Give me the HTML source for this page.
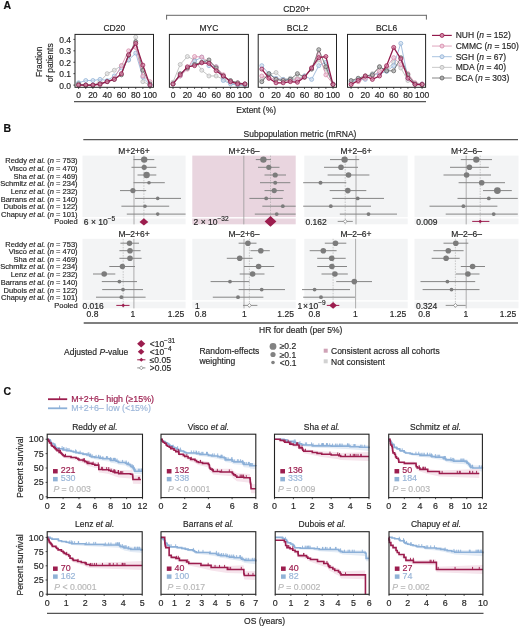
<!DOCTYPE html>
<html><head><meta charset="utf-8"><title>Figure</title>
<style>
html,body{margin:0;padding:0;background:#fff;}
body{width:520px;height:627px;overflow:hidden;}
svg{display:block;filter:blur(0.35px);color:#282828;} text{stroke:currentColor;stroke-width:0.18px;font-family:"Liberation Sans", sans-serif;}
</style></head><body>
<svg width="520" height="627" viewBox="0 0 520 627">
<rect x="0" y="0" width="520" height="627" fill="#fff"/>
<text transform="translate(3.60 9.30) scale(1.0 1)" font-size="10.5" text-anchor="start" fill="#111" style="color:#111" font-weight="bold"  >A</text>
<line x1="166.60" y1="15.30" x2="426.40" y2="15.30" stroke="#666" stroke-width="1" />
<line x1="166.60" y1="14.80" x2="166.60" y2="19.60" stroke="#666" stroke-width="1" />
<line x1="426.40" y1="14.80" x2="426.40" y2="19.60" stroke="#666" stroke-width="1" />
<text transform="translate(296.50 12.00) scale(1.0 1)" font-size="8.5" text-anchor="middle" fill="#282828" style="color:#282828" font-weight="normal"  >CD20+</text>
<text transform="translate(114.25 30.70) scale(1.0 1)" font-size="8.5" text-anchor="middle" fill="#282828" style="color:#282828" font-weight="normal"  >CD20</text>
<polyline points="78.60,85.10 85.74,85.10 92.88,85.10 100.02,81.67 107.16,73.67 114.30,70.25 121.44,65.68 128.58,59.96 135.72,37.11 142.86,81.67 150.00,85.10" fill="none" stroke="#b5b5b5" stroke-width="0.8"/>
<circle cx="78.60" cy="85.10" r="2.0" fill="#e2e2e2" fill-opacity="0.7" stroke="#b5b5b5" stroke-width="0.75"/>
<circle cx="85.74" cy="85.10" r="2.0" fill="#e2e2e2" fill-opacity="0.7" stroke="#b5b5b5" stroke-width="0.75"/>
<circle cx="92.88" cy="85.10" r="2.0" fill="#e2e2e2" fill-opacity="0.7" stroke="#b5b5b5" stroke-width="0.75"/>
<circle cx="100.02" cy="81.67" r="2.0" fill="#e2e2e2" fill-opacity="0.7" stroke="#b5b5b5" stroke-width="0.75"/>
<circle cx="107.16" cy="73.67" r="2.0" fill="#e2e2e2" fill-opacity="0.7" stroke="#b5b5b5" stroke-width="0.75"/>
<circle cx="114.30" cy="70.25" r="2.0" fill="#e2e2e2" fill-opacity="0.7" stroke="#b5b5b5" stroke-width="0.75"/>
<circle cx="121.44" cy="65.68" r="2.0" fill="#e2e2e2" fill-opacity="0.7" stroke="#b5b5b5" stroke-width="0.75"/>
<circle cx="128.58" cy="59.96" r="2.0" fill="#e2e2e2" fill-opacity="0.7" stroke="#b5b5b5" stroke-width="0.75"/>
<circle cx="135.72" cy="37.11" r="2.0" fill="#e2e2e2" fill-opacity="0.7" stroke="#b5b5b5" stroke-width="0.75"/>
<circle cx="142.86" cy="81.67" r="2.0" fill="#e2e2e2" fill-opacity="0.7" stroke="#b5b5b5" stroke-width="0.75"/>
<circle cx="150.00" cy="85.10" r="2.0" fill="#e2e2e2" fill-opacity="0.7" stroke="#b5b5b5" stroke-width="0.75"/>
<polyline points="78.60,82.81 85.74,80.53 92.88,80.53 100.02,79.39 107.16,80.53 114.30,75.96 121.44,67.96 128.58,59.96 135.72,53.11 142.86,77.10 150.00,85.10" fill="none" stroke="#8eb0d6" stroke-width="0.8"/>
<circle cx="78.60" cy="82.81" r="2.0" fill="#d3e0f0" fill-opacity="0.7" stroke="#8eb0d6" stroke-width="0.75"/>
<circle cx="85.74" cy="80.53" r="2.0" fill="#d3e0f0" fill-opacity="0.7" stroke="#8eb0d6" stroke-width="0.75"/>
<circle cx="92.88" cy="80.53" r="2.0" fill="#d3e0f0" fill-opacity="0.7" stroke="#8eb0d6" stroke-width="0.75"/>
<circle cx="100.02" cy="79.39" r="2.0" fill="#d3e0f0" fill-opacity="0.7" stroke="#8eb0d6" stroke-width="0.75"/>
<circle cx="107.16" cy="80.53" r="2.0" fill="#d3e0f0" fill-opacity="0.7" stroke="#8eb0d6" stroke-width="0.75"/>
<circle cx="114.30" cy="75.96" r="2.0" fill="#d3e0f0" fill-opacity="0.7" stroke="#8eb0d6" stroke-width="0.75"/>
<circle cx="121.44" cy="67.96" r="2.0" fill="#d3e0f0" fill-opacity="0.7" stroke="#8eb0d6" stroke-width="0.75"/>
<circle cx="128.58" cy="59.96" r="2.0" fill="#d3e0f0" fill-opacity="0.7" stroke="#8eb0d6" stroke-width="0.75"/>
<circle cx="135.72" cy="53.11" r="2.0" fill="#d3e0f0" fill-opacity="0.7" stroke="#8eb0d6" stroke-width="0.75"/>
<circle cx="142.86" cy="77.10" r="2.0" fill="#d3e0f0" fill-opacity="0.7" stroke="#8eb0d6" stroke-width="0.75"/>
<circle cx="150.00" cy="85.10" r="2.0" fill="#d3e0f0" fill-opacity="0.7" stroke="#8eb0d6" stroke-width="0.75"/>
<polyline points="78.60,85.10 85.74,85.10 92.88,85.10 100.02,85.10 107.16,81.67 114.30,78.24 121.44,65.68 128.58,50.82 135.72,47.40 142.86,75.96 150.00,81.67" fill="none" stroke="#d488a8" stroke-width="0.8"/>
<circle cx="78.60" cy="85.10" r="2.0" fill="#f0cadb" fill-opacity="0.7" stroke="#d488a8" stroke-width="0.75"/>
<circle cx="85.74" cy="85.10" r="2.0" fill="#f0cadb" fill-opacity="0.7" stroke="#d488a8" stroke-width="0.75"/>
<circle cx="92.88" cy="85.10" r="2.0" fill="#f0cadb" fill-opacity="0.7" stroke="#d488a8" stroke-width="0.75"/>
<circle cx="100.02" cy="85.10" r="2.0" fill="#f0cadb" fill-opacity="0.7" stroke="#d488a8" stroke-width="0.75"/>
<circle cx="107.16" cy="81.67" r="2.0" fill="#f0cadb" fill-opacity="0.7" stroke="#d488a8" stroke-width="0.75"/>
<circle cx="114.30" cy="78.24" r="2.0" fill="#f0cadb" fill-opacity="0.7" stroke="#d488a8" stroke-width="0.75"/>
<circle cx="121.44" cy="65.68" r="2.0" fill="#f0cadb" fill-opacity="0.7" stroke="#d488a8" stroke-width="0.75"/>
<circle cx="128.58" cy="50.82" r="2.0" fill="#f0cadb" fill-opacity="0.7" stroke="#d488a8" stroke-width="0.75"/>
<circle cx="135.72" cy="47.40" r="2.0" fill="#f0cadb" fill-opacity="0.7" stroke="#d488a8" stroke-width="0.75"/>
<circle cx="142.86" cy="75.96" r="2.0" fill="#f0cadb" fill-opacity="0.7" stroke="#d488a8" stroke-width="0.75"/>
<circle cx="150.00" cy="81.67" r="2.0" fill="#f0cadb" fill-opacity="0.7" stroke="#d488a8" stroke-width="0.75"/>
<polyline points="78.60,83.96 85.74,85.10 92.88,85.10 100.02,83.96 107.16,81.67 114.30,79.39 121.44,74.82 128.58,55.39 135.72,41.68 142.86,70.25 150.00,83.96" fill="none" stroke="#5e5e5e" stroke-width="0.8"/>
<circle cx="78.60" cy="83.96" r="2.0" fill="#b0b0b0" fill-opacity="0.7" stroke="#5e5e5e" stroke-width="0.75"/>
<circle cx="85.74" cy="85.10" r="2.0" fill="#b0b0b0" fill-opacity="0.7" stroke="#5e5e5e" stroke-width="0.75"/>
<circle cx="92.88" cy="85.10" r="2.0" fill="#b0b0b0" fill-opacity="0.7" stroke="#5e5e5e" stroke-width="0.75"/>
<circle cx="100.02" cy="83.96" r="2.0" fill="#b0b0b0" fill-opacity="0.7" stroke="#5e5e5e" stroke-width="0.75"/>
<circle cx="107.16" cy="81.67" r="2.0" fill="#b0b0b0" fill-opacity="0.7" stroke="#5e5e5e" stroke-width="0.75"/>
<circle cx="114.30" cy="79.39" r="2.0" fill="#b0b0b0" fill-opacity="0.7" stroke="#5e5e5e" stroke-width="0.75"/>
<circle cx="121.44" cy="74.82" r="2.0" fill="#b0b0b0" fill-opacity="0.7" stroke="#5e5e5e" stroke-width="0.75"/>
<circle cx="128.58" cy="55.39" r="2.0" fill="#b0b0b0" fill-opacity="0.7" stroke="#5e5e5e" stroke-width="0.75"/>
<circle cx="135.72" cy="41.68" r="2.0" fill="#b0b0b0" fill-opacity="0.7" stroke="#5e5e5e" stroke-width="0.75"/>
<circle cx="142.86" cy="70.25" r="2.0" fill="#b0b0b0" fill-opacity="0.7" stroke="#5e5e5e" stroke-width="0.75"/>
<circle cx="150.00" cy="83.96" r="2.0" fill="#b0b0b0" fill-opacity="0.7" stroke="#5e5e5e" stroke-width="0.75"/>
<polyline points="78.60,85.10 85.74,85.10 92.88,85.10 100.02,83.96 107.16,81.67 114.30,79.39 121.44,73.67 128.58,54.82 135.72,43.40 142.86,65.11 150.00,85.10" fill="none" stroke="#931a4c" stroke-width="1.25"/>
<circle cx="78.60" cy="85.10" r="2.0" fill="#d68aa9" fill-opacity="0.7" stroke="#931a4c" stroke-width="0.75"/>
<circle cx="85.74" cy="85.10" r="2.0" fill="#d68aa9" fill-opacity="0.7" stroke="#931a4c" stroke-width="0.75"/>
<circle cx="92.88" cy="85.10" r="2.0" fill="#d68aa9" fill-opacity="0.7" stroke="#931a4c" stroke-width="0.75"/>
<circle cx="100.02" cy="83.96" r="2.0" fill="#d68aa9" fill-opacity="0.7" stroke="#931a4c" stroke-width="0.75"/>
<circle cx="107.16" cy="81.67" r="2.0" fill="#d68aa9" fill-opacity="0.7" stroke="#931a4c" stroke-width="0.75"/>
<circle cx="114.30" cy="79.39" r="2.0" fill="#d68aa9" fill-opacity="0.7" stroke="#931a4c" stroke-width="0.75"/>
<circle cx="121.44" cy="73.67" r="2.0" fill="#d68aa9" fill-opacity="0.7" stroke="#931a4c" stroke-width="0.75"/>
<circle cx="128.58" cy="54.82" r="2.0" fill="#d68aa9" fill-opacity="0.7" stroke="#931a4c" stroke-width="0.75"/>
<circle cx="135.72" cy="43.40" r="2.0" fill="#d68aa9" fill-opacity="0.7" stroke="#931a4c" stroke-width="0.75"/>
<circle cx="142.86" cy="65.11" r="2.0" fill="#d68aa9" fill-opacity="0.7" stroke="#931a4c" stroke-width="0.75"/>
<circle cx="150.00" cy="85.10" r="2.0" fill="#d68aa9" fill-opacity="0.7" stroke="#931a4c" stroke-width="0.75"/>
<rect x="75.00" y="34.40" width="78.50" height="52.90" fill="none" stroke="#222" stroke-width="1.0"/>
<line x1="78.60" y1="87.30" x2="78.60" y2="88.90" stroke="#222" stroke-width="0.8" />
<text transform="translate(78.60 98.40) scale(1.0 1)" font-size="8.5" text-anchor="middle" fill="#282828" style="color:#282828" font-weight="normal"  >0</text>
<line x1="85.74" y1="87.30" x2="85.74" y2="88.90" stroke="#222" stroke-width="0.8" />
<line x1="92.88" y1="87.30" x2="92.88" y2="88.90" stroke="#222" stroke-width="0.8" />
<text transform="translate(92.88 98.40) scale(1.0 1)" font-size="8.5" text-anchor="middle" fill="#282828" style="color:#282828" font-weight="normal"  >20</text>
<line x1="100.02" y1="87.30" x2="100.02" y2="88.90" stroke="#222" stroke-width="0.8" />
<line x1="107.16" y1="87.30" x2="107.16" y2="88.90" stroke="#222" stroke-width="0.8" />
<text transform="translate(107.16 98.40) scale(1.0 1)" font-size="8.5" text-anchor="middle" fill="#282828" style="color:#282828" font-weight="normal"  >40</text>
<line x1="114.30" y1="87.30" x2="114.30" y2="88.90" stroke="#222" stroke-width="0.8" />
<line x1="121.44" y1="87.30" x2="121.44" y2="88.90" stroke="#222" stroke-width="0.8" />
<text transform="translate(121.44 98.40) scale(1.0 1)" font-size="8.5" text-anchor="middle" fill="#282828" style="color:#282828" font-weight="normal"  >60</text>
<line x1="128.58" y1="87.30" x2="128.58" y2="88.90" stroke="#222" stroke-width="0.8" />
<line x1="135.72" y1="87.30" x2="135.72" y2="88.90" stroke="#222" stroke-width="0.8" />
<text transform="translate(135.72 98.40) scale(1.0 1)" font-size="8.5" text-anchor="middle" fill="#282828" style="color:#282828" font-weight="normal"  >80</text>
<line x1="142.86" y1="87.30" x2="142.86" y2="88.90" stroke="#222" stroke-width="0.8" />
<line x1="150.00" y1="87.30" x2="150.00" y2="88.90" stroke="#222" stroke-width="0.8" />
<text transform="translate(150.00 98.40) scale(1.0 1)" font-size="8.5" text-anchor="middle" fill="#282828" style="color:#282828" font-weight="normal"  >100</text>
<text transform="translate(208.90 30.70) scale(1.0 1)" font-size="8.5" text-anchor="middle" fill="#282828" style="color:#282828" font-weight="normal"  >MYC</text>
<polyline points="173.00,82.24 180.19,64.53 187.38,56.54 194.57,59.96 201.76,70.25 208.95,75.96 216.14,75.96 223.33,79.39 230.52,82.81 237.71,85.10 244.90,85.10" fill="none" stroke="#b5b5b5" stroke-width="0.8"/>
<circle cx="173.00" cy="82.24" r="2.0" fill="#e2e2e2" fill-opacity="0.7" stroke="#b5b5b5" stroke-width="0.75"/>
<circle cx="180.19" cy="64.53" r="2.0" fill="#e2e2e2" fill-opacity="0.7" stroke="#b5b5b5" stroke-width="0.75"/>
<circle cx="187.38" cy="56.54" r="2.0" fill="#e2e2e2" fill-opacity="0.7" stroke="#b5b5b5" stroke-width="0.75"/>
<circle cx="194.57" cy="59.96" r="2.0" fill="#e2e2e2" fill-opacity="0.7" stroke="#b5b5b5" stroke-width="0.75"/>
<circle cx="201.76" cy="70.25" r="2.0" fill="#e2e2e2" fill-opacity="0.7" stroke="#b5b5b5" stroke-width="0.75"/>
<circle cx="208.95" cy="75.96" r="2.0" fill="#e2e2e2" fill-opacity="0.7" stroke="#b5b5b5" stroke-width="0.75"/>
<circle cx="216.14" cy="75.96" r="2.0" fill="#e2e2e2" fill-opacity="0.7" stroke="#b5b5b5" stroke-width="0.75"/>
<circle cx="223.33" cy="79.39" r="2.0" fill="#e2e2e2" fill-opacity="0.7" stroke="#b5b5b5" stroke-width="0.75"/>
<circle cx="230.52" cy="82.81" r="2.0" fill="#e2e2e2" fill-opacity="0.7" stroke="#b5b5b5" stroke-width="0.75"/>
<circle cx="237.71" cy="85.10" r="2.0" fill="#e2e2e2" fill-opacity="0.7" stroke="#b5b5b5" stroke-width="0.75"/>
<circle cx="244.90" cy="85.10" r="2.0" fill="#e2e2e2" fill-opacity="0.7" stroke="#b5b5b5" stroke-width="0.75"/>
<polyline points="173.00,83.96 180.19,75.96 187.38,67.96 194.57,61.11 201.76,57.11 208.95,65.68 216.14,66.82 223.33,80.53 230.52,83.96 237.71,85.10 244.90,85.10" fill="none" stroke="#8eb0d6" stroke-width="0.8"/>
<circle cx="173.00" cy="83.96" r="2.0" fill="#d3e0f0" fill-opacity="0.7" stroke="#8eb0d6" stroke-width="0.75"/>
<circle cx="180.19" cy="75.96" r="2.0" fill="#d3e0f0" fill-opacity="0.7" stroke="#8eb0d6" stroke-width="0.75"/>
<circle cx="187.38" cy="67.96" r="2.0" fill="#d3e0f0" fill-opacity="0.7" stroke="#8eb0d6" stroke-width="0.75"/>
<circle cx="194.57" cy="61.11" r="2.0" fill="#d3e0f0" fill-opacity="0.7" stroke="#8eb0d6" stroke-width="0.75"/>
<circle cx="201.76" cy="57.11" r="2.0" fill="#d3e0f0" fill-opacity="0.7" stroke="#8eb0d6" stroke-width="0.75"/>
<circle cx="208.95" cy="65.68" r="2.0" fill="#d3e0f0" fill-opacity="0.7" stroke="#8eb0d6" stroke-width="0.75"/>
<circle cx="216.14" cy="66.82" r="2.0" fill="#d3e0f0" fill-opacity="0.7" stroke="#8eb0d6" stroke-width="0.75"/>
<circle cx="223.33" cy="80.53" r="2.0" fill="#d3e0f0" fill-opacity="0.7" stroke="#8eb0d6" stroke-width="0.75"/>
<circle cx="230.52" cy="83.96" r="2.0" fill="#d3e0f0" fill-opacity="0.7" stroke="#8eb0d6" stroke-width="0.75"/>
<circle cx="237.71" cy="85.10" r="2.0" fill="#d3e0f0" fill-opacity="0.7" stroke="#8eb0d6" stroke-width="0.75"/>
<circle cx="244.90" cy="85.10" r="2.0" fill="#d3e0f0" fill-opacity="0.7" stroke="#8eb0d6" stroke-width="0.75"/>
<polyline points="173.00,83.96 180.19,75.96 187.38,69.10 194.57,56.54 201.76,57.11 208.95,62.25 216.14,66.82 223.33,74.82 230.52,81.67 237.71,82.81 244.90,83.96" fill="none" stroke="#d488a8" stroke-width="0.8"/>
<circle cx="173.00" cy="83.96" r="2.0" fill="#f0cadb" fill-opacity="0.7" stroke="#d488a8" stroke-width="0.75"/>
<circle cx="180.19" cy="75.96" r="2.0" fill="#f0cadb" fill-opacity="0.7" stroke="#d488a8" stroke-width="0.75"/>
<circle cx="187.38" cy="69.10" r="2.0" fill="#f0cadb" fill-opacity="0.7" stroke="#d488a8" stroke-width="0.75"/>
<circle cx="194.57" cy="56.54" r="2.0" fill="#f0cadb" fill-opacity="0.7" stroke="#d488a8" stroke-width="0.75"/>
<circle cx="201.76" cy="57.11" r="2.0" fill="#f0cadb" fill-opacity="0.7" stroke="#d488a8" stroke-width="0.75"/>
<circle cx="208.95" cy="62.25" r="2.0" fill="#f0cadb" fill-opacity="0.7" stroke="#d488a8" stroke-width="0.75"/>
<circle cx="216.14" cy="66.82" r="2.0" fill="#f0cadb" fill-opacity="0.7" stroke="#d488a8" stroke-width="0.75"/>
<circle cx="223.33" cy="74.82" r="2.0" fill="#f0cadb" fill-opacity="0.7" stroke="#d488a8" stroke-width="0.75"/>
<circle cx="230.52" cy="81.67" r="2.0" fill="#f0cadb" fill-opacity="0.7" stroke="#d488a8" stroke-width="0.75"/>
<circle cx="237.71" cy="82.81" r="2.0" fill="#f0cadb" fill-opacity="0.7" stroke="#d488a8" stroke-width="0.75"/>
<circle cx="244.90" cy="83.96" r="2.0" fill="#f0cadb" fill-opacity="0.7" stroke="#d488a8" stroke-width="0.75"/>
<polyline points="173.00,83.96 180.19,73.67 187.38,67.96 194.57,64.53 201.76,62.25 208.95,59.96 216.14,67.96 223.33,75.96 230.52,80.53 237.71,82.81 244.90,83.96" fill="none" stroke="#5e5e5e" stroke-width="0.8"/>
<circle cx="173.00" cy="83.96" r="2.0" fill="#b0b0b0" fill-opacity="0.7" stroke="#5e5e5e" stroke-width="0.75"/>
<circle cx="180.19" cy="73.67" r="2.0" fill="#b0b0b0" fill-opacity="0.7" stroke="#5e5e5e" stroke-width="0.75"/>
<circle cx="187.38" cy="67.96" r="2.0" fill="#b0b0b0" fill-opacity="0.7" stroke="#5e5e5e" stroke-width="0.75"/>
<circle cx="194.57" cy="64.53" r="2.0" fill="#b0b0b0" fill-opacity="0.7" stroke="#5e5e5e" stroke-width="0.75"/>
<circle cx="201.76" cy="62.25" r="2.0" fill="#b0b0b0" fill-opacity="0.7" stroke="#5e5e5e" stroke-width="0.75"/>
<circle cx="208.95" cy="59.96" r="2.0" fill="#b0b0b0" fill-opacity="0.7" stroke="#5e5e5e" stroke-width="0.75"/>
<circle cx="216.14" cy="67.96" r="2.0" fill="#b0b0b0" fill-opacity="0.7" stroke="#5e5e5e" stroke-width="0.75"/>
<circle cx="223.33" cy="75.96" r="2.0" fill="#b0b0b0" fill-opacity="0.7" stroke="#5e5e5e" stroke-width="0.75"/>
<circle cx="230.52" cy="80.53" r="2.0" fill="#b0b0b0" fill-opacity="0.7" stroke="#5e5e5e" stroke-width="0.75"/>
<circle cx="237.71" cy="82.81" r="2.0" fill="#b0b0b0" fill-opacity="0.7" stroke="#5e5e5e" stroke-width="0.75"/>
<circle cx="244.90" cy="83.96" r="2.0" fill="#b0b0b0" fill-opacity="0.7" stroke="#5e5e5e" stroke-width="0.75"/>
<polyline points="173.00,83.96 180.19,74.82 187.38,66.82 194.57,65.68 201.76,62.82 208.95,63.39 216.14,70.82 223.33,75.96 230.52,81.67 237.71,83.96 244.90,83.96" fill="none" stroke="#931a4c" stroke-width="1.25"/>
<circle cx="173.00" cy="83.96" r="2.0" fill="#d68aa9" fill-opacity="0.7" stroke="#931a4c" stroke-width="0.75"/>
<circle cx="180.19" cy="74.82" r="2.0" fill="#d68aa9" fill-opacity="0.7" stroke="#931a4c" stroke-width="0.75"/>
<circle cx="187.38" cy="66.82" r="2.0" fill="#d68aa9" fill-opacity="0.7" stroke="#931a4c" stroke-width="0.75"/>
<circle cx="194.57" cy="65.68" r="2.0" fill="#d68aa9" fill-opacity="0.7" stroke="#931a4c" stroke-width="0.75"/>
<circle cx="201.76" cy="62.82" r="2.0" fill="#d68aa9" fill-opacity="0.7" stroke="#931a4c" stroke-width="0.75"/>
<circle cx="208.95" cy="63.39" r="2.0" fill="#d68aa9" fill-opacity="0.7" stroke="#931a4c" stroke-width="0.75"/>
<circle cx="216.14" cy="70.82" r="2.0" fill="#d68aa9" fill-opacity="0.7" stroke="#931a4c" stroke-width="0.75"/>
<circle cx="223.33" cy="75.96" r="2.0" fill="#d68aa9" fill-opacity="0.7" stroke="#931a4c" stroke-width="0.75"/>
<circle cx="230.52" cy="81.67" r="2.0" fill="#d68aa9" fill-opacity="0.7" stroke="#931a4c" stroke-width="0.75"/>
<circle cx="237.71" cy="83.96" r="2.0" fill="#d68aa9" fill-opacity="0.7" stroke="#931a4c" stroke-width="0.75"/>
<circle cx="244.90" cy="83.96" r="2.0" fill="#d68aa9" fill-opacity="0.7" stroke="#931a4c" stroke-width="0.75"/>
<rect x="169.40" y="34.40" width="79.00" height="52.90" fill="none" stroke="#222" stroke-width="1.0"/>
<line x1="173.00" y1="87.30" x2="173.00" y2="88.90" stroke="#222" stroke-width="0.8" />
<text transform="translate(173.00 98.40) scale(1.0 1)" font-size="8.5" text-anchor="middle" fill="#282828" style="color:#282828" font-weight="normal"  >0</text>
<line x1="180.19" y1="87.30" x2="180.19" y2="88.90" stroke="#222" stroke-width="0.8" />
<line x1="187.38" y1="87.30" x2="187.38" y2="88.90" stroke="#222" stroke-width="0.8" />
<text transform="translate(187.38 98.40) scale(1.0 1)" font-size="8.5" text-anchor="middle" fill="#282828" style="color:#282828" font-weight="normal"  >20</text>
<line x1="194.57" y1="87.30" x2="194.57" y2="88.90" stroke="#222" stroke-width="0.8" />
<line x1="201.76" y1="87.30" x2="201.76" y2="88.90" stroke="#222" stroke-width="0.8" />
<text transform="translate(201.76 98.40) scale(1.0 1)" font-size="8.5" text-anchor="middle" fill="#282828" style="color:#282828" font-weight="normal"  >40</text>
<line x1="208.95" y1="87.30" x2="208.95" y2="88.90" stroke="#222" stroke-width="0.8" />
<line x1="216.14" y1="87.30" x2="216.14" y2="88.90" stroke="#222" stroke-width="0.8" />
<text transform="translate(216.14 98.40) scale(1.0 1)" font-size="8.5" text-anchor="middle" fill="#282828" style="color:#282828" font-weight="normal"  >60</text>
<line x1="223.33" y1="87.30" x2="223.33" y2="88.90" stroke="#222" stroke-width="0.8" />
<line x1="230.52" y1="87.30" x2="230.52" y2="88.90" stroke="#222" stroke-width="0.8" />
<text transform="translate(230.52 98.40) scale(1.0 1)" font-size="8.5" text-anchor="middle" fill="#282828" style="color:#282828" font-weight="normal"  >80</text>
<line x1="237.71" y1="87.30" x2="237.71" y2="88.90" stroke="#222" stroke-width="0.8" />
<line x1="244.90" y1="87.30" x2="244.90" y2="88.90" stroke="#222" stroke-width="0.8" />
<text transform="translate(244.90 98.40) scale(1.0 1)" font-size="8.5" text-anchor="middle" fill="#282828" style="color:#282828" font-weight="normal"  >100</text>
<text transform="translate(297.35 30.70) scale(1.0 1)" font-size="8.5" text-anchor="middle" fill="#282828" style="color:#282828" font-weight="normal"  >BCL2</text>
<polyline points="261.80,79.39 268.92,74.82 276.04,72.53 283.16,79.39 290.28,78.24 297.40,78.24 304.52,75.96 311.64,69.10 318.76,59.96 325.88,69.10 333.00,83.96" fill="none" stroke="#b5b5b5" stroke-width="0.8"/>
<circle cx="261.80" cy="79.39" r="2.0" fill="#e2e2e2" fill-opacity="0.7" stroke="#b5b5b5" stroke-width="0.75"/>
<circle cx="268.92" cy="74.82" r="2.0" fill="#e2e2e2" fill-opacity="0.7" stroke="#b5b5b5" stroke-width="0.75"/>
<circle cx="276.04" cy="72.53" r="2.0" fill="#e2e2e2" fill-opacity="0.7" stroke="#b5b5b5" stroke-width="0.75"/>
<circle cx="283.16" cy="79.39" r="2.0" fill="#e2e2e2" fill-opacity="0.7" stroke="#b5b5b5" stroke-width="0.75"/>
<circle cx="290.28" cy="78.24" r="2.0" fill="#e2e2e2" fill-opacity="0.7" stroke="#b5b5b5" stroke-width="0.75"/>
<circle cx="297.40" cy="78.24" r="2.0" fill="#e2e2e2" fill-opacity="0.7" stroke="#b5b5b5" stroke-width="0.75"/>
<circle cx="304.52" cy="75.96" r="2.0" fill="#e2e2e2" fill-opacity="0.7" stroke="#b5b5b5" stroke-width="0.75"/>
<circle cx="311.64" cy="69.10" r="2.0" fill="#e2e2e2" fill-opacity="0.7" stroke="#b5b5b5" stroke-width="0.75"/>
<circle cx="318.76" cy="59.96" r="2.0" fill="#e2e2e2" fill-opacity="0.7" stroke="#b5b5b5" stroke-width="0.75"/>
<circle cx="325.88" cy="69.10" r="2.0" fill="#e2e2e2" fill-opacity="0.7" stroke="#b5b5b5" stroke-width="0.75"/>
<circle cx="333.00" cy="83.96" r="2.0" fill="#e2e2e2" fill-opacity="0.7" stroke="#b5b5b5" stroke-width="0.75"/>
<polyline points="261.80,65.68 268.92,73.67 276.04,78.24 283.16,79.39 290.28,79.39 297.40,80.53 304.52,75.96 311.64,79.39 318.76,65.68 325.88,62.25 333.00,83.96" fill="none" stroke="#8eb0d6" stroke-width="0.8"/>
<circle cx="261.80" cy="65.68" r="2.0" fill="#d3e0f0" fill-opacity="0.7" stroke="#8eb0d6" stroke-width="0.75"/>
<circle cx="268.92" cy="73.67" r="2.0" fill="#d3e0f0" fill-opacity="0.7" stroke="#8eb0d6" stroke-width="0.75"/>
<circle cx="276.04" cy="78.24" r="2.0" fill="#d3e0f0" fill-opacity="0.7" stroke="#8eb0d6" stroke-width="0.75"/>
<circle cx="283.16" cy="79.39" r="2.0" fill="#d3e0f0" fill-opacity="0.7" stroke="#8eb0d6" stroke-width="0.75"/>
<circle cx="290.28" cy="79.39" r="2.0" fill="#d3e0f0" fill-opacity="0.7" stroke="#8eb0d6" stroke-width="0.75"/>
<circle cx="297.40" cy="80.53" r="2.0" fill="#d3e0f0" fill-opacity="0.7" stroke="#8eb0d6" stroke-width="0.75"/>
<circle cx="304.52" cy="75.96" r="2.0" fill="#d3e0f0" fill-opacity="0.7" stroke="#8eb0d6" stroke-width="0.75"/>
<circle cx="311.64" cy="79.39" r="2.0" fill="#d3e0f0" fill-opacity="0.7" stroke="#8eb0d6" stroke-width="0.75"/>
<circle cx="318.76" cy="65.68" r="2.0" fill="#d3e0f0" fill-opacity="0.7" stroke="#8eb0d6" stroke-width="0.75"/>
<circle cx="325.88" cy="62.25" r="2.0" fill="#d3e0f0" fill-opacity="0.7" stroke="#8eb0d6" stroke-width="0.75"/>
<circle cx="333.00" cy="83.96" r="2.0" fill="#d3e0f0" fill-opacity="0.7" stroke="#8eb0d6" stroke-width="0.75"/>
<polyline points="261.80,75.96 268.92,78.24 276.04,79.39 283.16,80.53 290.28,80.53 297.40,79.39 304.52,77.10 311.64,67.96 318.76,54.25 325.88,74.82 333.00,83.96" fill="none" stroke="#d488a8" stroke-width="0.8"/>
<circle cx="261.80" cy="75.96" r="2.0" fill="#f0cadb" fill-opacity="0.7" stroke="#d488a8" stroke-width="0.75"/>
<circle cx="268.92" cy="78.24" r="2.0" fill="#f0cadb" fill-opacity="0.7" stroke="#d488a8" stroke-width="0.75"/>
<circle cx="276.04" cy="79.39" r="2.0" fill="#f0cadb" fill-opacity="0.7" stroke="#d488a8" stroke-width="0.75"/>
<circle cx="283.16" cy="80.53" r="2.0" fill="#f0cadb" fill-opacity="0.7" stroke="#d488a8" stroke-width="0.75"/>
<circle cx="290.28" cy="80.53" r="2.0" fill="#f0cadb" fill-opacity="0.7" stroke="#d488a8" stroke-width="0.75"/>
<circle cx="297.40" cy="79.39" r="2.0" fill="#f0cadb" fill-opacity="0.7" stroke="#d488a8" stroke-width="0.75"/>
<circle cx="304.52" cy="77.10" r="2.0" fill="#f0cadb" fill-opacity="0.7" stroke="#d488a8" stroke-width="0.75"/>
<circle cx="311.64" cy="67.96" r="2.0" fill="#f0cadb" fill-opacity="0.7" stroke="#d488a8" stroke-width="0.75"/>
<circle cx="318.76" cy="54.25" r="2.0" fill="#f0cadb" fill-opacity="0.7" stroke="#d488a8" stroke-width="0.75"/>
<circle cx="325.88" cy="74.82" r="2.0" fill="#f0cadb" fill-opacity="0.7" stroke="#d488a8" stroke-width="0.75"/>
<circle cx="333.00" cy="83.96" r="2.0" fill="#f0cadb" fill-opacity="0.7" stroke="#d488a8" stroke-width="0.75"/>
<polyline points="261.80,81.67 268.92,73.67 276.04,79.39 283.16,80.53 290.28,79.39 297.40,73.67 304.52,77.10 311.64,69.10 318.76,49.68 325.88,66.82 333.00,84.53" fill="none" stroke="#5e5e5e" stroke-width="0.8"/>
<circle cx="261.80" cy="81.67" r="2.0" fill="#b0b0b0" fill-opacity="0.7" stroke="#5e5e5e" stroke-width="0.75"/>
<circle cx="268.92" cy="73.67" r="2.0" fill="#b0b0b0" fill-opacity="0.7" stroke="#5e5e5e" stroke-width="0.75"/>
<circle cx="276.04" cy="79.39" r="2.0" fill="#b0b0b0" fill-opacity="0.7" stroke="#5e5e5e" stroke-width="0.75"/>
<circle cx="283.16" cy="80.53" r="2.0" fill="#b0b0b0" fill-opacity="0.7" stroke="#5e5e5e" stroke-width="0.75"/>
<circle cx="290.28" cy="79.39" r="2.0" fill="#b0b0b0" fill-opacity="0.7" stroke="#5e5e5e" stroke-width="0.75"/>
<circle cx="297.40" cy="73.67" r="2.0" fill="#b0b0b0" fill-opacity="0.7" stroke="#5e5e5e" stroke-width="0.75"/>
<circle cx="304.52" cy="77.10" r="2.0" fill="#b0b0b0" fill-opacity="0.7" stroke="#5e5e5e" stroke-width="0.75"/>
<circle cx="311.64" cy="69.10" r="2.0" fill="#b0b0b0" fill-opacity="0.7" stroke="#5e5e5e" stroke-width="0.75"/>
<circle cx="318.76" cy="49.68" r="2.0" fill="#b0b0b0" fill-opacity="0.7" stroke="#5e5e5e" stroke-width="0.75"/>
<circle cx="325.88" cy="66.82" r="2.0" fill="#b0b0b0" fill-opacity="0.7" stroke="#5e5e5e" stroke-width="0.75"/>
<circle cx="333.00" cy="84.53" r="2.0" fill="#b0b0b0" fill-opacity="0.7" stroke="#5e5e5e" stroke-width="0.75"/>
<polyline points="261.80,69.10 268.92,78.24 276.04,82.81 283.16,82.81 290.28,81.67 297.40,82.24 304.52,77.10 311.64,67.96 318.76,57.68 325.88,56.54 333.00,84.53" fill="none" stroke="#931a4c" stroke-width="1.25"/>
<circle cx="261.80" cy="69.10" r="2.0" fill="#d68aa9" fill-opacity="0.7" stroke="#931a4c" stroke-width="0.75"/>
<circle cx="268.92" cy="78.24" r="2.0" fill="#d68aa9" fill-opacity="0.7" stroke="#931a4c" stroke-width="0.75"/>
<circle cx="276.04" cy="82.81" r="2.0" fill="#d68aa9" fill-opacity="0.7" stroke="#931a4c" stroke-width="0.75"/>
<circle cx="283.16" cy="82.81" r="2.0" fill="#d68aa9" fill-opacity="0.7" stroke="#931a4c" stroke-width="0.75"/>
<circle cx="290.28" cy="81.67" r="2.0" fill="#d68aa9" fill-opacity="0.7" stroke="#931a4c" stroke-width="0.75"/>
<circle cx="297.40" cy="82.24" r="2.0" fill="#d68aa9" fill-opacity="0.7" stroke="#931a4c" stroke-width="0.75"/>
<circle cx="304.52" cy="77.10" r="2.0" fill="#d68aa9" fill-opacity="0.7" stroke="#931a4c" stroke-width="0.75"/>
<circle cx="311.64" cy="67.96" r="2.0" fill="#d68aa9" fill-opacity="0.7" stroke="#931a4c" stroke-width="0.75"/>
<circle cx="318.76" cy="57.68" r="2.0" fill="#d68aa9" fill-opacity="0.7" stroke="#931a4c" stroke-width="0.75"/>
<circle cx="325.88" cy="56.54" r="2.0" fill="#d68aa9" fill-opacity="0.7" stroke="#931a4c" stroke-width="0.75"/>
<circle cx="333.00" cy="84.53" r="2.0" fill="#d68aa9" fill-opacity="0.7" stroke="#931a4c" stroke-width="0.75"/>
<rect x="258.20" y="34.40" width="78.30" height="52.90" fill="none" stroke="#222" stroke-width="1.0"/>
<line x1="261.80" y1="87.30" x2="261.80" y2="88.90" stroke="#222" stroke-width="0.8" />
<text transform="translate(261.80 98.40) scale(1.0 1)" font-size="8.5" text-anchor="middle" fill="#282828" style="color:#282828" font-weight="normal"  >0</text>
<line x1="268.92" y1="87.30" x2="268.92" y2="88.90" stroke="#222" stroke-width="0.8" />
<line x1="276.04" y1="87.30" x2="276.04" y2="88.90" stroke="#222" stroke-width="0.8" />
<text transform="translate(276.04 98.40) scale(1.0 1)" font-size="8.5" text-anchor="middle" fill="#282828" style="color:#282828" font-weight="normal"  >20</text>
<line x1="283.16" y1="87.30" x2="283.16" y2="88.90" stroke="#222" stroke-width="0.8" />
<line x1="290.28" y1="87.30" x2="290.28" y2="88.90" stroke="#222" stroke-width="0.8" />
<text transform="translate(290.28 98.40) scale(1.0 1)" font-size="8.5" text-anchor="middle" fill="#282828" style="color:#282828" font-weight="normal"  >40</text>
<line x1="297.40" y1="87.30" x2="297.40" y2="88.90" stroke="#222" stroke-width="0.8" />
<line x1="304.52" y1="87.30" x2="304.52" y2="88.90" stroke="#222" stroke-width="0.8" />
<text transform="translate(304.52 98.40) scale(1.0 1)" font-size="8.5" text-anchor="middle" fill="#282828" style="color:#282828" font-weight="normal"  >60</text>
<line x1="311.64" y1="87.30" x2="311.64" y2="88.90" stroke="#222" stroke-width="0.8" />
<line x1="318.76" y1="87.30" x2="318.76" y2="88.90" stroke="#222" stroke-width="0.8" />
<text transform="translate(318.76 98.40) scale(1.0 1)" font-size="8.5" text-anchor="middle" fill="#282828" style="color:#282828" font-weight="normal"  >80</text>
<line x1="325.88" y1="87.30" x2="325.88" y2="88.90" stroke="#222" stroke-width="0.8" />
<line x1="333.00" y1="87.30" x2="333.00" y2="88.90" stroke="#222" stroke-width="0.8" />
<text transform="translate(333.00 98.40) scale(1.0 1)" font-size="8.5" text-anchor="middle" fill="#282828" style="color:#282828" font-weight="normal"  >100</text>
<text transform="translate(386.55 30.70) scale(1.0 1)" font-size="8.5" text-anchor="middle" fill="#282828" style="color:#282828" font-weight="normal"  >BCL6</text>
<polyline points="351.10,82.81 358.20,80.53 365.30,77.10 372.40,73.67 379.50,66.82 386.60,70.25 393.70,62.25 400.80,67.96 407.90,80.53 415.00,83.96 422.10,85.10" fill="none" stroke="#b5b5b5" stroke-width="0.8"/>
<circle cx="351.10" cy="82.81" r="2.0" fill="#e2e2e2" fill-opacity="0.7" stroke="#b5b5b5" stroke-width="0.75"/>
<circle cx="358.20" cy="80.53" r="2.0" fill="#e2e2e2" fill-opacity="0.7" stroke="#b5b5b5" stroke-width="0.75"/>
<circle cx="365.30" cy="77.10" r="2.0" fill="#e2e2e2" fill-opacity="0.7" stroke="#b5b5b5" stroke-width="0.75"/>
<circle cx="372.40" cy="73.67" r="2.0" fill="#e2e2e2" fill-opacity="0.7" stroke="#b5b5b5" stroke-width="0.75"/>
<circle cx="379.50" cy="66.82" r="2.0" fill="#e2e2e2" fill-opacity="0.7" stroke="#b5b5b5" stroke-width="0.75"/>
<circle cx="386.60" cy="70.25" r="2.0" fill="#e2e2e2" fill-opacity="0.7" stroke="#b5b5b5" stroke-width="0.75"/>
<circle cx="393.70" cy="62.25" r="2.0" fill="#e2e2e2" fill-opacity="0.7" stroke="#b5b5b5" stroke-width="0.75"/>
<circle cx="400.80" cy="67.96" r="2.0" fill="#e2e2e2" fill-opacity="0.7" stroke="#b5b5b5" stroke-width="0.75"/>
<circle cx="407.90" cy="80.53" r="2.0" fill="#e2e2e2" fill-opacity="0.7" stroke="#b5b5b5" stroke-width="0.75"/>
<circle cx="415.00" cy="83.96" r="2.0" fill="#e2e2e2" fill-opacity="0.7" stroke="#b5b5b5" stroke-width="0.75"/>
<circle cx="422.10" cy="85.10" r="2.0" fill="#e2e2e2" fill-opacity="0.7" stroke="#b5b5b5" stroke-width="0.75"/>
<polyline points="351.10,81.67 358.20,79.39 365.30,79.39 372.40,74.82 379.50,73.67 386.60,71.39 393.70,65.68 400.80,43.40 407.90,78.24 415.00,83.96 422.10,83.96" fill="none" stroke="#8eb0d6" stroke-width="0.8"/>
<circle cx="351.10" cy="81.67" r="2.0" fill="#d3e0f0" fill-opacity="0.7" stroke="#8eb0d6" stroke-width="0.75"/>
<circle cx="358.20" cy="79.39" r="2.0" fill="#d3e0f0" fill-opacity="0.7" stroke="#8eb0d6" stroke-width="0.75"/>
<circle cx="365.30" cy="79.39" r="2.0" fill="#d3e0f0" fill-opacity="0.7" stroke="#8eb0d6" stroke-width="0.75"/>
<circle cx="372.40" cy="74.82" r="2.0" fill="#d3e0f0" fill-opacity="0.7" stroke="#8eb0d6" stroke-width="0.75"/>
<circle cx="379.50" cy="73.67" r="2.0" fill="#d3e0f0" fill-opacity="0.7" stroke="#8eb0d6" stroke-width="0.75"/>
<circle cx="386.60" cy="71.39" r="2.0" fill="#d3e0f0" fill-opacity="0.7" stroke="#8eb0d6" stroke-width="0.75"/>
<circle cx="393.70" cy="65.68" r="2.0" fill="#d3e0f0" fill-opacity="0.7" stroke="#8eb0d6" stroke-width="0.75"/>
<circle cx="400.80" cy="43.40" r="2.0" fill="#d3e0f0" fill-opacity="0.7" stroke="#8eb0d6" stroke-width="0.75"/>
<circle cx="407.90" cy="78.24" r="2.0" fill="#d3e0f0" fill-opacity="0.7" stroke="#8eb0d6" stroke-width="0.75"/>
<circle cx="415.00" cy="83.96" r="2.0" fill="#d3e0f0" fill-opacity="0.7" stroke="#8eb0d6" stroke-width="0.75"/>
<circle cx="422.10" cy="83.96" r="2.0" fill="#d3e0f0" fill-opacity="0.7" stroke="#8eb0d6" stroke-width="0.75"/>
<polyline points="351.10,83.96 358.20,81.67 365.30,78.24 372.40,75.96 379.50,71.39 386.60,66.82 393.70,57.68 400.80,64.53 407.90,73.67 415.00,82.81 422.10,83.96" fill="none" stroke="#d488a8" stroke-width="0.8"/>
<circle cx="351.10" cy="83.96" r="2.0" fill="#f0cadb" fill-opacity="0.7" stroke="#d488a8" stroke-width="0.75"/>
<circle cx="358.20" cy="81.67" r="2.0" fill="#f0cadb" fill-opacity="0.7" stroke="#d488a8" stroke-width="0.75"/>
<circle cx="365.30" cy="78.24" r="2.0" fill="#f0cadb" fill-opacity="0.7" stroke="#d488a8" stroke-width="0.75"/>
<circle cx="372.40" cy="75.96" r="2.0" fill="#f0cadb" fill-opacity="0.7" stroke="#d488a8" stroke-width="0.75"/>
<circle cx="379.50" cy="71.39" r="2.0" fill="#f0cadb" fill-opacity="0.7" stroke="#d488a8" stroke-width="0.75"/>
<circle cx="386.60" cy="66.82" r="2.0" fill="#f0cadb" fill-opacity="0.7" stroke="#d488a8" stroke-width="0.75"/>
<circle cx="393.70" cy="57.68" r="2.0" fill="#f0cadb" fill-opacity="0.7" stroke="#d488a8" stroke-width="0.75"/>
<circle cx="400.80" cy="64.53" r="2.0" fill="#f0cadb" fill-opacity="0.7" stroke="#d488a8" stroke-width="0.75"/>
<circle cx="407.90" cy="73.67" r="2.0" fill="#f0cadb" fill-opacity="0.7" stroke="#d488a8" stroke-width="0.75"/>
<circle cx="415.00" cy="82.81" r="2.0" fill="#f0cadb" fill-opacity="0.7" stroke="#d488a8" stroke-width="0.75"/>
<circle cx="422.10" cy="83.96" r="2.0" fill="#f0cadb" fill-opacity="0.7" stroke="#d488a8" stroke-width="0.75"/>
<polyline points="351.10,80.53 358.20,78.24 365.30,75.96 372.40,74.82 379.50,66.82 386.60,70.82 393.70,70.82 400.80,57.68 407.90,74.82 415.00,83.96 422.10,84.53" fill="none" stroke="#5e5e5e" stroke-width="0.8"/>
<circle cx="351.10" cy="80.53" r="2.0" fill="#b0b0b0" fill-opacity="0.7" stroke="#5e5e5e" stroke-width="0.75"/>
<circle cx="358.20" cy="78.24" r="2.0" fill="#b0b0b0" fill-opacity="0.7" stroke="#5e5e5e" stroke-width="0.75"/>
<circle cx="365.30" cy="75.96" r="2.0" fill="#b0b0b0" fill-opacity="0.7" stroke="#5e5e5e" stroke-width="0.75"/>
<circle cx="372.40" cy="74.82" r="2.0" fill="#b0b0b0" fill-opacity="0.7" stroke="#5e5e5e" stroke-width="0.75"/>
<circle cx="379.50" cy="66.82" r="2.0" fill="#b0b0b0" fill-opacity="0.7" stroke="#5e5e5e" stroke-width="0.75"/>
<circle cx="386.60" cy="70.82" r="2.0" fill="#b0b0b0" fill-opacity="0.7" stroke="#5e5e5e" stroke-width="0.75"/>
<circle cx="393.70" cy="70.82" r="2.0" fill="#b0b0b0" fill-opacity="0.7" stroke="#5e5e5e" stroke-width="0.75"/>
<circle cx="400.80" cy="57.68" r="2.0" fill="#b0b0b0" fill-opacity="0.7" stroke="#5e5e5e" stroke-width="0.75"/>
<circle cx="407.90" cy="74.82" r="2.0" fill="#b0b0b0" fill-opacity="0.7" stroke="#5e5e5e" stroke-width="0.75"/>
<circle cx="415.00" cy="83.96" r="2.0" fill="#b0b0b0" fill-opacity="0.7" stroke="#5e5e5e" stroke-width="0.75"/>
<circle cx="422.10" cy="84.53" r="2.0" fill="#b0b0b0" fill-opacity="0.7" stroke="#5e5e5e" stroke-width="0.75"/>
<polyline points="351.10,84.53 358.20,80.53 365.30,75.96 372.40,79.39 379.50,75.96 386.60,65.68 393.70,47.40 400.80,58.82 407.90,78.24 415.00,84.53 422.10,84.53" fill="none" stroke="#931a4c" stroke-width="1.25"/>
<circle cx="351.10" cy="84.53" r="2.0" fill="#d68aa9" fill-opacity="0.7" stroke="#931a4c" stroke-width="0.75"/>
<circle cx="358.20" cy="80.53" r="2.0" fill="#d68aa9" fill-opacity="0.7" stroke="#931a4c" stroke-width="0.75"/>
<circle cx="365.30" cy="75.96" r="2.0" fill="#d68aa9" fill-opacity="0.7" stroke="#931a4c" stroke-width="0.75"/>
<circle cx="372.40" cy="79.39" r="2.0" fill="#d68aa9" fill-opacity="0.7" stroke="#931a4c" stroke-width="0.75"/>
<circle cx="379.50" cy="75.96" r="2.0" fill="#d68aa9" fill-opacity="0.7" stroke="#931a4c" stroke-width="0.75"/>
<circle cx="386.60" cy="65.68" r="2.0" fill="#d68aa9" fill-opacity="0.7" stroke="#931a4c" stroke-width="0.75"/>
<circle cx="393.70" cy="47.40" r="2.0" fill="#d68aa9" fill-opacity="0.7" stroke="#931a4c" stroke-width="0.75"/>
<circle cx="400.80" cy="58.82" r="2.0" fill="#d68aa9" fill-opacity="0.7" stroke="#931a4c" stroke-width="0.75"/>
<circle cx="407.90" cy="78.24" r="2.0" fill="#d68aa9" fill-opacity="0.7" stroke="#931a4c" stroke-width="0.75"/>
<circle cx="415.00" cy="84.53" r="2.0" fill="#d68aa9" fill-opacity="0.7" stroke="#931a4c" stroke-width="0.75"/>
<circle cx="422.10" cy="84.53" r="2.0" fill="#d68aa9" fill-opacity="0.7" stroke="#931a4c" stroke-width="0.75"/>
<rect x="347.50" y="34.40" width="78.10" height="52.90" fill="none" stroke="#222" stroke-width="1.0"/>
<line x1="351.10" y1="87.30" x2="351.10" y2="88.90" stroke="#222" stroke-width="0.8" />
<text transform="translate(351.10 98.40) scale(1.0 1)" font-size="8.5" text-anchor="middle" fill="#282828" style="color:#282828" font-weight="normal"  >0</text>
<line x1="358.20" y1="87.30" x2="358.20" y2="88.90" stroke="#222" stroke-width="0.8" />
<line x1="365.30" y1="87.30" x2="365.30" y2="88.90" stroke="#222" stroke-width="0.8" />
<text transform="translate(365.30 98.40) scale(1.0 1)" font-size="8.5" text-anchor="middle" fill="#282828" style="color:#282828" font-weight="normal"  >20</text>
<line x1="372.40" y1="87.30" x2="372.40" y2="88.90" stroke="#222" stroke-width="0.8" />
<line x1="379.50" y1="87.30" x2="379.50" y2="88.90" stroke="#222" stroke-width="0.8" />
<text transform="translate(379.50 98.40) scale(1.0 1)" font-size="8.5" text-anchor="middle" fill="#282828" style="color:#282828" font-weight="normal"  >40</text>
<line x1="386.60" y1="87.30" x2="386.60" y2="88.90" stroke="#222" stroke-width="0.8" />
<line x1="393.70" y1="87.30" x2="393.70" y2="88.90" stroke="#222" stroke-width="0.8" />
<text transform="translate(393.70 98.40) scale(1.0 1)" font-size="8.5" text-anchor="middle" fill="#282828" style="color:#282828" font-weight="normal"  >60</text>
<line x1="400.80" y1="87.30" x2="400.80" y2="88.90" stroke="#222" stroke-width="0.8" />
<line x1="407.90" y1="87.30" x2="407.90" y2="88.90" stroke="#222" stroke-width="0.8" />
<text transform="translate(407.90 98.40) scale(1.0 1)" font-size="8.5" text-anchor="middle" fill="#282828" style="color:#282828" font-weight="normal"  >80</text>
<line x1="415.00" y1="87.30" x2="415.00" y2="88.90" stroke="#222" stroke-width="0.8" />
<line x1="422.10" y1="87.30" x2="422.10" y2="88.90" stroke="#222" stroke-width="0.8" />
<text transform="translate(422.10 98.40) scale(1.0 1)" font-size="8.5" text-anchor="middle" fill="#282828" style="color:#282828" font-weight="normal"  >100</text>
<line x1="73.40" y1="85.10" x2="75.00" y2="85.10" stroke="#222" stroke-width="0.8" />
<text transform="translate(71.00 88.50) scale(1.0 1)" font-size="8.5" text-anchor="end" fill="#282828" style="color:#282828" font-weight="normal"  >0.0</text>
<line x1="73.40" y1="73.67" x2="75.00" y2="73.67" stroke="#222" stroke-width="0.8" />
<text transform="translate(71.00 77.08) scale(1.0 1)" font-size="8.5" text-anchor="end" fill="#282828" style="color:#282828" font-weight="normal"  >0.1</text>
<line x1="73.40" y1="62.25" x2="75.00" y2="62.25" stroke="#222" stroke-width="0.8" />
<text transform="translate(71.00 65.65) scale(1.0 1)" font-size="8.5" text-anchor="end" fill="#282828" style="color:#282828" font-weight="normal"  >0.2</text>
<line x1="73.40" y1="50.82" x2="75.00" y2="50.82" stroke="#222" stroke-width="0.8" />
<text transform="translate(71.00 54.22) scale(1.0 1)" font-size="8.5" text-anchor="end" fill="#282828" style="color:#282828" font-weight="normal"  >0.3</text>
<line x1="73.40" y1="39.40" x2="75.00" y2="39.40" stroke="#222" stroke-width="0.8" />
<text transform="translate(71.00 42.80) scale(1.0 1)" font-size="8.5" text-anchor="end" fill="#282828" style="color:#282828" font-weight="normal"  >0.4</text>
<text transform="translate(42.2,61.8) rotate(-90)" font-size="8.4" text-anchor="middle" fill="#282828">Fraction</text>
<text transform="translate(53.3,62.75) rotate(-90)" font-size="8.4" text-anchor="middle" fill="#282828">of patients</text>
<line x1="74.00" y1="101.70" x2="426.00" y2="101.70" stroke="#555" stroke-width="1.3" />
<text transform="translate(256.20 112.70) scale(1.0 1)" font-size="8.5" text-anchor="middle" fill="#282828" style="color:#282828" font-weight="normal"  >Extent (%)</text>
<line x1="432.00" y1="35.40" x2="451.80" y2="35.40" stroke="#931a4c" stroke-width="1.15" />
<circle cx="442" cy="35.40" r="2.0" fill="#d68aa9" stroke="#931a4c" stroke-width="0.8"/>
<text transform="translate(455.70 38.40) scale(1.0 1)" font-size="8.5" text-anchor="start" fill="#282828" style="color:#282828" font-weight="normal"  >NUH (<tspan font-style="italic">n</tspan> = 152)</text>
<line x1="432.00" y1="46.05" x2="451.80" y2="46.05" stroke="#d488a8" stroke-width="0.75" />
<circle cx="442" cy="46.05" r="2.0" fill="#f0cadb" stroke="#d488a8" stroke-width="0.8"/>
<text transform="translate(455.70 49.05) scale(1.0 1)" font-size="8.5" text-anchor="start" fill="#282828" style="color:#282828" font-weight="normal"  >CMMC (<tspan font-style="italic">n</tspan> = 150)</text>
<line x1="432.00" y1="56.70" x2="451.80" y2="56.70" stroke="#8eb0d6" stroke-width="0.75" />
<circle cx="442" cy="56.70" r="2.0" fill="#d3e0f0" stroke="#8eb0d6" stroke-width="0.8"/>
<text transform="translate(455.70 59.70) scale(1.0 1)" font-size="8.5" text-anchor="start" fill="#282828" style="color:#282828" font-weight="normal"  >SGH (<tspan font-style="italic">n</tspan> = 67)</text>
<line x1="432.00" y1="67.35" x2="451.80" y2="67.35" stroke="#b5b5b5" stroke-width="0.75" />
<circle cx="442" cy="67.35" r="2.0" fill="#e2e2e2" stroke="#b5b5b5" stroke-width="0.8"/>
<text transform="translate(455.70 70.35) scale(1.0 1)" font-size="8.5" text-anchor="start" fill="#282828" style="color:#282828" font-weight="normal"  >MDA (<tspan font-style="italic">n</tspan> = 40)</text>
<line x1="432.00" y1="78.00" x2="451.80" y2="78.00" stroke="#5e5e5e" stroke-width="0.75" />
<circle cx="442" cy="78.00" r="2.0" fill="#b0b0b0" stroke="#5e5e5e" stroke-width="0.8"/>
<text transform="translate(455.70 81.00) scale(1.0 1)" font-size="8.5" text-anchor="start" fill="#282828" style="color:#282828" font-weight="normal"  >BCA (<tspan font-style="italic">n</tspan> = 303)</text>
<text transform="translate(3.60 131.70) scale(1.0 1)" font-size="10.5" text-anchor="start" fill="#111" style="color:#111" font-weight="bold"  >B</text>
<line x1="83.30" y1="139.60" x2="518.00" y2="139.60" stroke="#555" stroke-width="1.3" />
<text transform="translate(300.00 137.00) scale(1.0 1)" font-size="8.5" text-anchor="middle" fill="#282828" style="color:#282828" font-weight="normal"  >Subpopulation metric (mRNA)</text>
<text transform="translate(77.60 163.40) scale(1.0 1)" font-size="7.5" text-anchor="end" fill="#282828" style="color:#282828" font-weight="normal"  >Reddy <tspan font-style="italic">et al.</tspan> (<tspan font-style="italic">n</tspan> = 753)</text>
<text transform="translate(77.60 171.20) scale(1.0 1)" font-size="7.5" text-anchor="end" fill="#282828" style="color:#282828" font-weight="normal"  >Visco <tspan font-style="italic">et al.</tspan> (<tspan font-style="italic">n</tspan> = 470)</text>
<text transform="translate(77.60 178.60) scale(1.0 1)" font-size="7.5" text-anchor="end" fill="#282828" style="color:#282828" font-weight="normal"  >Sha <tspan font-style="italic">et al.</tspan> (<tspan font-style="italic">n</tspan> = 469)</text>
<text transform="translate(77.60 186.30) scale(1.0 1)" font-size="7.5" text-anchor="end" fill="#282828" style="color:#282828" font-weight="normal"  >Schmitz <tspan font-style="italic">et al.</tspan> (<tspan font-style="italic">n</tspan> = 234)</text>
<text transform="translate(77.60 193.80) scale(1.0 1)" font-size="7.5" text-anchor="end" fill="#282828" style="color:#282828" font-weight="normal"  >Lenz <tspan font-style="italic">et al.</tspan> (<tspan font-style="italic">n</tspan> = 232)</text>
<text transform="translate(77.60 201.50) scale(1.0 1)" font-size="7.5" text-anchor="end" fill="#282828" style="color:#282828" font-weight="normal"  >Barrans <tspan font-style="italic">et al.</tspan> (<tspan font-style="italic">n</tspan> = 140)</text>
<text transform="translate(77.60 209.20) scale(1.0 1)" font-size="7.5" text-anchor="end" fill="#282828" style="color:#282828" font-weight="normal"  >Dubois <tspan font-style="italic">et al.</tspan> (<tspan font-style="italic">n</tspan> = 122)</text>
<text transform="translate(77.60 217.00) scale(1.0 1)" font-size="7.5" text-anchor="end" fill="#282828" style="color:#282828" font-weight="normal"  >Chapuy <tspan font-style="italic">et al.</tspan> (<tspan font-style="italic">n</tspan> = 101)</text>
<text transform="translate(77.60 224.40) scale(1.0 1)" font-size="7.5" text-anchor="end" fill="#282828" style="color:#282828" font-weight="normal"  >Pooled</text>
<text transform="translate(77.60 246.80) scale(1.0 1)" font-size="7.5" text-anchor="end" fill="#282828" style="color:#282828" font-weight="normal"  >Reddy <tspan font-style="italic">et al.</tspan> (<tspan font-style="italic">n</tspan> = 753)</text>
<text transform="translate(77.60 254.30) scale(1.0 1)" font-size="7.5" text-anchor="end" fill="#282828" style="color:#282828" font-weight="normal"  >Visco <tspan font-style="italic">et al.</tspan> (<tspan font-style="italic">n</tspan> = 470)</text>
<text transform="translate(77.60 262.00) scale(1.0 1)" font-size="7.5" text-anchor="end" fill="#282828" style="color:#282828" font-weight="normal"  >Sha <tspan font-style="italic">et al.</tspan> (<tspan font-style="italic">n</tspan> = 469)</text>
<text transform="translate(77.60 269.30) scale(1.0 1)" font-size="7.5" text-anchor="end" fill="#282828" style="color:#282828" font-weight="normal"  >Schmitz <tspan font-style="italic">et al.</tspan> (<tspan font-style="italic">n</tspan> = 234)</text>
<text transform="translate(77.60 277.20) scale(1.0 1)" font-size="7.5" text-anchor="end" fill="#282828" style="color:#282828" font-weight="normal"  >Lenz <tspan font-style="italic">et al.</tspan> (<tspan font-style="italic">n</tspan> = 232)</text>
<text transform="translate(77.60 284.90) scale(1.0 1)" font-size="7.5" text-anchor="end" fill="#282828" style="color:#282828" font-weight="normal"  >Barrans <tspan font-style="italic">et al.</tspan> (<tspan font-style="italic">n</tspan> = 140)</text>
<text transform="translate(77.60 292.50) scale(1.0 1)" font-size="7.5" text-anchor="end" fill="#282828" style="color:#282828" font-weight="normal"  >Dubois <tspan font-style="italic">et al.</tspan> (<tspan font-style="italic">n</tspan> = 122)</text>
<text transform="translate(77.60 300.40) scale(1.0 1)" font-size="7.5" text-anchor="end" fill="#282828" style="color:#282828" font-weight="normal"  >Chapuy <tspan font-style="italic">et al.</tspan> (<tspan font-style="italic">n</tspan> = 101)</text>
<text transform="translate(77.60 307.70) scale(1.0 1)" font-size="7.5" text-anchor="end" fill="#282828" style="color:#282828" font-weight="normal"  >Pooled</text>
<rect x="82.50" y="155.60" width="103.10" height="61.50" fill="#f3f4f5" />
<rect x="82.50" y="218.50" width="103.10" height="5.80" fill="#f3f4f5" />
<text transform="translate(134.05 153.60) scale(1.0 1)" font-size="8.5" text-anchor="middle" fill="#282828" style="color:#282828" font-weight="normal"  >M+2+6+</text>
<line x1="134.00" y1="155.60" x2="134.00" y2="224.40" stroke="#9a9a9a" stroke-width="0.8" />
<line x1="143.90" y1="155.60" x2="143.90" y2="224.40" stroke="#a8a8a8" stroke-width="0.6" stroke-dasharray="1.5,1.2"/>
<line x1="133.50" y1="159.60" x2="154.30" y2="159.60" stroke="#858585" stroke-width="1.0" />
<circle cx="144.20" cy="159.60" r="3.2" fill="#7c7c7c"/>
<line x1="131.50" y1="167.30" x2="156.30" y2="167.30" stroke="#858585" stroke-width="1.0" />
<circle cx="144.20" cy="167.30" r="2.6" fill="#7c7c7c"/>
<line x1="137.50" y1="175.00" x2="156.30" y2="175.00" stroke="#858585" stroke-width="1.0" />
<circle cx="146.60" cy="175.00" r="3.2" fill="#7c7c7c"/>
<line x1="133.50" y1="182.70" x2="164.80" y2="182.70" stroke="#858585" stroke-width="1.0" />
<circle cx="149.00" cy="182.70" r="1.8" fill="#7c7c7c"/>
<line x1="120.00" y1="190.60" x2="146.20" y2="190.60" stroke="#858585" stroke-width="1.0" />
<circle cx="132.90" cy="190.60" r="2.6" fill="#7c7c7c"/>
<line x1="135.00" y1="198.40" x2="181.00" y2="198.40" stroke="#858585" stroke-width="1.0" />
<circle cx="157.70" cy="198.40" r="1.8" fill="#7c7c7c"/>
<line x1="121.40" y1="206.20" x2="169.20" y2="206.20" stroke="#858585" stroke-width="1.0" />
<circle cx="145.00" cy="206.20" r="1.8" fill="#7c7c7c"/>
<line x1="126.80" y1="214.10" x2="185.60" y2="214.10" stroke="#858585" stroke-width="1.0" />
<circle cx="157.70" cy="214.10" r="1.8" fill="#7c7c7c"/>
<polygon points="139.50,221.90 143.90,218.30 148.30,221.90 143.90,225.50" fill="#9c1d4e" stroke="none" stroke-width="0"/>
<text transform="translate(83.80 224.70) scale(1.0 1)" font-size="8.5" text-anchor="start" fill="#282828" style="color:#282828" font-weight="normal"  >6 × 10<tspan font-size="6.5" dy="-3.6">−5</tspan></text>
<rect x="192.30" y="155.60" width="103.40" height="61.50" fill="#e9d5df" />
<rect x="192.30" y="218.50" width="103.40" height="5.80" fill="#e9d5df" />
<text transform="translate(244.00 153.60) scale(1.0 1)" font-size="8.5" text-anchor="middle" fill="#282828" style="color:#282828" font-weight="normal"  >M+2+6–</text>
<line x1="243.80" y1="155.60" x2="243.80" y2="224.40" stroke="#9a9a9a" stroke-width="0.8" />
<line x1="270.50" y1="155.60" x2="270.50" y2="224.40" stroke="#a8a8a8" stroke-width="0.6" stroke-dasharray="1.5,1.2"/>
<line x1="255.80" y1="159.60" x2="271.00" y2="159.60" stroke="#858585" stroke-width="1.0" />
<circle cx="263.40" cy="159.60" r="3.2" fill="#7c7c7c"/>
<line x1="258.00" y1="167.30" x2="279.50" y2="167.30" stroke="#858585" stroke-width="1.0" />
<circle cx="268.80" cy="167.30" r="2.6" fill="#7c7c7c"/>
<line x1="264.50" y1="175.00" x2="286.00" y2="175.00" stroke="#858585" stroke-width="1.0" />
<circle cx="275.20" cy="175.00" r="2.6" fill="#7c7c7c"/>
<line x1="260.00" y1="182.70" x2="290.30" y2="182.70" stroke="#858585" stroke-width="1.0" />
<circle cx="275.20" cy="182.70" r="2.0" fill="#7c7c7c"/>
<line x1="264.50" y1="190.60" x2="283.80" y2="190.60" stroke="#858585" stroke-width="1.0" />
<circle cx="274.20" cy="190.60" r="2.6" fill="#7c7c7c"/>
<line x1="249.40" y1="198.40" x2="282.80" y2="198.40" stroke="#858585" stroke-width="1.0" />
<circle cx="266.20" cy="198.40" r="1.9" fill="#7c7c7c"/>
<line x1="262.30" y1="206.20" x2="295.70" y2="206.20" stroke="#858585" stroke-width="1.0" />
<circle cx="282.80" cy="206.20" r="1.9" fill="#7c7c7c"/>
<line x1="254.80" y1="214.10" x2="295.70" y2="214.10" stroke="#858585" stroke-width="1.0" />
<circle cx="276.70" cy="214.10" r="1.9" fill="#7c7c7c"/>
<polygon points="264.60,221.40 270.50,216.00 276.40,221.40 270.50,226.80" fill="#9c1d4e" stroke="none" stroke-width="0"/>
<text transform="translate(193.60 224.70) scale(1.0 1)" font-size="8.5" text-anchor="start" fill="#282828" style="color:#282828" font-weight="normal"  >2 × 10<tspan font-size="6.5" dy="-3.6">−32</tspan></text>
<rect x="304.30" y="155.60" width="103.40" height="61.50" fill="#f3f4f5" />
<rect x="304.30" y="218.50" width="103.40" height="5.80" fill="#f3f4f5" />
<text transform="translate(356.00 153.60) scale(1.0 1)" font-size="8.5" text-anchor="middle" fill="#282828" style="color:#282828" font-weight="normal"  >M+2–6+</text>
<line x1="356.00" y1="155.60" x2="356.00" y2="224.40" stroke="#9a9a9a" stroke-width="0.8" />
<line x1="345.20" y1="155.60" x2="345.20" y2="224.40" stroke="#a8a8a8" stroke-width="0.6" stroke-dasharray="1.5,1.2"/>
<line x1="330.00" y1="159.60" x2="359.20" y2="159.60" stroke="#858585" stroke-width="1.0" />
<circle cx="344.60" cy="159.60" r="3.2" fill="#7c7c7c"/>
<line x1="324.00" y1="167.30" x2="358.00" y2="167.30" stroke="#858585" stroke-width="1.0" />
<circle cx="341.00" cy="167.30" r="2.8" fill="#7c7c7c"/>
<line x1="327.60" y1="175.00" x2="369.40" y2="175.00" stroke="#858585" stroke-width="1.0" />
<circle cx="348.50" cy="175.00" r="2.8" fill="#7c7c7c"/>
<line x1="303.20" y1="182.70" x2="346.30" y2="182.70" stroke="#858585" stroke-width="1.0" />
<circle cx="320.50" cy="182.70" r="2.0" fill="#7c7c7c"/>
<line x1="329.70" y1="190.60" x2="366.30" y2="190.60" stroke="#858585" stroke-width="1.0" />
<circle cx="347.80" cy="190.60" r="2.8" fill="#7c7c7c"/>
<line x1="332.30" y1="198.40" x2="384.00" y2="198.40" stroke="#858585" stroke-width="1.0" />
<circle cx="357.70" cy="198.40" r="1.9" fill="#7c7c7c"/>
<line x1="303.20" y1="206.20" x2="371.00" y2="206.20" stroke="#858585" stroke-width="1.0" />
<circle cx="330.80" cy="206.20" r="1.9" fill="#7c7c7c"/>
<line x1="339.80" y1="214.10" x2="397.00" y2="214.10" stroke="#858585" stroke-width="1.0" />
<circle cx="368.50" cy="214.10" r="1.9" fill="#7c7c7c"/>
<line x1="337.70" y1="221.40" x2="352.80" y2="221.40" stroke="#777" stroke-width="0.8" />
<polygon points="343.30,221.40 345.20,219.50 347.10,221.40 345.20,223.30" fill="#fff" stroke="#777" stroke-width="0.7"/>
<text transform="translate(305.40 224.70) scale(1.0 1)" font-size="8.5" text-anchor="start" fill="#282828" style="color:#282828" font-weight="normal"  >0.162</text>
<rect x="414.50" y="155.60" width="104.00" height="61.50" fill="#f3f4f5" />
<rect x="414.50" y="218.50" width="104.00" height="5.80" fill="#f3f4f5" />
<text transform="translate(466.50 153.60) scale(1.0 1)" font-size="8.5" text-anchor="middle" fill="#282828" style="color:#282828" font-weight="normal"  >M+2–6–</text>
<line x1="466.20" y1="155.60" x2="466.20" y2="224.40" stroke="#9a9a9a" stroke-width="0.8" />
<line x1="480.20" y1="155.60" x2="480.20" y2="224.40" stroke="#a8a8a8" stroke-width="0.6" stroke-dasharray="1.5,1.2"/>
<line x1="460.80" y1="159.60" x2="492.00" y2="159.60" stroke="#858585" stroke-width="1.0" />
<circle cx="476.30" cy="159.60" r="3.2" fill="#7c7c7c"/>
<line x1="450.00" y1="167.30" x2="488.80" y2="167.30" stroke="#858585" stroke-width="1.0" />
<circle cx="469.40" cy="167.30" r="2.8" fill="#7c7c7c"/>
<line x1="443.50" y1="175.00" x2="491.00" y2="175.00" stroke="#858585" stroke-width="1.0" />
<circle cx="466.60" cy="175.00" r="2.8" fill="#7c7c7c"/>
<line x1="458.60" y1="182.70" x2="505.00" y2="182.70" stroke="#858585" stroke-width="1.0" />
<circle cx="481.70" cy="182.70" r="2.8" fill="#7c7c7c"/>
<line x1="483.00" y1="190.60" x2="511.80" y2="190.60" stroke="#858585" stroke-width="1.0" />
<circle cx="497.40" cy="190.60" r="3.4" fill="#7c7c7c"/>
<line x1="457.50" y1="198.40" x2="517.80" y2="198.40" stroke="#858585" stroke-width="1.0" />
<circle cx="488.80" cy="198.40" r="1.9" fill="#7c7c7c"/>
<line x1="429.50" y1="206.20" x2="497.40" y2="206.20" stroke="#858585" stroke-width="1.0" />
<circle cx="463.40" cy="206.20" r="1.9" fill="#7c7c7c"/>
<line x1="445.70" y1="214.10" x2="517.80" y2="214.10" stroke="#858585" stroke-width="1.0" />
<circle cx="493.70" cy="214.10" r="1.9" fill="#7c7c7c"/>
<line x1="472.20" y1="221.40" x2="489.40" y2="221.40" stroke="#9c1d4e" stroke-width="1.0" />
<polygon points="478.40,221.40 480.20,219.60 482.00,221.40 480.20,223.20" fill="#9c1d4e" stroke="none" stroke-width="0"/>
<text transform="translate(416.20 224.70) scale(1.0 1)" font-size="8.5" text-anchor="start" fill="#282828" style="color:#282828" font-weight="normal"  >0.009</text>
<rect x="82.50" y="238.80" width="103.10" height="61.40" fill="#f3f4f5" />
<rect x="82.50" y="301.60" width="103.10" height="6.70" fill="#f3f4f5" />
<text transform="translate(134.05 236.80) scale(1.0 1)" font-size="8.5" text-anchor="middle" fill="#282828" style="color:#282828" font-weight="normal"  >M–2+6+</text>
<line x1="133.90" y1="238.80" x2="133.90" y2="308.40" stroke="#9a9a9a" stroke-width="0.8" />
<line x1="123.20" y1="238.80" x2="123.20" y2="308.40" stroke="#a8a8a8" stroke-width="0.6" stroke-dasharray="1.5,1.2"/>
<line x1="120.40" y1="243.20" x2="139.00" y2="243.20" stroke="#858585" stroke-width="1.0" />
<circle cx="129.50" cy="243.20" r="2.7" fill="#7c7c7c"/>
<line x1="119.40" y1="250.70" x2="140.60" y2="250.70" stroke="#858585" stroke-width="1.0" />
<circle cx="130.00" cy="250.70" r="2.8" fill="#7c7c7c"/>
<line x1="119.40" y1="258.30" x2="141.60" y2="258.30" stroke="#858585" stroke-width="1.0" />
<circle cx="130.00" cy="258.30" r="2.8" fill="#7c7c7c"/>
<line x1="109.30" y1="266.50" x2="135.00" y2="266.50" stroke="#858585" stroke-width="1.0" />
<circle cx="122.40" cy="266.50" r="2.7" fill="#7c7c7c"/>
<line x1="93.00" y1="274.00" x2="115.30" y2="274.00" stroke="#858585" stroke-width="1.0" />
<circle cx="104.20" cy="274.00" r="2.8" fill="#7c7c7c"/>
<line x1="101.80" y1="281.60" x2="137.00" y2="281.60" stroke="#858585" stroke-width="1.0" />
<circle cx="119.40" cy="281.60" r="1.9" fill="#7c7c7c"/>
<line x1="102.20" y1="289.60" x2="143.00" y2="289.60" stroke="#858585" stroke-width="1.0" />
<circle cx="123.00" cy="289.60" r="1.9" fill="#7c7c7c"/>
<line x1="96.00" y1="297.20" x2="145.60" y2="297.20" stroke="#858585" stroke-width="1.0" />
<circle cx="121.40" cy="297.20" r="1.9" fill="#7c7c7c"/>
<line x1="116.30" y1="305.40" x2="129.50" y2="305.40" stroke="#9c1d4e" stroke-width="1.0" />
<polygon points="121.40,305.40 123.20,303.60 125.00,305.40 123.20,307.20" fill="#9c1d4e" stroke="none" stroke-width="0"/>
<text transform="translate(82.50 308.70) scale(1.0 1)" font-size="8.5" text-anchor="start" fill="#282828" style="color:#282828" font-weight="normal"  >0.016</text>
<rect x="192.30" y="238.80" width="103.40" height="61.40" fill="#f3f4f5" />
<rect x="192.30" y="301.60" width="103.40" height="6.70" fill="#f3f4f5" />
<text transform="translate(244.00 236.80) scale(1.0 1)" font-size="8.5" text-anchor="middle" fill="#282828" style="color:#282828" font-weight="normal"  >M–2+6–</text>
<line x1="244.00" y1="238.80" x2="244.00" y2="308.40" stroke="#9a9a9a" stroke-width="0.8" />
<line x1="249.40" y1="238.80" x2="249.40" y2="308.40" stroke="#a8a8a8" stroke-width="0.6" stroke-dasharray="1.5,1.2"/>
<line x1="238.60" y1="243.20" x2="256.50" y2="243.20" stroke="#858585" stroke-width="1.0" />
<circle cx="247.90" cy="243.20" r="2.8" fill="#7c7c7c"/>
<line x1="250.50" y1="250.70" x2="269.80" y2="250.70" stroke="#858585" stroke-width="1.0" />
<circle cx="260.80" cy="250.70" r="2.8" fill="#7c7c7c"/>
<line x1="226.80" y1="258.30" x2="252.60" y2="258.30" stroke="#858585" stroke-width="1.0" />
<circle cx="239.70" cy="258.30" r="2.8" fill="#7c7c7c"/>
<line x1="244.00" y1="266.50" x2="274.20" y2="266.50" stroke="#858585" stroke-width="1.0" />
<circle cx="258.60" cy="266.50" r="2.8" fill="#7c7c7c"/>
<line x1="239.70" y1="274.00" x2="264.50" y2="274.00" stroke="#858585" stroke-width="1.0" />
<circle cx="252.60" cy="274.00" r="2.8" fill="#7c7c7c"/>
<line x1="210.60" y1="281.60" x2="249.40" y2="281.60" stroke="#858585" stroke-width="1.0" />
<circle cx="230.00" cy="281.60" r="1.9" fill="#7c7c7c"/>
<line x1="238.60" y1="289.60" x2="285.00" y2="289.60" stroke="#858585" stroke-width="1.0" />
<circle cx="261.70" cy="289.60" r="1.9" fill="#7c7c7c"/>
<line x1="212.80" y1="297.20" x2="263.40" y2="297.20" stroke="#858585" stroke-width="1.0" />
<circle cx="238.00" cy="297.20" r="1.9" fill="#7c7c7c"/>
<line x1="243.00" y1="305.40" x2="257.40" y2="305.40" stroke="#777" stroke-width="0.8" />
<polygon points="247.50,305.40 249.40,303.50 251.30,305.40 249.40,307.30" fill="#fff" stroke="#777" stroke-width="0.7"/>
<text transform="translate(195.00 308.70) scale(1.0 1)" font-size="8.5" text-anchor="start" fill="#282828" style="color:#282828" font-weight="normal"  >1</text>
<rect x="304.30" y="238.80" width="103.40" height="61.40" fill="#f3f4f5" />
<rect x="304.30" y="301.60" width="103.40" height="6.70" fill="#f3f4f5" />
<text transform="translate(356.00 236.80) scale(1.0 1)" font-size="8.5" text-anchor="middle" fill="#282828" style="color:#282828" font-weight="normal"  >M–2–6+</text>
<line x1="355.60" y1="238.80" x2="355.60" y2="308.40" stroke="#9a9a9a" stroke-width="0.8" />
<line x1="333.10" y1="238.80" x2="333.10" y2="308.40" stroke="#a8a8a8" stroke-width="0.6" stroke-dasharray="1.5,1.2"/>
<line x1="324.80" y1="243.20" x2="346.30" y2="243.20" stroke="#858585" stroke-width="1.0" />
<circle cx="335.50" cy="243.20" r="2.8" fill="#7c7c7c"/>
<line x1="309.70" y1="250.70" x2="336.60" y2="250.70" stroke="#858585" stroke-width="1.0" />
<circle cx="323.30" cy="250.70" r="2.8" fill="#7c7c7c"/>
<line x1="317.20" y1="258.30" x2="345.70" y2="258.30" stroke="#858585" stroke-width="1.0" />
<circle cx="331.70" cy="258.30" r="2.8" fill="#7c7c7c"/>
<line x1="317.20" y1="266.50" x2="347.00" y2="266.50" stroke="#858585" stroke-width="1.0" />
<circle cx="331.90" cy="266.50" r="2.8" fill="#7c7c7c"/>
<line x1="321.50" y1="274.00" x2="347.80" y2="274.00" stroke="#858585" stroke-width="1.0" />
<circle cx="334.90" cy="274.00" r="2.8" fill="#7c7c7c"/>
<line x1="336.20" y1="281.60" x2="372.00" y2="281.60" stroke="#858585" stroke-width="1.0" />
<circle cx="354.30" cy="281.60" r="2.8" fill="#7c7c7c"/>
<line x1="302.00" y1="289.60" x2="350.00" y2="289.60" stroke="#858585" stroke-width="1.0" />
<circle cx="314.60" cy="289.60" r="1.9" fill="#7c7c7c"/>
<line x1="303.20" y1="297.20" x2="355.00" y2="297.20" stroke="#858585" stroke-width="1.0" />
<circle cx="321.00" cy="297.20" r="1.9" fill="#7c7c7c"/>
<line x1="326.80" y1="305.40" x2="339.30" y2="305.40" stroke="#9c1d4e" stroke-width="1.0" />
<polygon points="329.20,305.40 333.10,302.00 337.00,305.40 333.10,308.80" fill="#9c1d4e" stroke="none" stroke-width="0"/>
<text transform="translate(297.50 308.70) scale(1.0 1)" font-size="8.5" text-anchor="start" fill="#282828" style="color:#282828" font-weight="normal"  word-spacing="-1.6">1 × 10<tspan font-size="6.5" dy="-3.6">−9</tspan></text>
<rect x="414.50" y="238.80" width="104.00" height="61.40" fill="#f3f4f5" />
<rect x="414.50" y="301.60" width="104.00" height="6.70" fill="#f3f4f5" />
<text transform="translate(466.50 236.80) scale(1.0 1)" font-size="8.5" text-anchor="middle" fill="#282828" style="color:#282828" font-weight="normal"  >M–2–6–</text>
<line x1="466.20" y1="238.80" x2="466.20" y2="308.40" stroke="#9a9a9a" stroke-width="0.8" />
<line x1="455.40" y1="238.80" x2="455.40" y2="308.40" stroke="#a8a8a8" stroke-width="0.6" stroke-dasharray="1.5,1.2"/>
<line x1="443.50" y1="243.20" x2="468.30" y2="243.20" stroke="#858585" stroke-width="1.0" />
<circle cx="455.80" cy="243.20" r="2.8" fill="#7c7c7c"/>
<line x1="433.40" y1="250.70" x2="463.60" y2="250.70" stroke="#858585" stroke-width="1.0" />
<circle cx="448.30" cy="250.70" r="2.8" fill="#7c7c7c"/>
<line x1="431.70" y1="258.30" x2="459.70" y2="258.30" stroke="#858585" stroke-width="1.0" />
<circle cx="446.10" cy="258.30" r="2.8" fill="#7c7c7c"/>
<line x1="460.80" y1="266.50" x2="485.00" y2="266.50" stroke="#858585" stroke-width="1.0" />
<circle cx="472.60" cy="266.50" r="2.8" fill="#7c7c7c"/>
<line x1="455.80" y1="274.00" x2="479.50" y2="274.00" stroke="#858585" stroke-width="1.0" />
<circle cx="467.90" cy="274.00" r="2.8" fill="#7c7c7c"/>
<line x1="420.50" y1="281.60" x2="475.20" y2="281.60" stroke="#858585" stroke-width="1.0" />
<circle cx="447.40" cy="281.60" r="1.9" fill="#7c7c7c"/>
<line x1="422.60" y1="289.60" x2="479.50" y2="289.60" stroke="#858585" stroke-width="1.0" />
<circle cx="451.50" cy="289.60" r="1.9" fill="#7c7c7c"/>
<line x1="445.70" y1="305.40" x2="465.70" y2="305.40" stroke="#777" stroke-width="0.8" />
<polygon points="453.50,305.40 455.40,303.50 457.30,305.40 455.40,307.30" fill="#fff" stroke="#777" stroke-width="0.7"/>
<text transform="translate(416.00 308.70) scale(1.0 1)" font-size="8.5" text-anchor="start" fill="#282828" style="color:#282828" font-weight="normal"  >0.324</text>
<text transform="translate(92.50 317.20) scale(1.0 1)" font-size="8.5" text-anchor="middle" fill="#282828" style="color:#282828" font-weight="normal"  >0.8</text>
<text transform="translate(132.80 317.20) scale(1.0 1)" font-size="8.5" text-anchor="middle" fill="#282828" style="color:#282828" font-weight="normal"  >1</text>
<text transform="translate(176.00 317.20) scale(1.0 1)" font-size="8.5" text-anchor="middle" fill="#282828" style="color:#282828" font-weight="normal"  >1.25</text>
<text transform="translate(200.60 317.20) scale(1.0 1)" font-size="8.5" text-anchor="middle" fill="#282828" style="color:#282828" font-weight="normal"  >0.8</text>
<text transform="translate(244.40 317.20) scale(1.0 1)" font-size="8.5" text-anchor="middle" fill="#282828" style="color:#282828" font-weight="normal"  >1</text>
<text transform="translate(285.60 317.20) scale(1.0 1)" font-size="8.5" text-anchor="middle" fill="#282828" style="color:#282828" font-weight="normal"  >1.25</text>
<text transform="translate(314.40 317.20) scale(1.0 1)" font-size="8.5" text-anchor="middle" fill="#282828" style="color:#282828" font-weight="normal"  >0.8</text>
<text transform="translate(355.40 317.20) scale(1.0 1)" font-size="8.5" text-anchor="middle" fill="#282828" style="color:#282828" font-weight="normal"  >1</text>
<text transform="translate(398.00 317.20) scale(1.0 1)" font-size="8.5" text-anchor="middle" fill="#282828" style="color:#282828" font-weight="normal"  >1.25</text>
<text transform="translate(424.20 317.20) scale(1.0 1)" font-size="8.5" text-anchor="middle" fill="#282828" style="color:#282828" font-weight="normal"  >0.8</text>
<text transform="translate(465.80 317.20) scale(1.0 1)" font-size="8.5" text-anchor="middle" fill="#282828" style="color:#282828" font-weight="normal"  >1</text>
<text transform="translate(508.00 317.20) scale(1.0 1)" font-size="8.5" text-anchor="middle" fill="#282828" style="color:#282828" font-weight="normal"  >1.25</text>
<line x1="83.70" y1="323.00" x2="518.00" y2="323.00" stroke="#555" stroke-width="1.3" />
<text transform="translate(300.70 333.00) scale(1.0 1)" font-size="8.5" text-anchor="middle" fill="#282828" style="color:#282828" font-weight="normal"  >HR for death (per 5%)</text>
<text transform="translate(64.00 355.00) scale(1.0 1)" font-size="8.5" text-anchor="start" fill="#282828" style="color:#282828" font-weight="normal"  >Adjusted <tspan font-style="italic">P</tspan>-value</text>
<polygon points="137.10,343.80 141.20,340.10 145.30,343.80 141.20,347.50" fill="#9c1d4e" stroke="none" stroke-width="0"/>
<polygon points="137.80,351.70 141.10,348.70 144.40,351.70 141.10,354.70" fill="#9c1d4e" stroke="none" stroke-width="0"/>
<line x1="137.20" y1="359.80" x2="145.40" y2="359.80" stroke="#9c1d4e" stroke-width="1.0" />
<polygon points="139.30,359.80 141.30,357.80 143.30,359.80 141.30,361.80" fill="#9c1d4e" stroke="none" stroke-width="0"/>
<line x1="137.20" y1="367.90" x2="145.40" y2="367.90" stroke="#777" stroke-width="0.8" />
<polygon points="139.40,367.90 141.30,366.00 143.20,367.90 141.30,369.80" fill="#fff" stroke="#777" stroke-width="0.7"/>
<text transform="translate(149.70 346.80) scale(1.0 1)" font-size="8.5" text-anchor="start" fill="#282828" style="color:#282828" font-weight="normal"  >&lt;10<tspan font-size="6.5" dy="-3.6">−31</tspan></text>
<text transform="translate(149.70 354.70) scale(1.0 1)" font-size="8.5" text-anchor="start" fill="#282828" style="color:#282828" font-weight="normal"  >&lt;10<tspan font-size="6.5" dy="-3.6">−4</tspan></text>
<text transform="translate(149.70 362.80) scale(1.0 1)" font-size="8.5" text-anchor="start" fill="#282828" style="color:#282828" font-weight="normal"  >≤0.05</text>
<text transform="translate(149.70 370.90) scale(1.0 1)" font-size="8.5" text-anchor="start" fill="#282828" style="color:#282828" font-weight="normal"  >&gt;0.05</text>
<text transform="translate(199.40 353.70) scale(1.0 1)" font-size="8.5" text-anchor="start" fill="#282828" style="color:#282828" font-weight="normal"  >Random-effects</text>
<text transform="translate(199.40 364.20) scale(1.0 1)" font-size="8.5" text-anchor="start" fill="#282828" style="color:#282828" font-weight="normal"  >weighting</text>
<circle cx="273" cy="346.4" r="3.4" fill="#828282"/>
<text transform="translate(279.70 349.40) scale(1.0 1)" font-size="8.5" text-anchor="start" fill="#282828" style="color:#282828" font-weight="normal"  >≥0.2</text>
<circle cx="273" cy="354.5" r="2.6" fill="#828282"/>
<text transform="translate(279.70 357.50) scale(1.0 1)" font-size="8.5" text-anchor="start" fill="#282828" style="color:#282828" font-weight="normal"  >≥0.1</text>
<circle cx="273" cy="362.5" r="1.8" fill="#828282"/>
<text transform="translate(279.70 365.50) scale(1.0 1)" font-size="8.5" text-anchor="start" fill="#282828" style="color:#282828" font-weight="normal"  >&lt;0.1</text>
<rect x="323.70" y="348.70" width="4.00" height="4.00" fill="#cfa2b6" />
<rect x="323.70" y="359.30" width="4.00" height="4.00" fill="#d2d2d2" />
<text transform="translate(331.00 354.30) scale(1.0 1)" font-size="8.5" text-anchor="start" fill="#282828" style="color:#282828" font-weight="normal"  >Consistent across all cohorts</text>
<text transform="translate(331.00 364.60) scale(1.0 1)" font-size="8.5" text-anchor="start" fill="#282828" style="color:#282828" font-weight="normal"  >Not consistent</text>
<text transform="translate(3.60 395.20) scale(1.0 1)" font-size="10.5" text-anchor="start" fill="#111" style="color:#111" font-weight="bold"  >C</text>
<line x1="48.00" y1="399.20" x2="67.20" y2="399.20" stroke="#9c1d4e" stroke-width="1.8" />
<line x1="59.60" y1="396.30" x2="59.60" y2="399.20" stroke="#9c1d4e" stroke-width="0.9" />
<line x1="48.00" y1="408.30" x2="67.20" y2="408.30" stroke="#8cb0d8" stroke-width="1.8" />
<line x1="59.60" y1="405.40" x2="59.60" y2="408.30" stroke="#8cb0d8" stroke-width="0.9" />
<text transform="translate(71.20 402.00) scale(1.0 1)" font-size="8.9" text-anchor="start" fill="#9c1d4e" style="color:#9c1d4e" font-weight="normal"  >M+2+6– high (≥15%)</text>
<text transform="translate(71.20 411.30) scale(1.0 1)" font-size="8.9" text-anchor="start" fill="#9db7da" style="color:#9db7da" font-weight="normal"  >M+2+6– low (&lt;15%)</text>
<polygon points="47.20,439.25 48.77,439.76 50.04,440.35 50.38,441.00 50.69,441.65 50.86,442.31 51.17,442.96 52.94,443.62 54.66,444.29 54.89,445.02 55.14,445.76 55.53,446.36 55.68,446.97 56.00,447.58 59.11,448.07 62.95,448.55 63.08,449.18 66.55,449.72 71.03,450.24 73.42,450.81 76.00,451.38 78.97,451.95 83.00,452.69 86.91,453.45 89.70,453.99 89.97,454.60 91.55,455.18 94.85,455.71 99.49,456.25 102.79,456.83 109.97,457.52 110.73,458.36 116.15,458.88 118.11,459.49 118.67,460.13 125.48,460.61 126.62,461.21 127.26,461.83 129.28,462.42 130.55,463.02 130.59,463.66 131.43,464.35 132.85,465.04 133.42,465.74 134.00,466.44 134.18,467.15 134.42,467.86 134.56,468.57 142.50,468.40 142.50,474.15 134.56,473.98 134.42,473.26 134.18,472.55 134.00,471.83 133.42,471.10 132.85,470.37 131.43,469.63 130.59,468.89 130.55,468.26 129.28,467.60 127.26,466.92 126.62,466.28 125.48,465.62 118.67,464.83 118.11,464.17 116.15,463.47 110.73,462.69 109.97,461.81 102.79,460.77 99.49,460.03 94.85,459.25 91.55,458.54 89.97,457.88 89.70,457.26 86.91,456.56 83.00,455.59 78.97,454.61 76.00,453.87 73.42,453.14 71.03,452.41 66.55,451.61 63.08,450.82 62.95,450.19 59.11,449.41 56.00,448.66 55.68,448.03 55.53,447.41 55.14,446.77 54.89,446.01 54.66,445.25 52.94,444.42 51.17,443.59 50.86,442.90 50.69,442.22 50.38,441.53 50.04,440.84 48.77,440.08 47.20,439.25" fill="#e4ecf6"/>
<polygon points="47.20,439.25 48.14,439.99 48.67,440.84 49.36,441.69 49.60,442.58 51.17,443.35 51.22,444.16 51.43,444.96 52.20,445.71 53.66,446.41 54.50,447.16 55.14,447.93 56.07,448.80 57.01,449.67 59.10,450.47 59.11,451.40 61.00,452.05 61.65,452.77 62.43,453.49 63.08,454.21 64.28,455.12 71.03,455.73 76.07,456.31 77.92,457.04 78.97,457.82 83.12,458.47 84.85,459.24 86.91,459.99 87.42,460.85 92.24,461.52 94.85,462.29 98.42,462.15 98.82,466.50 102.79,466.57 108.81,467.11 110.73,467.81 113.08,468.39 114.70,468.99 118.67,469.99 130.59,470.14 132.57,470.07 132.59,470.93 132.69,471.79 132.76,472.65 132.86,473.51 132.92,474.37 132.97,475.23 140.91,474.95 140.91,484.05 132.97,483.77 132.92,482.91 132.86,482.04 132.76,481.18 132.69,480.31 132.59,479.45 132.57,478.58 130.59,478.51 118.67,477.51 114.70,476.21 113.08,475.49 110.73,474.74 108.81,473.89 102.79,472.88 98.82,472.49 98.42,468.10 94.85,467.96 92.24,466.97 87.42,465.88 86.91,464.97 84.85,464.04 83.12,463.12 78.97,462.08 77.92,461.21 76.07,460.30 71.03,459.22 64.28,457.88 63.08,456.83 62.43,456.04 61.65,455.23 61.00,454.43 59.11,453.55 59.10,452.61 57.01,451.54 56.07,450.54 55.14,449.55 54.50,448.68 53.66,447.81 52.20,446.88 51.43,446.00 51.22,445.17 51.17,444.35 49.60,443.28 49.36,442.33 48.67,441.34 48.14,440.35 47.20,439.25" fill="#f6e4ec"/>
<path d="M47.20,439.25 H48.77 V439.92 H50.04 V440.59 H50.38 V441.26 H50.69 V441.93 H50.86 V442.60 H51.17 V443.27 H52.94 V444.02 H54.66 V444.77 H54.89 V445.52 H55.14 V446.26 H55.53 V446.88 H55.68 V447.50 H56.00 V448.12 H59.11 V448.74 H62.95 V449.37 H63.08 V450.00 H66.55 V450.66 H71.03 V451.32 H73.42 V451.98 H76.00 V452.63 H78.97 V453.28 H83.00 V454.14 H86.91 V455.00 H89.70 V455.62 H89.97 V456.24 H91.55 V456.86 H94.85 V457.48 H99.49 V458.14 H102.79 V458.80 H109.97 V459.66 H110.73 V460.52 H116.15 V461.18 H118.11 V461.83 H118.67 V462.48 H125.48 V463.11 H126.62 V463.75 H127.26 V464.38 H129.28 V465.01 H130.55 V465.64 H130.59 V466.27 H131.43 V466.99 H132.85 V467.70 H133.42 V468.42 H134.00 V469.13 H134.18 V469.85 H134.42 V470.56 H134.56 V471.28 H142.50 V471.28" fill="none" stroke="#8cb0d8" stroke-width="1.6"/>
<line x1="130.74" y1="463.67" x2="130.74" y2="466.27" stroke="#8cb0d8" stroke-width="0.9" />
<line x1="111.71" y1="457.92" x2="111.71" y2="460.52" stroke="#8cb0d8" stroke-width="0.9" />
<line x1="88.15" y1="452.40" x2="88.15" y2="455.00" stroke="#8cb0d8" stroke-width="0.9" />
<line x1="66.18" y1="447.40" x2="66.18" y2="450.00" stroke="#8cb0d8" stroke-width="0.9" />
<line x1="132.32" y1="464.39" x2="132.32" y2="466.99" stroke="#8cb0d8" stroke-width="0.9" />
<line x1="141.80" y1="468.68" x2="141.80" y2="471.28" stroke="#8cb0d8" stroke-width="0.9" />
<line x1="69.06" y1="448.06" x2="69.06" y2="450.66" stroke="#8cb0d8" stroke-width="0.9" />
<line x1="128.52" y1="461.78" x2="128.52" y2="464.38" stroke="#8cb0d8" stroke-width="0.9" />
<line x1="98.80" y1="454.88" x2="98.80" y2="457.48" stroke="#8cb0d8" stroke-width="0.9" />
<line x1="75.61" y1="449.38" x2="75.61" y2="451.98" stroke="#8cb0d8" stroke-width="0.9" />
<line x1="88.93" y1="452.40" x2="88.93" y2="455.00" stroke="#8cb0d8" stroke-width="0.9" />
<line x1="126.23" y1="460.51" x2="126.23" y2="463.11" stroke="#8cb0d8" stroke-width="0.9" />
<line x1="133.65" y1="465.82" x2="133.65" y2="468.42" stroke="#8cb0d8" stroke-width="0.9" />
<line x1="63.80" y1="447.40" x2="63.80" y2="450.00" stroke="#8cb0d8" stroke-width="0.9" />
<line x1="114.83" y1="457.92" x2="114.83" y2="460.52" stroke="#8cb0d8" stroke-width="0.9" />
<line x1="63.90" y1="447.40" x2="63.90" y2="450.00" stroke="#8cb0d8" stroke-width="0.9" />
<line x1="122.56" y1="459.88" x2="122.56" y2="462.48" stroke="#8cb0d8" stroke-width="0.9" />
<line x1="92.14" y1="454.26" x2="92.14" y2="456.86" stroke="#8cb0d8" stroke-width="0.9" />
<line x1="134.23" y1="467.25" x2="134.23" y2="469.85" stroke="#8cb0d8" stroke-width="0.9" />
<line x1="141.17" y1="468.68" x2="141.17" y2="471.28" stroke="#8cb0d8" stroke-width="0.9" />
<line x1="106.42" y1="456.20" x2="106.42" y2="458.80" stroke="#8cb0d8" stroke-width="0.9" />
<line x1="142.40" y1="468.68" x2="142.40" y2="471.28" stroke="#8cb0d8" stroke-width="0.9" />
<line x1="90.31" y1="453.64" x2="90.31" y2="456.24" stroke="#8cb0d8" stroke-width="0.9" />
<line x1="67.76" y1="448.06" x2="67.76" y2="450.66" stroke="#8cb0d8" stroke-width="0.9" />
<line x1="113.71" y1="457.92" x2="113.71" y2="460.52" stroke="#8cb0d8" stroke-width="0.9" />
<line x1="62.11" y1="446.14" x2="62.11" y2="448.74" stroke="#8cb0d8" stroke-width="0.9" />
<line x1="80.15" y1="450.68" x2="80.15" y2="453.28" stroke="#8cb0d8" stroke-width="0.9" />
<line x1="98.59" y1="454.88" x2="98.59" y2="457.48" stroke="#8cb0d8" stroke-width="0.9" />
<line x1="114.52" y1="457.92" x2="114.52" y2="460.52" stroke="#8cb0d8" stroke-width="0.9" />
<line x1="76.15" y1="450.03" x2="76.15" y2="452.63" stroke="#8cb0d8" stroke-width="0.9" />
<line x1="63.58" y1="447.40" x2="63.58" y2="450.00" stroke="#8cb0d8" stroke-width="0.9" />
<line x1="133.30" y1="465.10" x2="133.30" y2="467.70" stroke="#8cb0d8" stroke-width="0.9" />
<line x1="90.67" y1="453.64" x2="90.67" y2="456.24" stroke="#8cb0d8" stroke-width="0.9" />
<line x1="139.65" y1="468.68" x2="139.65" y2="471.28" stroke="#8cb0d8" stroke-width="0.9" />
<line x1="135.33" y1="468.68" x2="135.33" y2="471.28" stroke="#8cb0d8" stroke-width="0.9" />
<line x1="96.10" y1="454.88" x2="96.10" y2="457.48" stroke="#8cb0d8" stroke-width="0.9" />
<line x1="102.85" y1="456.20" x2="102.85" y2="458.80" stroke="#8cb0d8" stroke-width="0.9" />
<line x1="107.57" y1="456.20" x2="107.57" y2="458.80" stroke="#8cb0d8" stroke-width="0.9" />
<line x1="117.04" y1="458.58" x2="117.04" y2="461.18" stroke="#8cb0d8" stroke-width="0.9" />
<line x1="113.40" y1="457.92" x2="113.40" y2="460.52" stroke="#8cb0d8" stroke-width="0.9" />
<line x1="110.61" y1="457.06" x2="110.61" y2="459.66" stroke="#8cb0d8" stroke-width="0.9" />
<line x1="115.25" y1="457.92" x2="115.25" y2="460.52" stroke="#8cb0d8" stroke-width="0.9" />
<line x1="138.40" y1="468.68" x2="138.40" y2="471.28" stroke="#8cb0d8" stroke-width="0.9" />
<line x1="106.55" y1="456.20" x2="106.55" y2="458.80" stroke="#8cb0d8" stroke-width="0.9" />
<line x1="100.49" y1="455.54" x2="100.49" y2="458.14" stroke="#8cb0d8" stroke-width="0.9" />
<path d="M47.20,439.25 H48.14 V440.17 H48.67 V441.09 H49.36 V442.01 H49.60 V442.93 H51.17 V443.85 H51.22 V444.66 H51.43 V445.48 H52.20 V446.29 H53.66 V447.11 H54.50 V447.92 H55.14 V448.74 H56.07 V449.67 H57.01 V450.61 H59.10 V451.54 H59.11 V452.48 H61.00 V453.24 H61.65 V454.00 H62.43 V454.76 H63.08 V455.52 H64.28 V456.50 H71.03 V457.48 H76.07 V458.30 H77.92 V459.13 H78.97 V459.95 H83.12 V460.79 H84.85 V461.64 H86.91 V462.48 H87.42 V463.36 H92.24 V464.24 H94.85 V465.12 H98.42 V465.12 H98.82 V469.50 H102.79 V469.73 H108.81 V470.50 H110.73 V471.28 H113.08 V471.94 H114.70 V472.60 H118.67 V473.75 H130.59 V474.32 H132.57 V474.32 H132.59 V475.19 H132.69 V476.05 H132.76 V476.91 H132.86 V477.77 H132.92 V478.64 H132.97 V479.50 H140.91 V479.50" fill="none" stroke="#9c1d4e" stroke-width="1.6"/>
<line x1="121.44" y1="471.15" x2="121.44" y2="473.75" stroke="#9c1d4e" stroke-width="0.9" />
<line x1="83.29" y1="458.19" x2="83.29" y2="460.79" stroke="#9c1d4e" stroke-width="0.9" />
<line x1="88.86" y1="460.76" x2="88.86" y2="463.36" stroke="#9c1d4e" stroke-width="0.9" />
<line x1="139.41" y1="476.90" x2="139.41" y2="479.50" stroke="#9c1d4e" stroke-width="0.9" />
<line x1="106.64" y1="467.12" x2="106.64" y2="469.73" stroke="#9c1d4e" stroke-width="0.9" />
<line x1="108.73" y1="467.12" x2="108.73" y2="469.73" stroke="#9c1d4e" stroke-width="0.9" />
<line x1="58.93" y1="448.01" x2="58.93" y2="450.61" stroke="#9c1d4e" stroke-width="0.9" />
<line x1="98.32" y1="462.52" x2="98.32" y2="465.12" stroke="#9c1d4e" stroke-width="0.9" />
<line x1="111.12" y1="468.68" x2="111.12" y2="471.28" stroke="#9c1d4e" stroke-width="0.9" />
<line x1="60.27" y1="449.88" x2="60.27" y2="452.48" stroke="#9c1d4e" stroke-width="0.9" />
<line x1="113.80" y1="469.34" x2="113.80" y2="471.94" stroke="#9c1d4e" stroke-width="0.9" />
<line x1="115.01" y1="470.00" x2="115.01" y2="472.60" stroke="#9c1d4e" stroke-width="0.9" />
<line x1="65.46" y1="453.90" x2="65.46" y2="456.50" stroke="#9c1d4e" stroke-width="0.9" />
<line x1="114.65" y1="469.34" x2="114.65" y2="471.94" stroke="#9c1d4e" stroke-width="0.9" />
<line x1="102.38" y1="466.89" x2="102.38" y2="469.50" stroke="#9c1d4e" stroke-width="0.9" />
<line x1="118.47" y1="470.00" x2="118.47" y2="472.60" stroke="#9c1d4e" stroke-width="0.9" />
<line x1="93.20" y1="461.64" x2="93.20" y2="464.24" stroke="#9c1d4e" stroke-width="0.9" />
<line x1="120.48" y1="471.15" x2="120.48" y2="473.75" stroke="#9c1d4e" stroke-width="0.9" />
<line x1="122.72" y1="471.15" x2="122.72" y2="473.75" stroke="#9c1d4e" stroke-width="0.9" />
<line x1="60.58" y1="449.88" x2="60.58" y2="452.48" stroke="#9c1d4e" stroke-width="0.9" />
<line x1="65.52" y1="453.90" x2="65.52" y2="456.50" stroke="#9c1d4e" stroke-width="0.9" />
<line x1="118.23" y1="470.00" x2="118.23" y2="472.60" stroke="#9c1d4e" stroke-width="0.9" />
<line x1="138.43" y1="476.90" x2="138.43" y2="479.50" stroke="#9c1d4e" stroke-width="0.9" />
<line x1="84.49" y1="458.19" x2="84.49" y2="460.79" stroke="#9c1d4e" stroke-width="0.9" />
<line x1="101.60" y1="466.89" x2="101.60" y2="469.50" stroke="#9c1d4e" stroke-width="0.9" />
<rect x="47.20" y="434.20" width="95.30" height="63.40" fill="none" stroke="#222" stroke-width="1.1"/>
<line x1="47.20" y1="497.60" x2="47.20" y2="499.20" stroke="#222" stroke-width="0.8" />
<text transform="translate(47.20 508.70) scale(1.0 1)" font-size="8.9" text-anchor="middle" fill="#282828" style="color:#282828" font-weight="normal"  >0</text>
<line x1="63.08" y1="497.60" x2="63.08" y2="499.20" stroke="#222" stroke-width="0.8" />
<text transform="translate(63.08 508.70) scale(1.0 1)" font-size="8.9" text-anchor="middle" fill="#282828" style="color:#282828" font-weight="normal"  >2</text>
<line x1="78.97" y1="497.60" x2="78.97" y2="499.20" stroke="#222" stroke-width="0.8" />
<text transform="translate(78.97 508.70) scale(1.0 1)" font-size="8.9" text-anchor="middle" fill="#282828" style="color:#282828" font-weight="normal"  >4</text>
<line x1="94.85" y1="497.60" x2="94.85" y2="499.20" stroke="#222" stroke-width="0.8" />
<text transform="translate(94.85 508.70) scale(1.0 1)" font-size="8.9" text-anchor="middle" fill="#282828" style="color:#282828" font-weight="normal"  >6</text>
<line x1="110.73" y1="497.60" x2="110.73" y2="499.20" stroke="#222" stroke-width="0.8" />
<text transform="translate(110.73 508.70) scale(1.0 1)" font-size="8.9" text-anchor="middle" fill="#282828" style="color:#282828" font-weight="normal"  >8</text>
<line x1="126.62" y1="497.60" x2="126.62" y2="499.20" stroke="#222" stroke-width="0.8" />
<text transform="translate(126.62 508.70) scale(1.0 1)" font-size="8.9" text-anchor="middle" fill="#282828" style="color:#282828" font-weight="normal"  >10</text>
<line x1="142.50" y1="497.60" x2="142.50" y2="499.20" stroke="#222" stroke-width="0.8" />
<text transform="translate(142.50 508.70) scale(1.0 1)" font-size="8.9" text-anchor="middle" fill="#282828" style="color:#282828" font-weight="normal"  >12</text>
<line x1="45.60" y1="496.75" x2="47.20" y2="496.75" stroke="#222" stroke-width="0.8" />
<text transform="translate(43.60 499.85) scale(1.0 1)" font-size="8.9" text-anchor="end" fill="#282828" style="color:#282828" font-weight="normal"  >0</text>
<line x1="45.60" y1="482.38" x2="47.20" y2="482.38" stroke="#222" stroke-width="0.8" />
<text transform="translate(43.60 485.48) scale(1.0 1)" font-size="8.9" text-anchor="end" fill="#282828" style="color:#282828" font-weight="normal"  >25</text>
<line x1="45.60" y1="468.00" x2="47.20" y2="468.00" stroke="#222" stroke-width="0.8" />
<text transform="translate(43.60 471.10) scale(1.0 1)" font-size="8.9" text-anchor="end" fill="#282828" style="color:#282828" font-weight="normal"  >50</text>
<line x1="45.60" y1="453.62" x2="47.20" y2="453.62" stroke="#222" stroke-width="0.8" />
<text transform="translate(43.60 456.73) scale(1.0 1)" font-size="8.9" text-anchor="end" fill="#282828" style="color:#282828" font-weight="normal"  >75</text>
<line x1="45.60" y1="439.25" x2="47.20" y2="439.25" stroke="#222" stroke-width="0.8" />
<text transform="translate(43.60 442.35) scale(1.0 1)" font-size="8.9" text-anchor="end" fill="#282828" style="color:#282828" font-weight="normal"  >100</text>
<text transform="translate(94.85 429.80) scale(1.0 1)" font-size="8.5" text-anchor="middle" fill="#282828" style="color:#282828" font-weight="normal"  >Reddy <tspan font-style="italic">et al.</tspan></text>
<rect x="53.00" y="469.05" width="4.70" height="4.40" fill="#9c1d4e" />
<text transform="translate(60.70 473.45) scale(1.0 1)" font-size="8.9" text-anchor="start" fill="#9c1d4e" style="color:#9c1d4e" font-weight="normal"  >221</text>
<rect x="53.00" y="476.95" width="4.70" height="4.40" fill="#90b2d6" />
<text transform="translate(60.70 481.30) scale(1.0 1)" font-size="8.9" text-anchor="start" fill="#9ab6d8" style="color:#9ab6d8" font-weight="normal"  >530</text>
<text transform="translate(53.40 492.45) scale(1.0 1)" font-size="8.7" text-anchor="start" fill="#b8b8b8" style="color:#b8b8b8" font-weight="normal"  ><tspan font-style="italic">P</tspan> = 0.003</text>
<polygon points="161.00,439.25 161.43,439.90 161.80,440.59 162.60,441.24 164.56,441.84 165.46,442.51 167.07,443.14 168.38,443.80 169.29,444.48 169.95,445.22 172.28,445.89 172.85,446.63 174.50,447.28 176.65,447.92 177.63,448.61 178.78,449.28 180.82,449.98 183.55,450.66 184.70,451.39 186.24,451.91 196.55,452.18 200.01,452.94 208.40,453.58 211.61,454.17 217.81,454.68 220.25,455.29 224.35,455.83 225.10,456.44 225.19,457.07 225.22,457.70 232.10,458.17 232.16,458.84 233.95,459.47 242.53,459.95 243.01,460.61 243.28,461.28 243.95,461.93 249.80,462.38 249.88,462.95 255.80,463.40 255.80,469.15 249.88,468.45 249.80,467.87 243.95,467.17 243.28,466.48 243.01,465.81 242.53,465.12 233.95,464.26 232.16,463.55 232.10,462.88 225.22,462.08 225.19,461.45 225.10,460.81 224.35,460.16 220.25,459.43 217.81,458.70 211.61,457.87 208.40,457.12 200.01,456.03 196.55,455.07 186.24,454.19 184.70,453.56 183.55,452.76 180.82,451.90 178.78,451.07 177.63,450.31 176.65,449.55 174.50,448.75 172.85,447.97 172.28,447.18 169.95,446.32 169.29,445.52 168.38,444.76 167.07,443.98 165.46,443.18 164.56,442.41 162.60,441.57 161.80,440.79 161.43,440.03 161.00,439.25" fill="#e4ecf6"/>
<polygon points="161.00,439.25 162.14,440.05 162.29,441.03 163.11,441.95 164.56,442.81 166.04,443.69 166.30,444.68 167.38,445.60 169.29,446.46 170.72,447.80 174.03,449.03 175.82,450.36 178.78,451.62 178.93,452.77 183.35,453.68 184.70,454.76 188.07,456.02 190.62,457.34 194.98,458.28 196.55,459.36 198.39,460.14 202.48,460.82 208.40,461.72 209.29,462.83 209.45,463.97 209.53,465.12 210.46,466.23 212.21,467.31 213.14,468.42 220.25,468.71 232.10,468.84 232.58,469.97 233.63,471.08 235.41,472.17 236.84,473.27 243.95,473.59 249.88,473.95 250.08,475.10 250.27,476.24 250.27,477.39 250.39,478.54 250.65,479.68 250.86,480.82 250.89,481.97 250.92,483.12 251.06,484.26 255.80,484.10 255.80,493.30 251.06,493.14 250.92,491.98 250.89,490.83 250.86,489.68 250.65,488.52 250.39,487.36 250.27,486.21 250.27,485.06 250.08,483.90 249.88,482.75 243.95,481.96 236.84,481.13 235.41,479.93 233.63,478.72 232.58,477.53 232.10,476.36 220.25,475.34 213.14,474.48 212.21,473.29 210.46,472.07 209.53,470.88 209.45,469.73 209.29,468.57 208.40,467.38 202.48,465.98 198.39,464.94 196.55,463.99 194.98,462.77 190.62,461.41 188.07,459.85 184.70,458.24 183.35,457.02 178.93,455.63 178.78,454.48 175.82,452.87 174.03,451.32 170.72,449.67 169.29,448.14 167.38,446.99 166.30,445.90 166.04,444.87 164.56,443.74 163.11,442.59 162.29,441.49 162.14,440.46 161.00,439.25" fill="#f6e4ec"/>
<path d="M161.00,439.25 H161.43 V439.97 H161.80 V440.69 H162.60 V441.41 H164.56 V442.12 H165.46 V442.84 H167.07 V443.56 H168.38 V444.28 H169.29 V445.00 H169.95 V445.77 H172.28 V446.53 H172.85 V447.30 H174.50 V448.02 H176.65 V448.74 H177.63 V449.46 H178.78 V450.18 H180.82 V450.94 H183.55 V451.71 H184.70 V452.48 H186.24 V453.05 H196.55 V453.62 H200.01 V454.49 H208.40 V455.35 H211.61 V456.02 H217.81 V456.69 H220.25 V457.36 H224.35 V458.00 H225.10 V458.63 H225.19 V459.26 H225.22 V459.89 H232.10 V460.52 H232.16 V461.20 H233.95 V461.87 H242.53 V462.54 H243.01 V463.21 H243.28 V463.88 H243.95 V464.55 H249.80 V465.12 H249.88 V465.70 H255.80 V466.27" fill="none" stroke="#8cb0d8" stroke-width="1.6"/>
<line x1="214.26" y1="453.42" x2="214.26" y2="456.02" stroke="#8cb0d8" stroke-width="0.9" />
<line x1="252.38" y1="463.10" x2="252.38" y2="465.70" stroke="#8cb0d8" stroke-width="0.9" />
<line x1="250.81" y1="463.10" x2="250.81" y2="465.70" stroke="#8cb0d8" stroke-width="0.9" />
<line x1="196.08" y1="450.45" x2="196.08" y2="453.05" stroke="#8cb0d8" stroke-width="0.9" />
<line x1="237.94" y1="459.27" x2="237.94" y2="461.87" stroke="#8cb0d8" stroke-width="0.9" />
<line x1="244.46" y1="461.95" x2="244.46" y2="464.55" stroke="#8cb0d8" stroke-width="0.9" />
<line x1="231.89" y1="457.29" x2="231.89" y2="459.89" stroke="#8cb0d8" stroke-width="0.9" />
<line x1="220.97" y1="454.76" x2="220.97" y2="457.36" stroke="#8cb0d8" stroke-width="0.9" />
<line x1="202.09" y1="451.89" x2="202.09" y2="454.49" stroke="#8cb0d8" stroke-width="0.9" />
<line x1="206.56" y1="451.89" x2="206.56" y2="454.49" stroke="#8cb0d8" stroke-width="0.9" />
<line x1="196.58" y1="451.02" x2="196.58" y2="453.62" stroke="#8cb0d8" stroke-width="0.9" />
<line x1="180.42" y1="447.57" x2="180.42" y2="450.18" stroke="#8cb0d8" stroke-width="0.9" />
<line x1="226.32" y1="457.29" x2="226.32" y2="459.89" stroke="#8cb0d8" stroke-width="0.9" />
<line x1="201.91" y1="451.89" x2="201.91" y2="454.49" stroke="#8cb0d8" stroke-width="0.9" />
<line x1="242.58" y1="459.94" x2="242.58" y2="462.54" stroke="#8cb0d8" stroke-width="0.9" />
<line x1="177.63" y1="446.14" x2="177.63" y2="448.74" stroke="#8cb0d8" stroke-width="0.9" />
<line x1="249.15" y1="461.95" x2="249.15" y2="464.55" stroke="#8cb0d8" stroke-width="0.9" />
<line x1="234.16" y1="459.27" x2="234.16" y2="461.87" stroke="#8cb0d8" stroke-width="0.9" />
<line x1="250.56" y1="463.10" x2="250.56" y2="465.70" stroke="#8cb0d8" stroke-width="0.9" />
<line x1="248.66" y1="461.95" x2="248.66" y2="464.55" stroke="#8cb0d8" stroke-width="0.9" />
<line x1="248.88" y1="461.95" x2="248.88" y2="464.55" stroke="#8cb0d8" stroke-width="0.9" />
<line x1="225.43" y1="457.29" x2="225.43" y2="459.89" stroke="#8cb0d8" stroke-width="0.9" />
<line x1="173.15" y1="444.70" x2="173.15" y2="447.30" stroke="#8cb0d8" stroke-width="0.9" />
<line x1="237.92" y1="459.27" x2="237.92" y2="461.87" stroke="#8cb0d8" stroke-width="0.9" />
<line x1="191.33" y1="450.45" x2="191.33" y2="453.05" stroke="#8cb0d8" stroke-width="0.9" />
<line x1="203.04" y1="451.89" x2="203.04" y2="454.49" stroke="#8cb0d8" stroke-width="0.9" />
<line x1="231.89" y1="457.29" x2="231.89" y2="459.89" stroke="#8cb0d8" stroke-width="0.9" />
<line x1="221.43" y1="454.76" x2="221.43" y2="457.36" stroke="#8cb0d8" stroke-width="0.9" />
<line x1="212.60" y1="453.42" x2="212.60" y2="456.02" stroke="#8cb0d8" stroke-width="0.9" />
<line x1="251.61" y1="463.10" x2="251.61" y2="465.70" stroke="#8cb0d8" stroke-width="0.9" />
<line x1="228.10" y1="457.29" x2="228.10" y2="459.89" stroke="#8cb0d8" stroke-width="0.9" />
<line x1="206.59" y1="451.89" x2="206.59" y2="454.49" stroke="#8cb0d8" stroke-width="0.9" />
<line x1="198.85" y1="451.02" x2="198.85" y2="453.62" stroke="#8cb0d8" stroke-width="0.9" />
<line x1="246.22" y1="461.95" x2="246.22" y2="464.55" stroke="#8cb0d8" stroke-width="0.9" />
<line x1="217.69" y1="453.42" x2="217.69" y2="456.02" stroke="#8cb0d8" stroke-width="0.9" />
<line x1="240.59" y1="459.27" x2="240.59" y2="461.87" stroke="#8cb0d8" stroke-width="0.9" />
<line x1="207.47" y1="451.89" x2="207.47" y2="454.49" stroke="#8cb0d8" stroke-width="0.9" />
<line x1="193.77" y1="450.45" x2="193.77" y2="453.05" stroke="#8cb0d8" stroke-width="0.9" />
<line x1="222.18" y1="454.76" x2="222.18" y2="457.36" stroke="#8cb0d8" stroke-width="0.9" />
<line x1="243.05" y1="460.61" x2="243.05" y2="463.21" stroke="#8cb0d8" stroke-width="0.9" />
<path d="M161.00,439.25 H162.14 V440.26 H162.29 V441.26 H163.11 V442.27 H164.56 V443.27 H166.04 V444.28 H166.30 V445.29 H167.38 V446.29 H169.29 V447.30 H170.72 V448.74 H174.03 V450.18 H175.82 V451.61 H178.78 V453.05 H178.93 V454.20 H183.35 V455.35 H184.70 V456.50 H188.07 V457.94 H190.62 V459.38 H194.98 V460.52 H196.55 V461.68 H198.39 V462.54 H202.48 V463.40 H208.40 V464.55 H209.29 V465.70 H209.45 V466.85 H209.53 V468.00 H210.46 V469.15 H212.21 V470.30 H213.14 V471.45 H220.25 V472.02 H232.10 V472.60 H232.58 V473.75 H233.63 V474.90 H235.41 V476.05 H236.84 V477.20 H243.95 V477.77 H249.88 V478.35 H250.08 V479.50 H250.27 V480.65 H250.27 V481.80 H250.39 V482.95 H250.65 V484.10 H250.86 V485.25 H250.89 V486.40 H250.92 V487.55 H251.06 V488.70 H255.80 V488.70" fill="none" stroke="#9c1d4e" stroke-width="1.6"/>
<line x1="191.28" y1="456.77" x2="191.28" y2="459.38" stroke="#9c1d4e" stroke-width="0.9" />
<line x1="241.26" y1="474.60" x2="241.26" y2="477.20" stroke="#9c1d4e" stroke-width="0.9" />
<line x1="250.42" y1="480.35" x2="250.42" y2="482.95" stroke="#9c1d4e" stroke-width="0.9" />
<line x1="242.28" y1="474.60" x2="242.28" y2="477.20" stroke="#9c1d4e" stroke-width="0.9" />
<line x1="243.52" y1="474.60" x2="243.52" y2="477.20" stroke="#9c1d4e" stroke-width="0.9" />
<line x1="172.18" y1="446.14" x2="172.18" y2="448.74" stroke="#9c1d4e" stroke-width="0.9" />
<line x1="229.33" y1="469.42" x2="229.33" y2="472.02" stroke="#9c1d4e" stroke-width="0.9" />
<line x1="246.28" y1="475.17" x2="246.28" y2="477.77" stroke="#9c1d4e" stroke-width="0.9" />
<line x1="178.24" y1="449.01" x2="178.24" y2="451.61" stroke="#9c1d4e" stroke-width="0.9" />
<line x1="200.54" y1="459.94" x2="200.54" y2="462.54" stroke="#9c1d4e" stroke-width="0.9" />
<line x1="200.29" y1="459.94" x2="200.29" y2="462.54" stroke="#9c1d4e" stroke-width="0.9" />
<line x1="221.61" y1="469.42" x2="221.61" y2="472.02" stroke="#9c1d4e" stroke-width="0.9" />
<line x1="213.35" y1="468.85" x2="213.35" y2="471.45" stroke="#9c1d4e" stroke-width="0.9" />
<line x1="217.35" y1="468.85" x2="217.35" y2="471.45" stroke="#9c1d4e" stroke-width="0.9" />
<line x1="240.17" y1="474.60" x2="240.17" y2="477.20" stroke="#9c1d4e" stroke-width="0.9" />
<line x1="171.03" y1="446.14" x2="171.03" y2="448.74" stroke="#9c1d4e" stroke-width="0.9" />
<line x1="178.84" y1="450.45" x2="178.84" y2="453.05" stroke="#9c1d4e" stroke-width="0.9" />
<line x1="186.84" y1="453.90" x2="186.84" y2="456.50" stroke="#9c1d4e" stroke-width="0.9" />
<rect x="161.00" y="434.20" width="94.80" height="63.40" fill="none" stroke="#222" stroke-width="1.1"/>
<line x1="161.00" y1="497.60" x2="161.00" y2="499.20" stroke="#222" stroke-width="0.8" />
<text transform="translate(161.00 508.70) scale(1.0 1)" font-size="8.9" text-anchor="middle" fill="#282828" style="color:#282828" font-weight="normal"  >0</text>
<line x1="184.70" y1="497.60" x2="184.70" y2="499.20" stroke="#222" stroke-width="0.8" />
<text transform="translate(184.70 508.70) scale(1.0 1)" font-size="8.9" text-anchor="middle" fill="#282828" style="color:#282828" font-weight="normal"  >2</text>
<line x1="208.40" y1="497.60" x2="208.40" y2="499.20" stroke="#222" stroke-width="0.8" />
<text transform="translate(208.40 508.70) scale(1.0 1)" font-size="8.9" text-anchor="middle" fill="#282828" style="color:#282828" font-weight="normal"  >4</text>
<line x1="232.10" y1="497.60" x2="232.10" y2="499.20" stroke="#222" stroke-width="0.8" />
<text transform="translate(232.10 508.70) scale(1.0 1)" font-size="8.9" text-anchor="middle" fill="#282828" style="color:#282828" font-weight="normal"  >6</text>
<line x1="255.80" y1="497.60" x2="255.80" y2="499.20" stroke="#222" stroke-width="0.8" />
<text transform="translate(255.80 508.70) scale(1.0 1)" font-size="8.9" text-anchor="middle" fill="#282828" style="color:#282828" font-weight="normal"  >8</text>
<text transform="translate(208.40 429.80) scale(1.0 1)" font-size="8.5" text-anchor="middle" fill="#282828" style="color:#282828" font-weight="normal"  >Visco <tspan font-style="italic">et al.</tspan></text>
<rect x="166.80" y="469.05" width="4.70" height="4.40" fill="#9c1d4e" />
<text transform="translate(174.50 473.45) scale(1.0 1)" font-size="8.9" text-anchor="start" fill="#9c1d4e" style="color:#9c1d4e" font-weight="normal"  >132</text>
<rect x="166.80" y="476.95" width="4.70" height="4.40" fill="#90b2d6" />
<text transform="translate(174.50 481.30) scale(1.0 1)" font-size="8.9" text-anchor="start" fill="#9ab6d8" style="color:#9ab6d8" font-weight="normal"  >338</text>
<text transform="translate(168.00 492.45) scale(1.0 1)" font-size="8.7" text-anchor="start" fill="#b8b8b8" style="color:#b8b8b8" font-weight="normal"  ><tspan font-style="italic">P</tspan> &lt; 0.0001</text>
<polygon points="274.50,439.25 283.95,439.25 286.92,439.90 286.94,440.66 293.40,441.19 295.39,441.99 299.07,442.73 301.52,443.23 302.85,443.76 312.30,444.35 331.20,444.14 350.10,444.27 359.55,444.63 369.00,445.29 369.00,451.04 359.55,449.97 350.10,449.18 331.20,448.16 312.30,447.38 302.85,446.24 301.52,445.62 299.07,444.97 295.39,443.99 293.40,443.06 286.94,442.05 286.92,441.29 283.95,440.40 274.50,439.25" fill="#e4ecf6"/>
<polygon points="274.50,439.25 280.17,439.76 283.95,440.34 284.66,441.30 289.62,442.00 289.88,442.85 293.40,443.51 298.93,444.65 299.07,446.08 302.30,447.07 302.85,448.19 303.66,449.31 312.30,450.05 317.05,450.71 321.75,451.37 331.20,451.85 338.76,452.13 340.65,452.92 369.00,451.90 369.00,461.10 340.65,460.08 338.76,459.15 331.20,458.28 321.75,457.03 317.05,455.97 312.30,454.90 303.66,453.34 302.85,452.16 302.30,450.98 299.07,449.67 298.93,448.22 293.40,446.49 289.88,445.43 289.62,444.55 284.66,443.23 283.95,442.18 280.17,441.04 274.50,439.25" fill="#f6e4ec"/>
<path d="M274.50,439.25 H283.95 V439.82 H286.92 V440.59 H286.94 V441.36 H293.40 V442.12 H295.39 V442.99 H299.07 V443.85 H301.52 V444.43 H302.85 V445.00 H312.30 V445.86 H331.20 V446.15 H350.10 V446.73 H359.55 V447.30 H369.00 V448.16" fill="none" stroke="#8cb0d8" stroke-width="1.6"/>
<line x1="339.46" y1="443.55" x2="339.46" y2="446.15" stroke="#8cb0d8" stroke-width="0.9" />
<line x1="321.58" y1="443.26" x2="321.58" y2="445.86" stroke="#8cb0d8" stroke-width="0.9" />
<line x1="306.58" y1="442.40" x2="306.58" y2="445.00" stroke="#8cb0d8" stroke-width="0.9" />
<line x1="318.88" y1="443.26" x2="318.88" y2="445.86" stroke="#8cb0d8" stroke-width="0.9" />
<line x1="299.94" y1="441.25" x2="299.94" y2="443.85" stroke="#8cb0d8" stroke-width="0.9" />
<line x1="337.09" y1="443.55" x2="337.09" y2="446.15" stroke="#8cb0d8" stroke-width="0.9" />
<line x1="349.06" y1="443.55" x2="349.06" y2="446.15" stroke="#8cb0d8" stroke-width="0.9" />
<line x1="323.19" y1="443.26" x2="323.19" y2="445.86" stroke="#8cb0d8" stroke-width="0.9" />
<line x1="295.21" y1="439.52" x2="295.21" y2="442.12" stroke="#8cb0d8" stroke-width="0.9" />
<line x1="305.38" y1="442.40" x2="305.38" y2="445.00" stroke="#8cb0d8" stroke-width="0.9" />
<line x1="322.61" y1="443.26" x2="322.61" y2="445.86" stroke="#8cb0d8" stroke-width="0.9" />
<line x1="340.80" y1="443.55" x2="340.80" y2="446.15" stroke="#8cb0d8" stroke-width="0.9" />
<line x1="353.86" y1="444.12" x2="353.86" y2="446.73" stroke="#8cb0d8" stroke-width="0.9" />
<line x1="323.19" y1="443.26" x2="323.19" y2="445.86" stroke="#8cb0d8" stroke-width="0.9" />
<line x1="355.18" y1="444.12" x2="355.18" y2="446.73" stroke="#8cb0d8" stroke-width="0.9" />
<line x1="342.19" y1="443.55" x2="342.19" y2="446.15" stroke="#8cb0d8" stroke-width="0.9" />
<line x1="327.37" y1="443.26" x2="327.37" y2="445.86" stroke="#8cb0d8" stroke-width="0.9" />
<line x1="322.54" y1="443.26" x2="322.54" y2="445.86" stroke="#8cb0d8" stroke-width="0.9" />
<line x1="332.50" y1="443.55" x2="332.50" y2="446.15" stroke="#8cb0d8" stroke-width="0.9" />
<line x1="348.10" y1="443.55" x2="348.10" y2="446.15" stroke="#8cb0d8" stroke-width="0.9" />
<line x1="326.48" y1="443.26" x2="326.48" y2="445.86" stroke="#8cb0d8" stroke-width="0.9" />
<line x1="347.46" y1="443.55" x2="347.46" y2="446.15" stroke="#8cb0d8" stroke-width="0.9" />
<line x1="329.71" y1="443.26" x2="329.71" y2="445.86" stroke="#8cb0d8" stroke-width="0.9" />
<line x1="311.56" y1="442.40" x2="311.56" y2="445.00" stroke="#8cb0d8" stroke-width="0.9" />
<line x1="335.58" y1="443.55" x2="335.58" y2="446.15" stroke="#8cb0d8" stroke-width="0.9" />
<line x1="347.53" y1="443.55" x2="347.53" y2="446.15" stroke="#8cb0d8" stroke-width="0.9" />
<line x1="294.27" y1="439.52" x2="294.27" y2="442.12" stroke="#8cb0d8" stroke-width="0.9" />
<line x1="326.83" y1="443.26" x2="326.83" y2="445.86" stroke="#8cb0d8" stroke-width="0.9" />
<line x1="326.91" y1="443.26" x2="326.91" y2="445.86" stroke="#8cb0d8" stroke-width="0.9" />
<line x1="360.71" y1="444.70" x2="360.71" y2="447.30" stroke="#8cb0d8" stroke-width="0.9" />
<line x1="364.65" y1="444.70" x2="364.65" y2="447.30" stroke="#8cb0d8" stroke-width="0.9" />
<line x1="322.69" y1="443.26" x2="322.69" y2="445.86" stroke="#8cb0d8" stroke-width="0.9" />
<line x1="361.98" y1="444.70" x2="361.98" y2="447.30" stroke="#8cb0d8" stroke-width="0.9" />
<line x1="354.45" y1="444.12" x2="354.45" y2="446.73" stroke="#8cb0d8" stroke-width="0.9" />
<line x1="313.09" y1="443.26" x2="313.09" y2="445.86" stroke="#8cb0d8" stroke-width="0.9" />
<path d="M274.50,439.25 H280.17 V440.40 H283.95 V441.26 H284.66 V442.27 H289.62 V443.27 H289.88 V444.14 H293.40 V445.00 H298.93 V446.44 H299.07 V447.88 H302.30 V449.02 H302.85 V450.18 H303.66 V451.32 H312.30 V452.48 H317.05 V453.34 H321.75 V454.20 H331.20 V455.06 H338.76 V455.64 H340.65 V456.50 H369.00 V456.50" fill="none" stroke="#9c1d4e" stroke-width="1.6"/>
<line x1="329.98" y1="451.60" x2="329.98" y2="454.20" stroke="#9c1d4e" stroke-width="0.9" />
<line x1="299.87" y1="445.27" x2="299.87" y2="447.88" stroke="#9c1d4e" stroke-width="0.9" />
<line x1="356.03" y1="453.90" x2="356.03" y2="456.50" stroke="#9c1d4e" stroke-width="0.9" />
<line x1="345.12" y1="453.90" x2="345.12" y2="456.50" stroke="#9c1d4e" stroke-width="0.9" />
<line x1="361.24" y1="453.90" x2="361.24" y2="456.50" stroke="#9c1d4e" stroke-width="0.9" />
<line x1="354.56" y1="453.90" x2="354.56" y2="456.50" stroke="#9c1d4e" stroke-width="0.9" />
<line x1="345.51" y1="453.90" x2="345.51" y2="456.50" stroke="#9c1d4e" stroke-width="0.9" />
<line x1="350.34" y1="453.90" x2="350.34" y2="456.50" stroke="#9c1d4e" stroke-width="0.9" />
<line x1="337.73" y1="452.46" x2="337.73" y2="455.06" stroke="#9c1d4e" stroke-width="0.9" />
<line x1="297.77" y1="442.40" x2="297.77" y2="445.00" stroke="#9c1d4e" stroke-width="0.9" />
<line x1="339.54" y1="453.04" x2="339.54" y2="455.64" stroke="#9c1d4e" stroke-width="0.9" />
<line x1="285.16" y1="439.67" x2="285.16" y2="442.27" stroke="#9c1d4e" stroke-width="0.9" />
<line x1="301.95" y1="445.27" x2="301.95" y2="447.88" stroke="#9c1d4e" stroke-width="0.9" />
<line x1="353.26" y1="453.90" x2="353.26" y2="456.50" stroke="#9c1d4e" stroke-width="0.9" />
<line x1="290.98" y1="441.54" x2="290.98" y2="444.14" stroke="#9c1d4e" stroke-width="0.9" />
<line x1="296.54" y1="442.40" x2="296.54" y2="445.00" stroke="#9c1d4e" stroke-width="0.9" />
<line x1="297.35" y1="442.40" x2="297.35" y2="445.00" stroke="#9c1d4e" stroke-width="0.9" />
<line x1="360.76" y1="453.90" x2="360.76" y2="456.50" stroke="#9c1d4e" stroke-width="0.9" />
<line x1="305.44" y1="448.72" x2="305.44" y2="451.32" stroke="#9c1d4e" stroke-width="0.9" />
<line x1="288.18" y1="439.67" x2="288.18" y2="442.27" stroke="#9c1d4e" stroke-width="0.9" />
<line x1="358.04" y1="453.90" x2="358.04" y2="456.50" stroke="#9c1d4e" stroke-width="0.9" />
<line x1="299.68" y1="445.27" x2="299.68" y2="447.88" stroke="#9c1d4e" stroke-width="0.9" />
<rect x="274.50" y="434.20" width="94.50" height="63.40" fill="none" stroke="#222" stroke-width="1.1"/>
<line x1="274.50" y1="497.60" x2="274.50" y2="499.20" stroke="#222" stroke-width="0.8" />
<text transform="translate(274.50 508.70) scale(1.0 1)" font-size="8.9" text-anchor="middle" fill="#282828" style="color:#282828" font-weight="normal"  >0</text>
<line x1="293.40" y1="497.60" x2="293.40" y2="499.20" stroke="#222" stroke-width="0.8" />
<text transform="translate(293.40 508.70) scale(1.0 1)" font-size="8.9" text-anchor="middle" fill="#282828" style="color:#282828" font-weight="normal"  >1</text>
<line x1="312.30" y1="497.60" x2="312.30" y2="499.20" stroke="#222" stroke-width="0.8" />
<text transform="translate(312.30 508.70) scale(1.0 1)" font-size="8.9" text-anchor="middle" fill="#282828" style="color:#282828" font-weight="normal"  >2</text>
<line x1="331.20" y1="497.60" x2="331.20" y2="499.20" stroke="#222" stroke-width="0.8" />
<text transform="translate(331.20 508.70) scale(1.0 1)" font-size="8.9" text-anchor="middle" fill="#282828" style="color:#282828" font-weight="normal"  >3</text>
<line x1="350.10" y1="497.60" x2="350.10" y2="499.20" stroke="#222" stroke-width="0.8" />
<text transform="translate(350.10 508.70) scale(1.0 1)" font-size="8.9" text-anchor="middle" fill="#282828" style="color:#282828" font-weight="normal"  >4</text>
<line x1="369.00" y1="497.60" x2="369.00" y2="499.20" stroke="#222" stroke-width="0.8" />
<text transform="translate(369.00 508.70) scale(1.0 1)" font-size="8.9" text-anchor="middle" fill="#282828" style="color:#282828" font-weight="normal"  >5</text>
<text transform="translate(321.75 429.80) scale(1.0 1)" font-size="8.5" text-anchor="middle" fill="#282828" style="color:#282828" font-weight="normal"  >Sha <tspan font-style="italic">et al.</tspan></text>
<rect x="280.30" y="469.05" width="4.70" height="4.40" fill="#9c1d4e" />
<text transform="translate(288.00 473.45) scale(1.0 1)" font-size="8.9" text-anchor="start" fill="#9c1d4e" style="color:#9c1d4e" font-weight="normal"  >136</text>
<rect x="280.30" y="476.95" width="4.70" height="4.40" fill="#90b2d6" />
<text transform="translate(288.00 481.30) scale(1.0 1)" font-size="8.9" text-anchor="start" fill="#9ab6d8" style="color:#9ab6d8" font-weight="normal"  >333</text>
<text transform="translate(278.00 492.45) scale(1.0 1)" font-size="8.7" text-anchor="start" fill="#b8b8b8" style="color:#b8b8b8" font-weight="normal"  ><tspan font-style="italic">P</tspan> = 0.009</text>
<polygon points="388.70,439.25 389.40,439.80 389.65,440.43 389.68,441.07 390.90,441.63 391.10,442.26 391.64,442.88 391.93,443.51 392.60,444.11 393.97,444.79 394.04,445.53 394.14,446.28 394.15,447.02 396.51,447.66 397.16,448.32 399.73,448.90 399.77,449.59 400.41,450.25 404.11,450.80 404.32,451.48 405.57,452.11 410.15,452.62 412.12,453.23 419.93,454.02 430.72,454.36 431.74,454.99 435.55,455.54 443.10,455.98 443.63,456.61 445.59,457.21 446.07,457.84 451.17,458.36 453.50,458.94 465.18,459.30 466.78,459.89 467.16,460.60 468.51,461.28 468.80,461.99 469.59,462.69 469.70,463.40 470.36,464.10 470.69,464.81 472.87,465.33 482.40,465.70 482.40,471.45 472.87,470.67 470.69,470.04 470.36,469.32 469.70,468.59 469.59,467.87 468.80,467.14 468.51,466.42 467.16,465.68 466.78,464.95 465.18,464.28 453.50,463.38 451.17,462.69 446.07,461.92 445.59,461.26 443.63,460.57 443.10,459.91 435.55,459.07 431.74,458.32 430.72,457.64 419.93,456.68 412.12,455.40 410.15,454.67 405.57,453.84 404.32,453.12 404.11,452.42 400.41,451.59 399.77,450.88 399.73,450.19 397.16,449.39 396.51,448.67 394.15,447.81 394.14,447.06 394.04,446.31 393.97,445.56 392.60,444.74 391.93,444.05 391.64,443.39 391.10,442.71 390.90,442.05 389.68,441.31 389.65,440.66 389.40,439.99 388.70,439.25" fill="#e4ecf6"/>
<polygon points="388.70,439.25 390.01,440.46 390.33,441.85 390.35,443.29 390.65,444.69 391.78,445.87 392.21,447.13 392.51,448.39 392.60,449.68 392.75,451.01 393.02,452.32 394.60,453.54 395.40,454.82 395.60,456.14 396.51,457.42 398.26,458.64 398.70,459.95 398.85,461.28 404.32,462.09 413.69,461.58 416.03,463.47 416.27,464.78 417.30,466.05 419.93,467.25 427.74,468.96 439.45,470.47 479.28,468.97 479.28,477.95 439.45,476.46 427.74,473.94 419.93,471.51 417.30,470.06 416.27,468.69 416.03,467.35 413.69,465.22 404.32,464.71 398.85,463.22 398.70,461.87 398.26,460.50 396.51,459.03 395.60,457.62 395.40,456.27 394.60,454.86 393.02,453.39 392.75,452.03 392.60,450.67 392.51,449.37 392.21,448.05 391.78,446.72 390.65,445.31 390.35,443.83 390.33,442.40 390.01,440.92 388.70,439.25" fill="#f6e4ec"/>
<path d="M388.70,439.25 H389.40 V439.90 H389.65 V440.54 H389.68 V441.19 H390.90 V441.84 H391.10 V442.48 H391.64 V443.13 H391.93 V443.78 H392.60 V444.43 H393.97 V445.17 H394.04 V445.92 H394.14 V446.67 H394.15 V447.42 H396.51 V448.16 H397.16 V448.85 H399.73 V449.54 H399.77 V450.23 H400.41 V450.92 H404.11 V451.61 H404.32 V452.30 H405.57 V452.97 H410.15 V453.64 H412.12 V454.31 H419.93 V455.35 H430.72 V456.00 H431.74 V456.65 H435.55 V457.31 H443.10 V457.95 H443.63 V458.59 H445.59 V459.24 H446.07 V459.88 H451.17 V460.52 H453.50 V461.16 H465.18 V461.79 H466.78 V462.42 H467.16 V463.14 H468.51 V463.85 H468.80 V464.57 H469.59 V465.28 H469.70 V466.00 H470.36 V466.71 H470.69 V467.43 H472.87 V468.00 H482.40 V468.57" fill="none" stroke="#8cb0d8" stroke-width="1.6"/>
<line x1="427.42" y1="452.75" x2="427.42" y2="455.35" stroke="#8cb0d8" stroke-width="0.9" />
<line x1="421.26" y1="452.75" x2="421.26" y2="455.35" stroke="#8cb0d8" stroke-width="0.9" />
<line x1="453.03" y1="457.92" x2="453.03" y2="460.52" stroke="#8cb0d8" stroke-width="0.9" />
<line x1="431.53" y1="453.40" x2="431.53" y2="456.00" stroke="#8cb0d8" stroke-width="0.9" />
<line x1="424.30" y1="452.75" x2="424.30" y2="455.35" stroke="#8cb0d8" stroke-width="0.9" />
<line x1="460.82" y1="458.56" x2="460.82" y2="461.16" stroke="#8cb0d8" stroke-width="0.9" />
<line x1="479.24" y1="465.40" x2="479.24" y2="468.00" stroke="#8cb0d8" stroke-width="0.9" />
<line x1="429.90" y1="452.75" x2="429.90" y2="455.35" stroke="#8cb0d8" stroke-width="0.9" />
<line x1="461.85" y1="458.56" x2="461.85" y2="461.16" stroke="#8cb0d8" stroke-width="0.9" />
<line x1="439.65" y1="454.70" x2="439.65" y2="457.31" stroke="#8cb0d8" stroke-width="0.9" />
<line x1="472.37" y1="464.82" x2="472.37" y2="467.43" stroke="#8cb0d8" stroke-width="0.9" />
<line x1="452.96" y1="457.92" x2="452.96" y2="460.52" stroke="#8cb0d8" stroke-width="0.9" />
<line x1="427.41" y1="452.75" x2="427.41" y2="455.35" stroke="#8cb0d8" stroke-width="0.9" />
<line x1="422.97" y1="452.75" x2="422.97" y2="455.35" stroke="#8cb0d8" stroke-width="0.9" />
<line x1="402.21" y1="448.32" x2="402.21" y2="450.92" stroke="#8cb0d8" stroke-width="0.9" />
<line x1="444.91" y1="455.99" x2="444.91" y2="458.59" stroke="#8cb0d8" stroke-width="0.9" />
<line x1="437.18" y1="454.70" x2="437.18" y2="457.31" stroke="#8cb0d8" stroke-width="0.9" />
<line x1="418.72" y1="451.71" x2="418.72" y2="454.31" stroke="#8cb0d8" stroke-width="0.9" />
<line x1="435.35" y1="454.05" x2="435.35" y2="456.65" stroke="#8cb0d8" stroke-width="0.9" />
<line x1="432.14" y1="454.05" x2="432.14" y2="456.65" stroke="#8cb0d8" stroke-width="0.9" />
<line x1="466.79" y1="459.82" x2="466.79" y2="462.42" stroke="#8cb0d8" stroke-width="0.9" />
<line x1="415.92" y1="451.71" x2="415.92" y2="454.31" stroke="#8cb0d8" stroke-width="0.9" />
<line x1="481.81" y1="465.40" x2="481.81" y2="468.00" stroke="#8cb0d8" stroke-width="0.9" />
<line x1="444.92" y1="455.99" x2="444.92" y2="458.59" stroke="#8cb0d8" stroke-width="0.9" />
<line x1="454.04" y1="458.56" x2="454.04" y2="461.16" stroke="#8cb0d8" stroke-width="0.9" />
<line x1="444.01" y1="455.99" x2="444.01" y2="458.59" stroke="#8cb0d8" stroke-width="0.9" />
<line x1="471.04" y1="464.82" x2="471.04" y2="467.43" stroke="#8cb0d8" stroke-width="0.9" />
<line x1="470.13" y1="463.40" x2="470.13" y2="466.00" stroke="#8cb0d8" stroke-width="0.9" />
<line x1="450.88" y1="457.28" x2="450.88" y2="459.88" stroke="#8cb0d8" stroke-width="0.9" />
<line x1="445.05" y1="455.99" x2="445.05" y2="458.59" stroke="#8cb0d8" stroke-width="0.9" />
<line x1="462.96" y1="458.56" x2="462.96" y2="461.16" stroke="#8cb0d8" stroke-width="0.9" />
<line x1="472.58" y1="464.82" x2="472.58" y2="467.43" stroke="#8cb0d8" stroke-width="0.9" />
<line x1="438.61" y1="454.70" x2="438.61" y2="457.31" stroke="#8cb0d8" stroke-width="0.9" />
<line x1="463.89" y1="458.56" x2="463.89" y2="461.16" stroke="#8cb0d8" stroke-width="0.9" />
<line x1="479.71" y1="465.40" x2="479.71" y2="468.00" stroke="#8cb0d8" stroke-width="0.9" />
<path d="M388.70,439.25 H390.01 V440.69 H390.33 V442.12 H390.35 V443.56 H390.65 V445.00 H391.78 V446.29 H392.21 V447.59 H392.51 V448.88 H392.60 V450.18 H392.75 V451.52 H393.02 V452.86 H394.60 V454.20 H395.40 V455.54 H395.60 V456.88 H396.51 V458.23 H398.26 V459.57 H398.70 V460.91 H398.85 V462.25 H404.32 V463.40 H413.69 V463.40 H416.03 V465.41 H416.27 V466.74 H417.30 V468.06 H419.93 V469.38 H427.74 V471.45 H439.45 V473.46 H479.28 V473.46" fill="none" stroke="#9c1d4e" stroke-width="1.6"/>
<line x1="442.12" y1="470.86" x2="442.12" y2="473.46" stroke="#9c1d4e" stroke-width="0.9" />
<line x1="422.88" y1="466.78" x2="422.88" y2="469.38" stroke="#9c1d4e" stroke-width="0.9" />
<line x1="423.33" y1="466.78" x2="423.33" y2="469.38" stroke="#9c1d4e" stroke-width="0.9" />
<line x1="460.28" y1="470.86" x2="460.28" y2="473.46" stroke="#9c1d4e" stroke-width="0.9" />
<line x1="457.31" y1="470.86" x2="457.31" y2="473.46" stroke="#9c1d4e" stroke-width="0.9" />
<line x1="476.57" y1="470.86" x2="476.57" y2="473.46" stroke="#9c1d4e" stroke-width="0.9" />
<line x1="469.60" y1="470.86" x2="469.60" y2="473.46" stroke="#9c1d4e" stroke-width="0.9" />
<line x1="423.97" y1="466.78" x2="423.97" y2="469.38" stroke="#9c1d4e" stroke-width="0.9" />
<line x1="419.31" y1="465.46" x2="419.31" y2="468.06" stroke="#9c1d4e" stroke-width="0.9" />
<line x1="425.39" y1="466.78" x2="425.39" y2="469.38" stroke="#9c1d4e" stroke-width="0.9" />
<line x1="419.09" y1="465.46" x2="419.09" y2="468.06" stroke="#9c1d4e" stroke-width="0.9" />
<line x1="459.37" y1="470.86" x2="459.37" y2="473.46" stroke="#9c1d4e" stroke-width="0.9" />
<line x1="469.92" y1="470.86" x2="469.92" y2="473.46" stroke="#9c1d4e" stroke-width="0.9" />
<line x1="472.67" y1="470.86" x2="472.67" y2="473.46" stroke="#9c1d4e" stroke-width="0.9" />
<rect x="388.70" y="434.20" width="93.70" height="63.40" fill="none" stroke="#222" stroke-width="1.1"/>
<line x1="388.70" y1="497.60" x2="388.70" y2="499.20" stroke="#222" stroke-width="0.8" />
<text transform="translate(388.70 508.70) scale(1.0 1)" font-size="8.9" text-anchor="middle" fill="#282828" style="color:#282828" font-weight="normal"  >0</text>
<line x1="404.32" y1="497.60" x2="404.32" y2="499.20" stroke="#222" stroke-width="0.8" />
<text transform="translate(404.32 508.70) scale(1.0 1)" font-size="8.9" text-anchor="middle" fill="#282828" style="color:#282828" font-weight="normal"  >2</text>
<line x1="419.93" y1="497.60" x2="419.93" y2="499.20" stroke="#222" stroke-width="0.8" />
<text transform="translate(419.93 508.70) scale(1.0 1)" font-size="8.9" text-anchor="middle" fill="#282828" style="color:#282828" font-weight="normal"  >4</text>
<line x1="435.55" y1="497.60" x2="435.55" y2="499.20" stroke="#222" stroke-width="0.8" />
<text transform="translate(435.55 508.70) scale(1.0 1)" font-size="8.9" text-anchor="middle" fill="#282828" style="color:#282828" font-weight="normal"  >6</text>
<line x1="451.17" y1="497.60" x2="451.17" y2="499.20" stroke="#222" stroke-width="0.8" />
<text transform="translate(451.17 508.70) scale(1.0 1)" font-size="8.9" text-anchor="middle" fill="#282828" style="color:#282828" font-weight="normal"  >8</text>
<line x1="466.78" y1="497.60" x2="466.78" y2="499.20" stroke="#222" stroke-width="0.8" />
<text transform="translate(466.78 508.70) scale(1.0 1)" font-size="8.9" text-anchor="middle" fill="#282828" style="color:#282828" font-weight="normal"  >10</text>
<line x1="482.40" y1="497.60" x2="482.40" y2="499.20" stroke="#222" stroke-width="0.8" />
<text transform="translate(482.40 508.70) scale(1.0 1)" font-size="8.9" text-anchor="middle" fill="#282828" style="color:#282828" font-weight="normal"  >12</text>
<text transform="translate(435.55 429.80) scale(1.0 1)" font-size="8.5" text-anchor="middle" fill="#282828" style="color:#282828" font-weight="normal"  >Schmitz <tspan font-style="italic">et al.</tspan></text>
<rect x="394.50" y="469.05" width="4.70" height="4.40" fill="#9c1d4e" />
<text transform="translate(402.20 473.45) scale(1.0 1)" font-size="8.9" text-anchor="start" fill="#9c1d4e" style="color:#9c1d4e" font-weight="normal"  >50</text>
<rect x="394.50" y="476.95" width="4.70" height="4.40" fill="#90b2d6" />
<text transform="translate(402.20 481.30) scale(1.0 1)" font-size="8.9" text-anchor="start" fill="#9ab6d8" style="color:#9ab6d8" font-weight="normal"  >184</text>
<text transform="translate(392.60 492.45) scale(1.0 1)" font-size="8.7" text-anchor="start" fill="#b8b8b8" style="color:#b8b8b8" font-weight="normal"  ><tspan font-style="italic">P</tspan> = 0.003</text>
<polygon points="47.20,537.40 49.98,538.01 51.95,538.76 58.30,539.32 58.60,540.16 61.57,540.76 66.20,541.31 69.30,542.00 71.90,542.71 85.20,543.00 104.20,543.08 119.40,543.01 119.85,543.64 120.44,544.27 123.20,544.85 124.06,545.52 128.26,546.11 130.80,546.73 140.91,547.08 142.20,547.62 142.20,553.30 140.91,552.71 130.80,551.92 128.26,551.19 124.06,550.41 123.20,549.71 120.44,549.01 119.85,548.35 119.40,547.70 104.20,547.05 85.20,546.00 71.90,544.92 69.30,544.05 66.20,543.15 61.57,542.28 58.60,541.45 58.30,540.59 51.95,539.45 49.98,538.49 47.20,537.40" fill="#e4ecf6"/>
<polygon points="47.20,537.40 47.68,538.28 47.80,539.26 48.84,540.12 49.10,541.08 49.34,542.05 50.31,542.95 51.18,543.87 51.95,544.79 52.39,545.80 55.91,546.58 56.70,547.57 58.09,548.90 61.45,550.11 63.14,551.05 64.21,552.04 66.20,552.97 68.77,554.25 70.00,555.61 70.05,556.64 72.54,557.55 73.32,558.55 77.60,559.38 81.29,560.26 85.20,561.14 86.20,562.09 89.95,562.92 142.20,560.97 142.20,570.06 89.95,568.11 86.20,566.96 85.20,565.92 81.29,564.69 77.60,563.47 73.32,562.23 72.54,561.16 70.05,559.99 70.00,558.95 68.77,557.47 66.20,555.91 64.21,554.76 63.14,553.66 61.45,552.52 58.09,550.89 56.70,549.38 55.91,548.29 52.39,546.99 51.95,545.91 51.18,544.85 50.31,543.78 49.34,542.69 49.10,541.67 48.84,540.65 47.80,539.52 47.68,538.51 47.20,537.40" fill="#f6e4ec"/>
<path d="M47.20,537.40 H49.98 V538.25 H51.95 V539.10 H58.30 V539.96 H58.60 V540.81 H61.57 V541.52 H66.20 V542.23 H69.30 V543.02 H71.90 V543.82 H85.20 V544.50 H104.20 V545.07 H119.40 V545.35 H119.85 V546.00 H120.44 V546.64 H123.20 V547.28 H124.06 V547.96 H128.26 V548.65 H130.80 V549.33 H140.91 V549.90 H142.20 V550.46" fill="none" stroke="#8cb0d8" stroke-width="1.6"/>
<line x1="135.90" y1="546.73" x2="135.90" y2="549.33" stroke="#8cb0d8" stroke-width="0.9" />
<line x1="69.91" y1="540.42" x2="69.91" y2="543.02" stroke="#8cb0d8" stroke-width="0.9" />
<line x1="138.16" y1="546.73" x2="138.16" y2="549.33" stroke="#8cb0d8" stroke-width="0.9" />
<line x1="95.65" y1="541.90" x2="95.65" y2="544.50" stroke="#8cb0d8" stroke-width="0.9" />
<line x1="126.24" y1="545.36" x2="126.24" y2="547.96" stroke="#8cb0d8" stroke-width="0.9" />
<line x1="125.15" y1="545.36" x2="125.15" y2="547.96" stroke="#8cb0d8" stroke-width="0.9" />
<line x1="88.94" y1="541.90" x2="88.94" y2="544.50" stroke="#8cb0d8" stroke-width="0.9" />
<line x1="119.20" y1="542.47" x2="119.20" y2="545.07" stroke="#8cb0d8" stroke-width="0.9" />
<line x1="117.58" y1="542.47" x2="117.58" y2="545.07" stroke="#8cb0d8" stroke-width="0.9" />
<line x1="128.65" y1="546.05" x2="128.65" y2="548.65" stroke="#8cb0d8" stroke-width="0.9" />
<line x1="86.30" y1="541.90" x2="86.30" y2="544.50" stroke="#8cb0d8" stroke-width="0.9" />
<line x1="124.93" y1="545.36" x2="124.93" y2="547.96" stroke="#8cb0d8" stroke-width="0.9" />
<line x1="139.54" y1="546.73" x2="139.54" y2="549.33" stroke="#8cb0d8" stroke-width="0.9" />
<line x1="118.97" y1="542.47" x2="118.97" y2="545.07" stroke="#8cb0d8" stroke-width="0.9" />
<line x1="108.63" y1="542.47" x2="108.63" y2="545.07" stroke="#8cb0d8" stroke-width="0.9" />
<line x1="71.67" y1="540.42" x2="71.67" y2="543.02" stroke="#8cb0d8" stroke-width="0.9" />
<line x1="105.33" y1="542.47" x2="105.33" y2="545.07" stroke="#8cb0d8" stroke-width="0.9" />
<line x1="93.80" y1="541.90" x2="93.80" y2="544.50" stroke="#8cb0d8" stroke-width="0.9" />
<line x1="122.30" y1="544.04" x2="122.30" y2="546.64" stroke="#8cb0d8" stroke-width="0.9" />
<line x1="119.39" y1="542.47" x2="119.39" y2="545.07" stroke="#8cb0d8" stroke-width="0.9" />
<line x1="110.96" y1="542.47" x2="110.96" y2="545.07" stroke="#8cb0d8" stroke-width="0.9" />
<line x1="78.58" y1="541.22" x2="78.58" y2="543.82" stroke="#8cb0d8" stroke-width="0.9" />
<line x1="116.95" y1="542.47" x2="116.95" y2="545.07" stroke="#8cb0d8" stroke-width="0.9" />
<line x1="115.85" y1="542.47" x2="115.85" y2="545.07" stroke="#8cb0d8" stroke-width="0.9" />
<line x1="78.30" y1="541.22" x2="78.30" y2="543.82" stroke="#8cb0d8" stroke-width="0.9" />
<line x1="134.58" y1="546.73" x2="134.58" y2="549.33" stroke="#8cb0d8" stroke-width="0.9" />
<line x1="117.68" y1="542.47" x2="117.68" y2="545.07" stroke="#8cb0d8" stroke-width="0.9" />
<line x1="72.71" y1="541.22" x2="72.71" y2="543.82" stroke="#8cb0d8" stroke-width="0.9" />
<line x1="137.51" y1="546.73" x2="137.51" y2="549.33" stroke="#8cb0d8" stroke-width="0.9" />
<line x1="74.58" y1="541.22" x2="74.58" y2="543.82" stroke="#8cb0d8" stroke-width="0.9" />
<path d="M47.20,537.40 H47.68 V538.39 H47.80 V539.39 H48.84 V540.38 H49.10 V541.38 H49.34 V542.37 H50.31 V543.36 H51.18 V544.36 H51.95 V545.35 H52.39 V546.39 H55.91 V547.43 H56.70 V548.48 H58.09 V549.90 H61.45 V551.32 H63.14 V552.36 H64.21 V553.40 H66.20 V554.44 H68.77 V555.86 H70.00 V557.28 H70.05 V558.32 H72.54 V559.35 H73.32 V560.39 H77.60 V561.43 H81.29 V562.48 H85.20 V563.53 H86.20 V564.52 H89.95 V565.52 H142.20 V565.52" fill="none" stroke="#9c1d4e" stroke-width="1.6"/>
<line x1="92.05" y1="562.92" x2="92.05" y2="565.52" stroke="#9c1d4e" stroke-width="0.9" />
<line x1="122.48" y1="562.92" x2="122.48" y2="565.52" stroke="#9c1d4e" stroke-width="0.9" />
<line x1="113.32" y1="562.92" x2="113.32" y2="565.52" stroke="#9c1d4e" stroke-width="0.9" />
<line x1="110.08" y1="562.92" x2="110.08" y2="565.52" stroke="#9c1d4e" stroke-width="0.9" />
<line x1="117.09" y1="562.92" x2="117.09" y2="565.52" stroke="#9c1d4e" stroke-width="0.9" />
<line x1="102.45" y1="562.92" x2="102.45" y2="565.52" stroke="#9c1d4e" stroke-width="0.9" />
<line x1="90.41" y1="562.92" x2="90.41" y2="565.52" stroke="#9c1d4e" stroke-width="0.9" />
<line x1="78.04" y1="558.83" x2="78.04" y2="561.43" stroke="#9c1d4e" stroke-width="0.9" />
<line x1="66.72" y1="551.84" x2="66.72" y2="554.44" stroke="#9c1d4e" stroke-width="0.9" />
<line x1="122.14" y1="562.92" x2="122.14" y2="565.52" stroke="#9c1d4e" stroke-width="0.9" />
<line x1="124.95" y1="562.92" x2="124.95" y2="565.52" stroke="#9c1d4e" stroke-width="0.9" />
<line x1="109.17" y1="562.92" x2="109.17" y2="565.52" stroke="#9c1d4e" stroke-width="0.9" />
<line x1="123.87" y1="562.92" x2="123.87" y2="565.52" stroke="#9c1d4e" stroke-width="0.9" />
<line x1="94.39" y1="562.92" x2="94.39" y2="565.52" stroke="#9c1d4e" stroke-width="0.9" />
<line x1="86.33" y1="561.92" x2="86.33" y2="564.52" stroke="#9c1d4e" stroke-width="0.9" />
<line x1="96.41" y1="562.92" x2="96.41" y2="565.52" stroke="#9c1d4e" stroke-width="0.9" />
<rect x="47.20" y="531.70" width="95.00" height="62.60" fill="none" stroke="#222" stroke-width="1.1"/>
<line x1="47.20" y1="594.30" x2="47.20" y2="595.90" stroke="#222" stroke-width="0.8" />
<text transform="translate(47.20 605.50) scale(1.0 1)" font-size="8.9" text-anchor="middle" fill="#282828" style="color:#282828" font-weight="normal"  >0</text>
<line x1="66.20" y1="594.30" x2="66.20" y2="595.90" stroke="#222" stroke-width="0.8" />
<text transform="translate(66.20 605.50) scale(1.0 1)" font-size="8.9" text-anchor="middle" fill="#282828" style="color:#282828" font-weight="normal"  >1</text>
<line x1="85.20" y1="594.30" x2="85.20" y2="595.90" stroke="#222" stroke-width="0.8" />
<text transform="translate(85.20 605.50) scale(1.0 1)" font-size="8.9" text-anchor="middle" fill="#282828" style="color:#282828" font-weight="normal"  >2</text>
<line x1="104.20" y1="594.30" x2="104.20" y2="595.90" stroke="#222" stroke-width="0.8" />
<text transform="translate(104.20 605.50) scale(1.0 1)" font-size="8.9" text-anchor="middle" fill="#282828" style="color:#282828" font-weight="normal"  >3</text>
<line x1="123.20" y1="594.30" x2="123.20" y2="595.90" stroke="#222" stroke-width="0.8" />
<text transform="translate(123.20 605.50) scale(1.0 1)" font-size="8.9" text-anchor="middle" fill="#282828" style="color:#282828" font-weight="normal"  >4</text>
<line x1="142.20" y1="594.30" x2="142.20" y2="595.90" stroke="#222" stroke-width="0.8" />
<text transform="translate(142.20 605.50) scale(1.0 1)" font-size="8.9" text-anchor="middle" fill="#282828" style="color:#282828" font-weight="normal"  >5</text>
<line x1="45.60" y1="594.20" x2="47.20" y2="594.20" stroke="#222" stroke-width="0.8" />
<text transform="translate(43.60 597.30) scale(1.0 1)" font-size="8.9" text-anchor="end" fill="#282828" style="color:#282828" font-weight="normal"  >0</text>
<line x1="45.60" y1="580.00" x2="47.20" y2="580.00" stroke="#222" stroke-width="0.8" />
<text transform="translate(43.60 583.10) scale(1.0 1)" font-size="8.9" text-anchor="end" fill="#282828" style="color:#282828" font-weight="normal"  >25</text>
<line x1="45.60" y1="565.80" x2="47.20" y2="565.80" stroke="#222" stroke-width="0.8" />
<text transform="translate(43.60 568.90) scale(1.0 1)" font-size="8.9" text-anchor="end" fill="#282828" style="color:#282828" font-weight="normal"  >50</text>
<line x1="45.60" y1="551.60" x2="47.20" y2="551.60" stroke="#222" stroke-width="0.8" />
<text transform="translate(43.60 554.70) scale(1.0 1)" font-size="8.9" text-anchor="end" fill="#282828" style="color:#282828" font-weight="normal"  >75</text>
<line x1="45.60" y1="537.40" x2="47.20" y2="537.40" stroke="#222" stroke-width="0.8" />
<text transform="translate(43.60 540.50) scale(1.0 1)" font-size="8.9" text-anchor="end" fill="#282828" style="color:#282828" font-weight="normal"  >100</text>
<text transform="translate(94.70 526.70) scale(1.0 1)" font-size="8.5" text-anchor="middle" fill="#282828" style="color:#282828" font-weight="normal"  >Lenz <tspan font-style="italic">et al.</tspan></text>
<rect x="53.00" y="566.50" width="4.70" height="4.40" fill="#9c1d4e" />
<text transform="translate(60.70 570.90) scale(1.0 1)" font-size="8.9" text-anchor="start" fill="#9c1d4e" style="color:#9c1d4e" font-weight="normal"  >70</text>
<rect x="53.00" y="574.40" width="4.70" height="4.40" fill="#90b2d6" />
<text transform="translate(60.70 578.75) scale(1.0 1)" font-size="8.9" text-anchor="start" fill="#9ab6d8" style="color:#9ab6d8" font-weight="normal"  >162</text>
<text transform="translate(54.20 589.90) scale(1.0 1)" font-size="8.7" text-anchor="start" fill="#b8b8b8" style="color:#b8b8b8" font-weight="normal"  ><tspan font-style="italic">P</tspan> &lt; 0.0001</text>
<polygon points="161.00,537.40 161.46,537.99 162.43,538.57 163.20,539.18 164.14,539.79 164.44,540.43 165.06,541.06 165.33,541.71 165.37,542.37 165.80,543.01 167.03,543.61 167.17,544.27 167.77,544.90 169.52,545.58 169.56,546.34 177.25,546.80 181.77,547.40 185.30,548.04 188.09,548.71 192.90,549.21 194.17,549.81 194.71,550.44 196.21,551.03 209.75,551.69 216.53,552.49 218.01,553.11 220.57,553.71 226.68,554.23 229.44,554.83 234.19,555.38 240.90,555.90 241.72,556.54 243.21,557.17 244.97,557.80 255.80,558.59 255.80,564.27 244.97,563.01 243.21,562.31 241.72,561.62 240.90,560.94 234.19,560.12 229.44,559.35 226.68,558.62 220.57,557.82 218.01,557.09 216.53,556.39 209.75,555.26 196.21,553.87 194.71,553.19 194.17,552.54 192.90,551.86 188.09,551.08 185.30,550.23 181.77,549.36 177.25,548.45 169.56,547.39 169.52,546.64 167.77,545.80 167.17,545.11 167.03,544.44 165.80,543.72 165.37,543.03 165.33,542.37 165.06,541.69 164.44,540.99 164.14,540.31 163.20,539.59 162.43,538.88 161.46,538.13 161.00,537.40" fill="#e4ecf6"/>
<polygon points="161.00,537.40 164.11,537.40 164.71,538.92 164.79,540.90 164.83,542.46 165.03,544.00 165.27,545.54 165.74,547.07 168.45,546.86 169.13,554.53 171.29,556.43 175.90,557.17 179.42,558.96 186.60,560.15 188.76,561.60 200.95,562.92 211.11,564.60 227.36,565.95 243.61,565.37 243.84,566.85 243.85,568.34 243.88,569.83 244.29,571.31 255.80,570.91 255.80,580.00 244.29,579.61 243.88,578.10 243.85,576.61 243.84,575.12 243.61,573.62 227.36,573.03 211.11,570.41 200.95,567.88 188.76,565.45 186.60,563.78 179.42,561.85 175.90,559.66 171.29,558.35 169.13,556.16 168.45,548.39 165.74,548.18 165.27,546.58 165.03,545.00 164.83,543.42 164.79,541.85 164.71,539.86 164.11,537.82 161.00,537.40" fill="#f6e4ec"/>
<path d="M161.00,537.40 H161.46 V538.06 H162.43 V538.73 H163.20 V539.39 H164.14 V540.05 H164.44 V540.71 H165.06 V541.38 H165.33 V542.04 H165.37 V542.70 H165.80 V543.36 H167.03 V544.03 H167.17 V544.69 H167.77 V545.35 H169.52 V546.11 H169.56 V546.87 H177.25 V547.62 H181.77 V548.38 H185.30 V549.14 H188.09 V549.90 H192.90 V550.53 H194.17 V551.17 H194.71 V551.81 H196.21 V552.45 H209.75 V553.47 H216.53 V554.44 H218.01 V555.10 H220.57 V555.77 H226.68 V556.43 H229.44 V557.09 H234.19 V557.75 H240.90 V558.42 H241.72 V559.08 H243.21 V559.74 H244.97 V560.40 H255.80 V561.43" fill="none" stroke="#8cb0d8" stroke-width="1.6"/>
<line x1="198.64" y1="549.85" x2="198.64" y2="552.45" stroke="#8cb0d8" stroke-width="0.9" />
<line x1="240.54" y1="555.15" x2="240.54" y2="557.75" stroke="#8cb0d8" stroke-width="0.9" />
<line x1="175.65" y1="544.27" x2="175.65" y2="546.87" stroke="#8cb0d8" stroke-width="0.9" />
<line x1="242.08" y1="556.48" x2="242.08" y2="559.08" stroke="#8cb0d8" stroke-width="0.9" />
<line x1="248.29" y1="557.80" x2="248.29" y2="560.40" stroke="#8cb0d8" stroke-width="0.9" />
<line x1="252.32" y1="557.80" x2="252.32" y2="560.40" stroke="#8cb0d8" stroke-width="0.9" />
<line x1="210.08" y1="550.87" x2="210.08" y2="553.47" stroke="#8cb0d8" stroke-width="0.9" />
<line x1="223.57" y1="553.17" x2="223.57" y2="555.77" stroke="#8cb0d8" stroke-width="0.9" />
<line x1="225.89" y1="553.17" x2="225.89" y2="555.77" stroke="#8cb0d8" stroke-width="0.9" />
<line x1="229.71" y1="554.49" x2="229.71" y2="557.09" stroke="#8cb0d8" stroke-width="0.9" />
<line x1="254.22" y1="557.80" x2="254.22" y2="560.40" stroke="#8cb0d8" stroke-width="0.9" />
<line x1="233.64" y1="554.49" x2="233.64" y2="557.09" stroke="#8cb0d8" stroke-width="0.9" />
<line x1="202.99" y1="549.85" x2="202.99" y2="552.45" stroke="#8cb0d8" stroke-width="0.9" />
<line x1="246.10" y1="557.80" x2="246.10" y2="560.40" stroke="#8cb0d8" stroke-width="0.9" />
<line x1="218.23" y1="552.50" x2="218.23" y2="555.10" stroke="#8cb0d8" stroke-width="0.9" />
<line x1="227.28" y1="553.83" x2="227.28" y2="556.43" stroke="#8cb0d8" stroke-width="0.9" />
<line x1="236.58" y1="555.15" x2="236.58" y2="557.75" stroke="#8cb0d8" stroke-width="0.9" />
<line x1="171.16" y1="544.27" x2="171.16" y2="546.87" stroke="#8cb0d8" stroke-width="0.9" />
<line x1="239.73" y1="555.15" x2="239.73" y2="557.75" stroke="#8cb0d8" stroke-width="0.9" />
<line x1="231.81" y1="554.49" x2="231.81" y2="557.09" stroke="#8cb0d8" stroke-width="0.9" />
<line x1="218.85" y1="552.50" x2="218.85" y2="555.10" stroke="#8cb0d8" stroke-width="0.9" />
<line x1="221.33" y1="553.17" x2="221.33" y2="555.77" stroke="#8cb0d8" stroke-width="0.9" />
<line x1="216.36" y1="550.87" x2="216.36" y2="553.47" stroke="#8cb0d8" stroke-width="0.9" />
<line x1="193.40" y1="547.93" x2="193.40" y2="550.53" stroke="#8cb0d8" stroke-width="0.9" />
<line x1="221.79" y1="553.17" x2="221.79" y2="555.77" stroke="#8cb0d8" stroke-width="0.9" />
<path d="M161.00,537.40 H164.11 V537.40 H164.71 V539.39 H164.79 V541.38 H164.83 V542.94 H165.03 V544.50 H165.27 V546.06 H165.74 V547.62 H168.45 V547.62 H169.13 V555.35 H171.29 V557.39 H175.90 V558.42 H179.42 V560.40 H186.60 V561.97 H188.76 V563.53 H200.95 V565.40 H211.11 V567.50 H227.36 V569.49 H243.61 V569.49 H243.84 V570.98 H243.85 V572.47 H243.88 V573.97 H244.29 V575.46 H255.80 V575.46" fill="none" stroke="#9c1d4e" stroke-width="1.6"/>
<line x1="176.59" y1="555.82" x2="176.59" y2="558.42" stroke="#9c1d4e" stroke-width="0.9" />
<line x1="219.52" y1="564.90" x2="219.52" y2="567.50" stroke="#9c1d4e" stroke-width="0.9" />
<line x1="230.63" y1="566.89" x2="230.63" y2="569.49" stroke="#9c1d4e" stroke-width="0.9" />
<line x1="215.06" y1="564.90" x2="215.06" y2="567.50" stroke="#9c1d4e" stroke-width="0.9" />
<line x1="224.59" y1="564.90" x2="224.59" y2="567.50" stroke="#9c1d4e" stroke-width="0.9" />
<line x1="252.99" y1="572.86" x2="252.99" y2="575.46" stroke="#9c1d4e" stroke-width="0.9" />
<line x1="248.35" y1="572.86" x2="248.35" y2="575.46" stroke="#9c1d4e" stroke-width="0.9" />
<line x1="187.73" y1="559.37" x2="187.73" y2="561.97" stroke="#9c1d4e" stroke-width="0.9" />
<line x1="241.31" y1="566.89" x2="241.31" y2="569.49" stroke="#9c1d4e" stroke-width="0.9" />
<line x1="228.93" y1="566.89" x2="228.93" y2="569.49" stroke="#9c1d4e" stroke-width="0.9" />
<line x1="178.32" y1="555.82" x2="178.32" y2="558.42" stroke="#9c1d4e" stroke-width="0.9" />
<line x1="208.15" y1="562.80" x2="208.15" y2="565.40" stroke="#9c1d4e" stroke-width="0.9" />
<rect x="161.00" y="531.70" width="94.80" height="62.60" fill="none" stroke="#222" stroke-width="1.1"/>
<line x1="161.00" y1="594.30" x2="161.00" y2="595.90" stroke="#222" stroke-width="0.8" />
<text transform="translate(161.00 605.50) scale(1.0 1)" font-size="8.9" text-anchor="middle" fill="#282828" style="color:#282828" font-weight="normal"  >0</text>
<line x1="174.54" y1="594.30" x2="174.54" y2="595.90" stroke="#222" stroke-width="0.8" />
<text transform="translate(174.54 605.50) scale(1.0 1)" font-size="8.9" text-anchor="middle" fill="#282828" style="color:#282828" font-weight="normal"  >1</text>
<line x1="188.09" y1="594.30" x2="188.09" y2="595.90" stroke="#222" stroke-width="0.8" />
<text transform="translate(188.09 605.50) scale(1.0 1)" font-size="8.9" text-anchor="middle" fill="#282828" style="color:#282828" font-weight="normal"  >2</text>
<line x1="201.63" y1="594.30" x2="201.63" y2="595.90" stroke="#222" stroke-width="0.8" />
<text transform="translate(201.63 605.50) scale(1.0 1)" font-size="8.9" text-anchor="middle" fill="#282828" style="color:#282828" font-weight="normal"  >3</text>
<line x1="215.17" y1="594.30" x2="215.17" y2="595.90" stroke="#222" stroke-width="0.8" />
<text transform="translate(215.17 605.50) scale(1.0 1)" font-size="8.9" text-anchor="middle" fill="#282828" style="color:#282828" font-weight="normal"  >4</text>
<line x1="228.71" y1="594.30" x2="228.71" y2="595.90" stroke="#222" stroke-width="0.8" />
<text transform="translate(228.71 605.50) scale(1.0 1)" font-size="8.9" text-anchor="middle" fill="#282828" style="color:#282828" font-weight="normal"  >5</text>
<line x1="242.26" y1="594.30" x2="242.26" y2="595.90" stroke="#222" stroke-width="0.8" />
<text transform="translate(242.26 605.50) scale(1.0 1)" font-size="8.9" text-anchor="middle" fill="#282828" style="color:#282828" font-weight="normal"  >6</text>
<line x1="255.80" y1="594.30" x2="255.80" y2="595.90" stroke="#222" stroke-width="0.8" />
<text transform="translate(255.80 605.50) scale(1.0 1)" font-size="8.9" text-anchor="middle" fill="#282828" style="color:#282828" font-weight="normal"  >7</text>
<text transform="translate(208.40 526.70) scale(1.0 1)" font-size="8.5" text-anchor="middle" fill="#282828" style="color:#282828" font-weight="normal"  >Barrans <tspan font-style="italic">et al.</tspan></text>
<rect x="166.80" y="566.50" width="4.70" height="4.40" fill="#9c1d4e" />
<text transform="translate(174.50 570.90) scale(1.0 1)" font-size="8.9" text-anchor="start" fill="#9c1d4e" style="color:#9c1d4e" font-weight="normal"  >40</text>
<rect x="166.80" y="574.40" width="4.70" height="4.40" fill="#90b2d6" />
<text transform="translate(174.50 578.75) scale(1.0 1)" font-size="8.9" text-anchor="start" fill="#9ab6d8" style="color:#9ab6d8" font-weight="normal"  >100</text>
<text transform="translate(167.60 589.90) scale(1.0 1)" font-size="8.7" text-anchor="start" fill="#b8b8b8" style="color:#b8b8b8" font-weight="normal"  ><tspan font-style="italic">P</tspan> = 0.017</text>
<polygon points="275.20,537.40 282.46,537.64 283.03,538.32 284.65,538.91 286.40,539.50 286.51,540.16 286.82,540.81 287.41,541.45 287.73,542.10 290.47,542.62 290.77,543.24 292.48,543.80 293.13,544.40 294.00,545.00 294.27,545.59 294.49,546.18 294.68,546.77 300.27,547.18 314.37,547.22 319.23,547.86 338.65,548.14 339.28,548.78 340.60,549.42 342.57,550.03 365.28,550.55 366.07,555.64 369.20,555.58 369.20,561.26 366.07,561.19 365.28,556.06 342.57,554.53 340.60,553.82 339.28,553.13 338.65,552.45 319.23,551.20 314.37,550.30 300.27,549.43 294.68,548.65 294.49,548.05 294.27,547.45 294.00,546.84 293.13,546.19 292.48,545.54 290.77,544.85 290.47,544.22 287.73,543.49 287.41,542.81 286.82,542.13 286.51,541.45 286.40,540.79 284.65,540.05 283.03,539.32 282.46,538.58 275.20,537.40" fill="#e4ecf6"/>
<polygon points="275.20,540.24 283.97,539.38 284.34,540.91 285.54,542.39 285.65,544.52 286.95,546.56 290.08,547.51 292.78,548.77 295.10,550.07 298.01,551.90 298.23,553.88 306.53,554.89 307.80,556.11 310.45,557.27 317.50,558.94 323.77,560.67 327.86,561.78 328.47,563.03 329.31,564.47 332.82,565.81 334.73,567.21 338.50,568.53 340.11,569.92 341.00,571.35 365.28,570.48 365.44,589.78 365.44,594.20 365.28,579.30 341.00,578.43 340.11,576.94 338.50,575.42 334.73,573.81 332.82,572.26 329.31,570.65 328.47,569.14 327.86,567.83 323.77,566.39 317.50,564.14 310.45,561.84 307.80,560.44 306.53,559.10 298.23,557.27 298.01,555.27 295.10,553.13 292.78,551.59 290.08,550.01 286.95,548.68 285.65,546.47 285.54,544.33 284.34,542.69 283.97,541.10 275.20,540.24" fill="#f6e4ec"/>
<path d="M275.20,537.40 H282.46 V538.11 H283.03 V538.82 H284.65 V539.48 H286.40 V540.15 H286.51 V540.81 H286.82 V541.47 H287.41 V542.13 H287.73 V542.80 H290.47 V543.42 H290.77 V544.05 H292.48 V544.67 H293.13 V545.30 H294.00 V545.92 H294.27 V546.52 H294.49 V547.11 H294.68 V547.71 H300.27 V548.31 H314.37 V548.76 H319.23 V549.53 H338.65 V550.29 H339.28 V550.96 H340.60 V551.62 H342.57 V552.28 H365.28 V553.30 H366.07 V558.42 H369.20 V558.42" fill="none" stroke="#8cb0d8" stroke-width="1.6"/>
<line x1="348.15" y1="549.68" x2="348.15" y2="552.28" stroke="#8cb0d8" stroke-width="0.9" />
<line x1="336.08" y1="546.93" x2="336.08" y2="549.53" stroke="#8cb0d8" stroke-width="0.9" />
<line x1="327.03" y1="546.93" x2="327.03" y2="549.53" stroke="#8cb0d8" stroke-width="0.9" />
<line x1="344.48" y1="549.68" x2="344.48" y2="552.28" stroke="#8cb0d8" stroke-width="0.9" />
<line x1="317.29" y1="546.16" x2="317.29" y2="548.76" stroke="#8cb0d8" stroke-width="0.9" />
<line x1="330.40" y1="546.93" x2="330.40" y2="549.53" stroke="#8cb0d8" stroke-width="0.9" />
<line x1="352.32" y1="549.68" x2="352.32" y2="552.28" stroke="#8cb0d8" stroke-width="0.9" />
<line x1="325.36" y1="546.93" x2="325.36" y2="549.53" stroke="#8cb0d8" stroke-width="0.9" />
<line x1="306.11" y1="545.71" x2="306.11" y2="548.31" stroke="#8cb0d8" stroke-width="0.9" />
<line x1="362.32" y1="549.68" x2="362.32" y2="552.28" stroke="#8cb0d8" stroke-width="0.9" />
<line x1="349.63" y1="549.68" x2="349.63" y2="552.28" stroke="#8cb0d8" stroke-width="0.9" />
<line x1="322.53" y1="546.93" x2="322.53" y2="549.53" stroke="#8cb0d8" stroke-width="0.9" />
<line x1="322.87" y1="546.93" x2="322.87" y2="549.53" stroke="#8cb0d8" stroke-width="0.9" />
<line x1="335.46" y1="546.93" x2="335.46" y2="549.53" stroke="#8cb0d8" stroke-width="0.9" />
<line x1="340.56" y1="548.36" x2="340.56" y2="550.96" stroke="#8cb0d8" stroke-width="0.9" />
<line x1="310.15" y1="545.71" x2="310.15" y2="548.31" stroke="#8cb0d8" stroke-width="0.9" />
<line x1="285.35" y1="536.88" x2="285.35" y2="539.48" stroke="#8cb0d8" stroke-width="0.9" />
<line x1="308.78" y1="545.71" x2="308.78" y2="548.31" stroke="#8cb0d8" stroke-width="0.9" />
<line x1="354.18" y1="549.68" x2="354.18" y2="552.28" stroke="#8cb0d8" stroke-width="0.9" />
<line x1="302.50" y1="545.71" x2="302.50" y2="548.31" stroke="#8cb0d8" stroke-width="0.9" />
<line x1="330.05" y1="546.93" x2="330.05" y2="549.53" stroke="#8cb0d8" stroke-width="0.9" />
<line x1="307.51" y1="545.71" x2="307.51" y2="548.31" stroke="#8cb0d8" stroke-width="0.9" />
<line x1="308.81" y1="545.71" x2="308.81" y2="548.31" stroke="#8cb0d8" stroke-width="0.9" />
<line x1="305.17" y1="545.71" x2="305.17" y2="548.31" stroke="#8cb0d8" stroke-width="0.9" />
<line x1="325.55" y1="546.93" x2="325.55" y2="549.53" stroke="#8cb0d8" stroke-width="0.9" />
<path d="M275.20,540.24 H283.97 V540.24 H284.34 V541.80 H285.54 V543.36 H285.65 V545.49 H286.95 V547.62 H290.08 V548.76 H292.78 V550.18 H295.10 V551.60 H298.01 V553.59 H298.23 V555.58 H306.53 V557.00 H307.80 V558.27 H310.45 V559.55 H317.50 V561.54 H323.77 V563.53 H327.86 V564.81 H328.47 V566.08 H329.31 V567.56 H332.82 V569.04 H334.73 V570.51 H338.50 V571.97 H340.11 V573.43 H341.00 V574.89 H365.28 V574.89 H365.44 V594.20" fill="none" stroke="#9c1d4e" stroke-width="1.6"/>
<line x1="303.74" y1="552.98" x2="303.74" y2="555.58" stroke="#9c1d4e" stroke-width="0.9" />
<line x1="288.80" y1="545.02" x2="288.80" y2="547.62" stroke="#9c1d4e" stroke-width="0.9" />
<line x1="298.12" y1="550.99" x2="298.12" y2="553.59" stroke="#9c1d4e" stroke-width="0.9" />
<line x1="303.74" y1="552.98" x2="303.74" y2="555.58" stroke="#9c1d4e" stroke-width="0.9" />
<line x1="330.14" y1="564.96" x2="330.14" y2="567.56" stroke="#9c1d4e" stroke-width="0.9" />
<line x1="292.75" y1="546.16" x2="292.75" y2="548.76" stroke="#9c1d4e" stroke-width="0.9" />
<line x1="288.12" y1="545.02" x2="288.12" y2="547.62" stroke="#9c1d4e" stroke-width="0.9" />
<line x1="326.95" y1="560.93" x2="326.95" y2="563.53" stroke="#9c1d4e" stroke-width="0.9" />
<line x1="323.85" y1="560.93" x2="323.85" y2="563.53" stroke="#9c1d4e" stroke-width="0.9" />
<line x1="345.52" y1="572.29" x2="345.52" y2="574.89" stroke="#9c1d4e" stroke-width="0.9" />
<rect x="275.20" y="531.70" width="94.00" height="62.60" fill="none" stroke="#222" stroke-width="1.1"/>
<line x1="275.20" y1="594.30" x2="275.20" y2="595.90" stroke="#222" stroke-width="0.8" />
<text transform="translate(275.20 605.50) scale(1.0 1)" font-size="8.9" text-anchor="middle" fill="#282828" style="color:#282828" font-weight="normal"  >0</text>
<line x1="290.87" y1="594.30" x2="290.87" y2="595.90" stroke="#222" stroke-width="0.8" />
<text transform="translate(290.87 605.50) scale(1.0 1)" font-size="8.9" text-anchor="middle" fill="#282828" style="color:#282828" font-weight="normal"  >1</text>
<line x1="306.53" y1="594.30" x2="306.53" y2="595.90" stroke="#222" stroke-width="0.8" />
<text transform="translate(306.53 605.50) scale(1.0 1)" font-size="8.9" text-anchor="middle" fill="#282828" style="color:#282828" font-weight="normal"  >2</text>
<line x1="322.20" y1="594.30" x2="322.20" y2="595.90" stroke="#222" stroke-width="0.8" />
<text transform="translate(322.20 605.50) scale(1.0 1)" font-size="8.9" text-anchor="middle" fill="#282828" style="color:#282828" font-weight="normal"  >3</text>
<line x1="337.87" y1="594.30" x2="337.87" y2="595.90" stroke="#222" stroke-width="0.8" />
<text transform="translate(337.87 605.50) scale(1.0 1)" font-size="8.9" text-anchor="middle" fill="#282828" style="color:#282828" font-weight="normal"  >4</text>
<line x1="353.53" y1="594.30" x2="353.53" y2="595.90" stroke="#222" stroke-width="0.8" />
<text transform="translate(353.53 605.50) scale(1.0 1)" font-size="8.9" text-anchor="middle" fill="#282828" style="color:#282828" font-weight="normal"  >5</text>
<line x1="369.20" y1="594.30" x2="369.20" y2="595.90" stroke="#222" stroke-width="0.8" />
<text transform="translate(369.20 605.50) scale(1.0 1)" font-size="8.9" text-anchor="middle" fill="#282828" style="color:#282828" font-weight="normal"  >6</text>
<text transform="translate(322.20 526.70) scale(1.0 1)" font-size="8.5" text-anchor="middle" fill="#282828" style="color:#282828" font-weight="normal"  >Dubois <tspan font-style="italic">et al.</tspan></text>
<rect x="281.00" y="566.50" width="4.70" height="4.40" fill="#9c1d4e" />
<text transform="translate(288.70 570.90) scale(1.0 1)" font-size="8.9" text-anchor="start" fill="#9c1d4e" style="color:#9c1d4e" font-weight="normal"  >40</text>
<rect x="281.00" y="574.40" width="4.70" height="4.40" fill="#90b2d6" />
<text transform="translate(288.70 578.75) scale(1.0 1)" font-size="8.9" text-anchor="start" fill="#9ab6d8" style="color:#9ab6d8" font-weight="normal"  >82</text>
<text transform="translate(278.10 589.90) scale(1.0 1)" font-size="8.7" text-anchor="start" fill="#b8b8b8" style="color:#b8b8b8" font-weight="normal"  ><tspan font-style="italic">P</tspan> = 0.0002</text>
<polygon points="389.00,537.40 391.82,537.40 392.01,537.81 394.68,538.33 399.05,538.79 399.52,539.48 400.14,540.17 403.85,540.74 404.02,541.44 404.64,542.08 405.81,542.70 407.78,543.30 410.71,543.86 413.04,544.45 416.23,545.01 417.22,545.52 424.21,545.85 425.07,546.51 436.17,546.89 440.64,547.46 444.52,548.10 447.20,548.77 451.74,549.40 454.73,550.07 482.90,550.46 482.90,556.14 454.73,554.49 451.74,553.68 447.20,552.84 444.52,552.03 440.64,551.20 436.17,550.40 425.07,549.42 424.21,548.71 417.22,547.97 416.23,547.40 413.04,546.64 410.71,545.90 407.78,545.14 405.81,544.41 404.64,543.70 404.02,543.02 403.85,542.30 400.14,541.45 399.52,540.71 399.05,539.98 394.68,539.12 392.01,538.32 391.82,537.64 389.00,537.40" fill="#e4ecf6"/>
<polygon points="389.00,537.40 389.02,539.94 389.47,542.40 390.88,545.06 393.04,547.12 396.04,549.72 397.25,551.62 399.05,553.49 404.02,556.13 405.90,559.04 413.41,560.62 435.95,559.59 436.42,566.68 482.90,564.95 482.90,574.04 436.42,572.31 435.95,565.19 413.41,564.16 405.90,561.77 404.02,558.65 399.05,555.39 397.25,553.28 396.04,551.21 393.04,548.13 390.88,545.65 389.47,542.62 389.02,539.97 389.00,537.40" fill="#f6e4ec"/>
<path d="M389.00,537.40 H391.82 V537.40 H392.01 V538.06 H394.68 V538.73 H399.05 V539.39 H399.52 V540.10 H400.14 V540.81 H403.85 V541.52 H404.02 V542.23 H404.64 V542.89 H405.81 V543.55 H407.78 V544.22 H410.71 V544.88 H413.04 V545.54 H416.23 V546.20 H417.22 V546.74 H424.21 V547.28 H425.07 V547.96 H436.17 V548.65 H440.64 V549.33 H444.52 V550.07 H447.20 V550.80 H451.74 V551.54 H454.73 V552.28 H482.90 V553.30" fill="none" stroke="#8cb0d8" stroke-width="1.6"/>
<line x1="478.33" y1="549.68" x2="478.33" y2="552.28" stroke="#8cb0d8" stroke-width="0.9" />
<line x1="430.69" y1="545.36" x2="430.69" y2="547.96" stroke="#8cb0d8" stroke-width="0.9" />
<line x1="426.27" y1="545.36" x2="426.27" y2="547.96" stroke="#8cb0d8" stroke-width="0.9" />
<line x1="427.67" y1="545.36" x2="427.67" y2="547.96" stroke="#8cb0d8" stroke-width="0.9" />
<line x1="470.12" y1="549.68" x2="470.12" y2="552.28" stroke="#8cb0d8" stroke-width="0.9" />
<line x1="456.72" y1="549.68" x2="456.72" y2="552.28" stroke="#8cb0d8" stroke-width="0.9" />
<line x1="434.44" y1="545.36" x2="434.44" y2="547.96" stroke="#8cb0d8" stroke-width="0.9" />
<line x1="411.11" y1="542.28" x2="411.11" y2="544.88" stroke="#8cb0d8" stroke-width="0.9" />
<line x1="460.64" y1="549.68" x2="460.64" y2="552.28" stroke="#8cb0d8" stroke-width="0.9" />
<line x1="480.82" y1="549.68" x2="480.82" y2="552.28" stroke="#8cb0d8" stroke-width="0.9" />
<line x1="453.97" y1="548.94" x2="453.97" y2="551.54" stroke="#8cb0d8" stroke-width="0.9" />
<line x1="399.34" y1="536.79" x2="399.34" y2="539.39" stroke="#8cb0d8" stroke-width="0.9" />
<line x1="403.54" y1="538.21" x2="403.54" y2="540.81" stroke="#8cb0d8" stroke-width="0.9" />
<line x1="410.76" y1="542.28" x2="410.76" y2="544.88" stroke="#8cb0d8" stroke-width="0.9" />
<line x1="418.90" y1="544.14" x2="418.90" y2="546.74" stroke="#8cb0d8" stroke-width="0.9" />
<line x1="404.38" y1="539.63" x2="404.38" y2="542.23" stroke="#8cb0d8" stroke-width="0.9" />
<line x1="406.56" y1="540.95" x2="406.56" y2="543.55" stroke="#8cb0d8" stroke-width="0.9" />
<line x1="458.58" y1="549.68" x2="458.58" y2="552.28" stroke="#8cb0d8" stroke-width="0.9" />
<line x1="476.09" y1="549.68" x2="476.09" y2="552.28" stroke="#8cb0d8" stroke-width="0.9" />
<line x1="421.77" y1="544.14" x2="421.77" y2="546.74" stroke="#8cb0d8" stroke-width="0.9" />
<line x1="481.13" y1="549.68" x2="481.13" y2="552.28" stroke="#8cb0d8" stroke-width="0.9" />
<line x1="445.12" y1="547.47" x2="445.12" y2="550.07" stroke="#8cb0d8" stroke-width="0.9" />
<line x1="469.34" y1="549.68" x2="469.34" y2="552.28" stroke="#8cb0d8" stroke-width="0.9" />
<line x1="477.27" y1="549.68" x2="477.27" y2="552.28" stroke="#8cb0d8" stroke-width="0.9" />
<line x1="478.82" y1="549.68" x2="478.82" y2="552.28" stroke="#8cb0d8" stroke-width="0.9" />
<path d="M389.00,537.40 H389.02 V539.96 H389.47 V542.51 H390.88 V545.35 H393.04 V547.62 H396.04 V550.46 H397.25 V552.45 H399.05 V554.44 H404.02 V557.39 H405.90 V560.40 H413.41 V562.39 H435.95 V562.39 H436.42 V569.49 H482.90 V569.49" fill="none" stroke="#9c1d4e" stroke-width="1.6"/>
<line x1="404.07" y1="554.79" x2="404.07" y2="557.39" stroke="#9c1d4e" stroke-width="0.9" />
<line x1="431.05" y1="559.79" x2="431.05" y2="562.39" stroke="#9c1d4e" stroke-width="0.9" />
<line x1="455.07" y1="566.89" x2="455.07" y2="569.49" stroke="#9c1d4e" stroke-width="0.9" />
<line x1="479.27" y1="566.89" x2="479.27" y2="569.49" stroke="#9c1d4e" stroke-width="0.9" />
<line x1="410.46" y1="557.80" x2="410.46" y2="560.40" stroke="#9c1d4e" stroke-width="0.9" />
<line x1="430.08" y1="559.79" x2="430.08" y2="562.39" stroke="#9c1d4e" stroke-width="0.9" />
<line x1="472.59" y1="566.89" x2="472.59" y2="569.49" stroke="#9c1d4e" stroke-width="0.9" />
<line x1="413.33" y1="557.80" x2="413.33" y2="560.40" stroke="#9c1d4e" stroke-width="0.9" />
<line x1="438.17" y1="566.89" x2="438.17" y2="569.49" stroke="#9c1d4e" stroke-width="0.9" />
<line x1="433.55" y1="559.79" x2="433.55" y2="562.39" stroke="#9c1d4e" stroke-width="0.9" />
<rect x="389.00" y="531.70" width="93.90" height="62.60" fill="none" stroke="#222" stroke-width="1.1"/>
<line x1="389.00" y1="594.30" x2="389.00" y2="595.90" stroke="#222" stroke-width="0.8" />
<text transform="translate(389.00 605.50) scale(1.0 1)" font-size="8.9" text-anchor="middle" fill="#282828" style="color:#282828" font-weight="normal"  >0</text>
<line x1="407.78" y1="594.30" x2="407.78" y2="595.90" stroke="#222" stroke-width="0.8" />
<text transform="translate(407.78 605.50) scale(1.0 1)" font-size="8.9" text-anchor="middle" fill="#282828" style="color:#282828" font-weight="normal"  >2</text>
<line x1="426.56" y1="594.30" x2="426.56" y2="595.90" stroke="#222" stroke-width="0.8" />
<text transform="translate(426.56 605.50) scale(1.0 1)" font-size="8.9" text-anchor="middle" fill="#282828" style="color:#282828" font-weight="normal"  >4</text>
<line x1="445.34" y1="594.30" x2="445.34" y2="595.90" stroke="#222" stroke-width="0.8" />
<text transform="translate(445.34 605.50) scale(1.0 1)" font-size="8.9" text-anchor="middle" fill="#282828" style="color:#282828" font-weight="normal"  >6</text>
<line x1="464.12" y1="594.30" x2="464.12" y2="595.90" stroke="#222" stroke-width="0.8" />
<text transform="translate(464.12 605.50) scale(1.0 1)" font-size="8.9" text-anchor="middle" fill="#282828" style="color:#282828" font-weight="normal"  >8</text>
<line x1="482.90" y1="594.30" x2="482.90" y2="595.90" stroke="#222" stroke-width="0.8" />
<text transform="translate(482.90 605.50) scale(1.0 1)" font-size="8.9" text-anchor="middle" fill="#282828" style="color:#282828" font-weight="normal"  >10</text>
<text transform="translate(435.95 526.70) scale(1.0 1)" font-size="8.5" text-anchor="middle" fill="#282828" style="color:#282828" font-weight="normal"  >Chapuy <tspan font-style="italic">et al.</tspan></text>
<rect x="394.80" y="566.50" width="4.70" height="4.40" fill="#9c1d4e" />
<text transform="translate(402.50 570.90) scale(1.0 1)" font-size="8.9" text-anchor="start" fill="#9c1d4e" style="color:#9c1d4e" font-weight="normal"  >27</text>
<rect x="394.80" y="574.40" width="4.70" height="4.40" fill="#90b2d6" />
<text transform="translate(402.50 578.75) scale(1.0 1)" font-size="8.9" text-anchor="start" fill="#9ab6d8" style="color:#9ab6d8" font-weight="normal"  >74</text>
<text transform="translate(392.20 589.90) scale(1.0 1)" font-size="8.7" text-anchor="start" fill="#b8b8b8" style="color:#b8b8b8" font-weight="normal"  ><tspan font-style="italic">P</tspan> = 0.002</text>
<text transform="translate(23.3,467.1) rotate(-90)" font-size="8.6" text-anchor="middle" fill="#282828">Percent survival</text>
<text transform="translate(23.3,565.0) rotate(-90)" font-size="8.6" text-anchor="middle" fill="#282828">Percent survival</text>
<line x1="47.00" y1="613.30" x2="483.50" y2="613.30" stroke="#555" stroke-width="1.3" />
<text transform="translate(264.60 624.20) scale(1.0 1)" font-size="8.5" text-anchor="middle" fill="#282828" style="color:#282828" font-weight="normal"  >OS (years)</text>
</svg>
</body></html>
